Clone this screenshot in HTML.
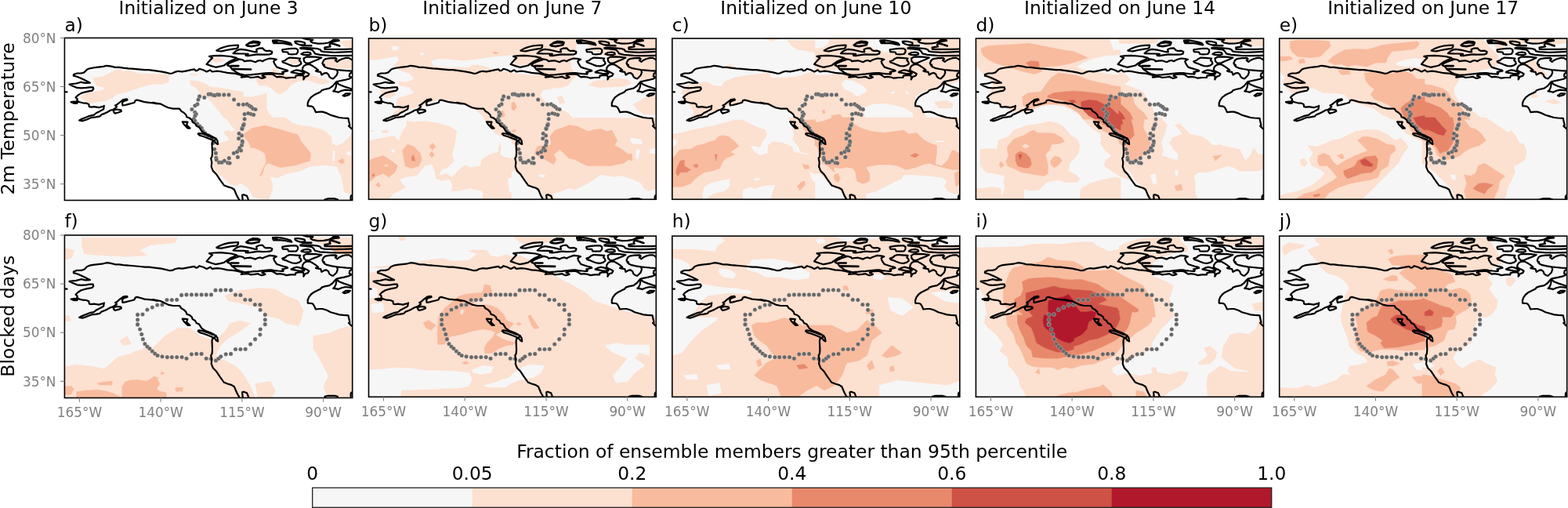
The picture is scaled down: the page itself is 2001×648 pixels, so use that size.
<!DOCTYPE html><html><head><meta charset="utf-8"><style>html,body{margin:0;padding:0;background:#fff;}body{width:2001px;height:648px;overflow:hidden;}svg{display:block;}text{font-family:"DejaVu Sans", "Liberation Sans", sans-serif;}</style></head><body>
<svg width="2001" height="648" viewBox="0 0 2001 648">
<defs>
<clipPath id="cp00"><rect x="82.4" y="48.4" width="367.3" height="207.1"/></clipPath>
<clipPath id="cp01"><rect x="470.5" y="49.0" width="366.8" height="205.3"/></clipPath>
<clipPath id="cp02"><rect x="857.8" y="49.0" width="367.0" height="205.3"/></clipPath>
<clipPath id="cp03"><rect x="1245.4" y="49.0" width="367.1" height="205.3"/></clipPath>
<clipPath id="cp04"><rect x="1632.7" y="49.0" width="367.0" height="205.3"/></clipPath>
<clipPath id="cp10"><rect x="82.4" y="300.0" width="367.3" height="207.5"/></clipPath>
<clipPath id="cp11"><rect x="470.5" y="301.1" width="366.8" height="205.2"/></clipPath>
<clipPath id="cp12"><rect x="857.8" y="301.1" width="367.0" height="205.2"/></clipPath>
<clipPath id="cp13"><rect x="1245.4" y="301.1" width="367.1" height="205.2"/></clipPath>
<clipPath id="cp14"><rect x="1632.7" y="301.1" width="367.0" height="205.2"/></clipPath>
</defs>
<g clip-path="url(#cp00)">
<rect x="82.4" y="48.4" width="367.3" height="207.1" fill="#ffffff"/>
<path d="M190.0,130.8 195.4,131.3 200.8,132.4 195.0,130.8 200.4,131.8 205.0,132.6 209.6,134.9 214.3,137.2 220.7,138.6 229.1,138.6 231.4,141.9 234.6,143.7 237.4,146.5 238.3,149.3 242.0,150.6 244.8,153.0 245.7,155.7 249.0,157.6 250.8,160.8 254.0,162.2 254.9,163.5 255.9,165.0 257.3,167.3 258.0,167.8 259.4,169.8 271.3,174.9 271.5,175.5 271.0,175.4 264.6,172.7 258.1,170.5 253.2,170.0 252.7,171.0 254.8,172.7 260.2,174.3 265.6,176.4 271.0,178.6 272.9,179.8 271.0,180.8 270.5,184.0 270.8,190.5 271.0,194.8 270.5,200.0 269.2,201.9 270.3,207.3 269.7,212.7 271.9,218.1 276.2,222.4 280.5,228.9 285.9,236.4 290.2,238.1 295.6,239.7 298.9,241.8 302.1,249.4 305.4,255.3 305.5,256.5 450.7,256.5 450.7,248.1 439.4,244.9 437.7,235.1 436.1,226.9 432.8,218.7 429.6,212.2 413.2,210.5 396.8,212.2 380.5,218.7 364.1,222.0 354.3,226.9 344.5,225.2 347.8,235.1 347.8,241.6 342.9,254.7 323.2,251.4 320.0,244.9 315.1,238.3 306.9,233.4 302.0,236.7 293.8,235.1 285.6,226.9 275.8,218.7 272.5,212.2 272.5,199.1 274.2,187.6 274.4,187.4 274.7,185.1 279.3,183.4 279.3,184.4 281.6,182.6 293.4,178.3 290.4,175.3 291.1,174.7 288.3,173.3 285.6,167.8 292.5,166.4 296.2,168.8 297.8,166.9 301.9,166.4 298.6,164.0 288.3,151.1 285.0,149.6 281.5,144.3 273.0,134.1 266.0,125.7 265.2,124.8 264.5,124.0 258.4,123.2 250.8,112.5 244.1,108.7 244.0,108.3 242.6,107.4 242.6,104.7 242.4,104.4 242.6,104.5 242.6,102.6 255.4,104.2 266.6,109.0 266.6,110.7 282.1,112.2 298.1,115.4 309.4,117.0 311.0,120.3 308.9,122.3 318.8,124.0 329.0,122.3 340.1,118.9 340.1,138.3 343.1,144.3 347.6,150.0 364.1,150.0 372.3,156.5 380.5,159.8 396.8,161.4 413.2,166.4 423.0,174.5 423.0,182.7 429.6,186.0 437.7,182.7 445.9,174.5 450.7,166.6 450.7,164.3 448.7,164.3 445.0,160.6 446.4,160.0 445.9,157.4 445.0,153.7 444.5,150.9 437.6,150.5 433.0,150.0 426.5,148.1 421.9,146.8 417.2,144.4 411.7,142.6 408.0,142.6 402.9,143.1 401.5,139.8 399.6,136.6 397.8,135.6 392.7,135.2 392.7,131.5 394.1,127.8 396.9,124.1 400.6,121.3 405.2,119.0 405.6,118.9 409.3,117.0 410.5,115.2 414.2,114.0 420.4,112.7 424.7,109.6 427.8,105.9 429.6,104.1 432.7,103.5 438.9,102.2 445.1,100.7 448.2,99.1 430.3,90.2 430.9,92.3 429.6,96.0 426.6,99.1 425.0,100.4 422.8,99.8 420.3,97.9 419.1,94.8 416.6,93.0 414.1,93.3 410.4,95.5 409.2,91.8 404.3,91.1 403.0,90.5 406.1,89.3 403.0,86.8 399.3,84.3 395.6,82.2 391.9,81.9 388.2,83.7 386.4,86.2 385.7,89.3 388.2,91.1 391.3,92.4 394.4,94.2 393.9,95.1 399.3,96.2 407.3,99.4 418.5,102.6 420.1,105.8 410.5,107.4 402.5,105.8 394.5,102.6 388.0,102.6 378.4,104.2 370.4,109.0 365.6,115.4 357.5,120.3 352.7,118.6 346.3,112.2 339.9,109.0 330.2,109.0 327.0,101.0 331.3,98.8 329.3,97.8 324.6,98.5 320.0,99.0 316.6,97.7 312.2,98.1 307.8,98.6 309.5,97.3 307.8,95.9 303.4,94.6 299.0,93.7 294.6,93.3 290.2,92.9 285.8,92.0 281.4,91.1 277.0,90.7 270.8,91.5 268.2,89.3 263.8,91.5 259.4,89.3 254.4,87.8 252.2,89.7 250.1,90.3 247.9,88.4 243.6,89.2 238.2,90.3 232.8,91.3 227.4,90.8 223.1,91.9 219.8,93.5 216.6,93.8 211.2,92.4 205.8,91.3 195.4,89.9 190.0,89.2 184.6,89.2 179.2,88.6 173.8,88.1 168.4,87.6 164.1,87.3 157.6,86.7 152.2,85.9 146.8,85.9 144.6,85.2 140.3,84.3 136.0,83.8 131.7,84.9 127.4,85.4 123.0,85.9 118.7,86.5 114.4,87.3 111.2,88.6 109.0,90.8 107.4,92.4 103.6,93.5 98.2,93.5 93.9,95.1 93.9,96.7 98.2,97.8 103.6,100.0 107.9,102.1 111.2,103.8 114.9,105.7 109.0,105.9 103.6,104.8 97.1,106.5 88.5,107.5 92.8,109.7 98.2,111.9 103.6,112.4 110.1,111.9 114.4,111.3 118.7,111.3 119.3,113.5 117.6,115.6 114.4,116.2 109.0,117.3 103.6,118.9 99.3,121.6 96.6,124.3 98.7,126.4 98.2,128.6 101.4,130.2 105.8,131.3 110.1,131.6 113.3,132.9 113.9,136.2 116.6,136.7 119.8,136.2 123.0,136.7 126.3,137.2 129.5,136.2 132.7,135.6 132.2,139.2 127.4,141.9 123.0,144.0 119.8,146.7 114.4,147.8 109.0,150.0 103.6,152.1 101.2,153.5 105.2,154.3 110.1,152.7 116.6,150.0 122.0,149.4 127.4,148.4 129.5,146.2 133.8,144.6 137.1,143.0 140.9,140.8 144.6,139.7 147.3,137.8 149.0,136.3 147.1,134.5 150.0,133.0 151.1,131.8 155.4,128.6 157.6,127.0 161.9,126.4 162.5,127.5 157.6,129.1 156.0,131.3 156.5,134.5 159.8,134.0 164.1,132.9 168.4,131.8 171.6,130.8 172.7,128.1 174.9,127.5 179.2,128.6 184.6,130.2ZM132.8,134.9 132.8,135.6 132.7,135.6ZM162.3,117.0 149.4,120.3 143.0,125.1 135.0,128.3 123.7,129.9 114.1,131.5 106.1,126.7 102.9,123.5 110.9,118.6 122.1,117.0 130.2,115.4 135.0,112.2 128.6,110.6 123.7,109.0 120.5,104.2 118.9,99.4 130.2,97.8 138.2,94.6 146.2,90.1 152.6,88.1 157.5,91.4 160.1,90.8 163.9,88.9 166.4,90.9 178.3,94.6 194.4,94.6 210.5,94.6 215.3,96.2 215.3,104.2 207.2,107.4 194.4,107.4 181.6,110.6 171.9,113.8ZM244.2,96.2 242.6,94.6 252.2,94.6 250.6,96.2ZM377.4,96.7 377.2,97.6 378.4,97.8 385.6,96.0 382.0,95.8 377.7,96.7ZM334.4,96.7 335.2,96.9 336.6,96.2 339.6,94.7 338.5,94.8 335.3,95.7ZM239.4,155.6 232.8,155.3 234.6,158.5 239.7,163.6 242.5,163.6 238.1,159.4ZM95.0,129.5 90.6,130.2 93.9,131.6 98.2,131.8 99.3,130.2ZM154.4,140.3 149.0,139.5 144.6,140.8 145.2,143.0 146.8,144.6 151.1,143.5 154.9,141.9ZM298.2,57.9 292.0,58.5 285.9,60.0 280.9,61.9 276.3,64.4 277.8,65.0 282.8,65.3 289.0,64.0 295.1,62.8 301.9,61.9 303.8,60.3 304.1,57.6ZM313.6,70.8 316.7,71.1 322.9,70.2 329.1,69.3 335.0,69.7 339.9,69.6 344.3,69.3 346.7,68.4 347.3,65.9 344.3,64.7 339.9,65.0 337.5,64.0 335.0,61.3 330.9,61.6 327.2,63.1 327.8,66.5 324.8,66.2 319.8,65.0 313.6,63.7 307.5,62.8 304.4,63.4 300.7,65.3 297.6,68.1 304.4,68.4 310.6,68.5 316.7,68.9 313.6,69.3ZM273.5,71.1 267.0,71.8 271.0,73.9 269.8,75.2 278.8,73.7 286.9,76.9 275.6,80.1 269.5,75.5 267.3,77.6 263.6,82.0 270.4,84.4 275.4,85.8 280.9,84.7 285.9,83.5 289.6,80.7 293.3,78.2 298.2,76.1 301.9,73.9 295.1,72.1 289.0,71.5 280.9,70.8ZM350.4,75.2 344.3,74.5 339.9,75.8 336.9,77.0 335.0,78.2 332.2,77.0 329.1,77.6 326.0,79.2 322.9,78.2 319.8,77.3 315.5,77.6 311.8,78.2 310.6,76.7 307.5,75.8 303.1,75.2 304.3,76.1 299.0,77.9 292.8,80.5 290.2,83.2 293.7,84.9 296.3,88.5 299.0,90.2 302.5,92.9 306.0,94.2 312.2,95.9 316.6,95.5 320.0,95.3 324.6,94.8 329.3,94.4 333.9,93.9 338.5,93.4 343.0,93.0 346.3,91.4 349.5,86.5 355.9,91.4 361.6,93.7 361.7,93.4 360.3,92.0 361.7,91.6 364.0,91.1 367.2,90.4 366.3,89.5 361.7,88.3 357.0,86.9 353.3,85.6 351.9,83.7 350.1,80.9 349.2,78.2 350.4,77.0 352.9,75.8ZM370.8,55.1 365.9,53.6 359.7,52.3 353.5,51.4 348.0,51.7 348.3,53.2 349.2,55.1 356.6,54.8 362.8,55.4 368.3,56.6 372.3,57.3ZM379.4,56.0 383.1,57.3 387.5,57.3 389.3,56.0 388.7,54.2 384.4,53.2 379.4,52.6 376.4,52.9 377.0,54.8ZM368.3,69.0 372.0,69.3 378.2,69.0 380.1,66.5 380.1,63.4 377.6,61.9 372.0,61.9 365.9,62.5 360.3,63.4 360.3,64.7 360.9,66.2 367.1,66.5ZM387.5,67.1 384.4,69.0 387.5,69.9 393.6,70.2 396.7,69.3 396.1,67.4 392.4,66.5ZM375.1,73.9 369.6,73.6 365.9,75.2 364.0,77.0 360.3,78.2 360.9,79.5 364.6,80.7 369.0,82.6 373.3,84.1 378.2,84.4 381.9,83.2 384.4,81.3 383.8,78.9 381.9,77.0 383.1,74.5ZM381.6,80.1 372.0,81.7 368.8,76.1 380.0,75.3ZM406.0,75.8 410.3,73.6 402.9,72.7 396.7,72.4 390.6,72.7 387.5,74.5 388.1,78.2 390.6,80.7 394.3,80.7 399.8,78.2ZM375.9,93.0 380.8,93.9 385.1,94.2 388.2,93.9 388.2,93.0 385.1,91.1 382.0,89.9 378.3,89.3 374.6,90.5 371.5,92.1 372.2,92.4ZM448.2,113.3 438.9,110.2 432.7,107.8 429.6,104.7 429.3,107.2 428.7,110.9 427.2,114.6 425.3,116.4 429.6,117.0 431.5,117.7 435.8,115.8 440.8,114.6 448.2,115.5ZM445.0,121.3 446.9,119.4 441.3,119.4 437.6,121.8 439.4,122.7ZM434.0,75.6 439.4,76.9 448.4,75.6 442.2,74.9 437.6,74.9ZM412.6,79.5 412.6,81.3 413.5,83.6 416.9,84.9 413.7,81.7 413.7,78.0ZM434.6,86.5 418.7,86.5 419.1,86.9 428.3,88.7 437.6,89.7 449.6,90.6 449.6,88.0ZM423.8,205.6 427.1,205.6 427.9,192.5 424.7,190.9ZM441.0,194.2 444.3,199.1 449.2,197.4 447.6,192.5Z" fill="#f7f6f6" fill-rule="evenodd" stroke="#f7f6f6" stroke-width="0.6" stroke-linejoin="round"/>
<path d="M181.6,110.6 194.4,107.4 207.2,107.4 215.3,104.2 215.3,96.2 210.5,94.6 194.4,94.6 178.3,94.6 166.4,90.9 163.9,88.9 160.1,90.8 157.5,91.4 152.6,88.1 146.2,90.1 138.2,94.6 130.2,97.8 118.9,99.4 120.5,104.2 123.7,109.0 128.6,110.6 135.0,112.2 130.2,115.4 122.1,117.0 110.9,118.6 102.9,123.5 106.1,126.7 114.1,131.5 123.7,129.9 135.0,128.3 143.0,125.1 149.4,120.3 162.3,117.0 171.9,113.8ZM266.6,110.7 266.6,109.0 255.4,104.2 242.6,102.6 242.6,104.5 242.4,104.4 242.6,104.7 242.6,107.4 244.0,108.3 244.1,108.7 250.8,112.5 258.4,123.2 264.5,124.0 265.2,124.8 266.0,125.7 273.0,134.1 281.5,144.3 285.0,149.6 288.3,151.1 298.6,164.0 301.9,166.4 297.8,166.9 296.2,168.8 292.5,166.4 285.6,167.8 288.3,173.3 291.1,174.7 290.4,175.3 293.4,178.3 281.6,182.6 279.3,184.4 279.3,183.4 274.7,185.1 274.4,187.4 274.2,187.6 272.5,199.1 272.5,212.2 275.8,218.7 285.6,226.9 293.8,235.1 302.0,236.7 306.9,233.4 315.1,238.3 320.0,244.9 323.2,251.4 342.9,254.7 347.8,241.6 347.8,235.1 344.5,225.2 354.3,226.9 364.1,222.0 380.5,218.7 396.8,212.2 413.2,210.5 429.6,212.2 432.8,218.7 436.1,226.9 437.7,235.1 439.4,244.9 450.7,248.1 450.7,166.6 445.9,174.5 437.7,182.7 429.6,186.0 423.0,182.7 423.0,174.5 413.2,166.4 396.8,161.4 380.5,159.8 372.3,156.5 364.1,150.0 347.6,150.0 343.1,144.3 340.1,138.3 340.1,118.9 329.0,122.3 318.8,124.0 308.9,122.3 311.0,120.3 309.4,117.0 298.1,115.4 282.1,112.2ZM423.8,205.6 424.7,190.9 427.9,192.5 427.1,205.6ZM449.2,197.4 444.3,199.1 441.0,194.2 447.6,192.5ZM437.7,202.3 439.4,207.2 436.1,208.9 431.2,205.6ZM311.9,170.6 321.7,163.6 338.3,160.1 356.4,165.0 380.0,171.9 384.2,180.3 396.7,195.6 395.3,205.3 385.6,208.1 377.2,210.8 368.9,212.2 357.8,213.6 349.4,210.8 342.5,208.1 338.3,210.8 334.2,223.3 331.4,224.7 335.6,215.0 339.7,206.7 338.3,195.6 331.4,191.4 324.4,188.6 320.3,188.6 317.5,181.7 311.9,174.7ZM252.2,94.6 242.6,94.6 244.2,96.2 250.6,96.2ZM418.5,102.6 407.3,99.4 399.3,96.2 391.2,94.6 378.4,97.8 365.6,95.4 355.9,91.4 349.5,86.5 346.3,91.4 336.6,96.2 327.0,101.0 330.2,109.0 339.9,109.0 346.3,112.2 352.7,118.6 357.5,120.3 365.6,115.4 370.4,109.0 378.4,104.2 388.0,102.6 394.5,102.6 402.5,105.8 410.5,107.4 420.1,105.8ZM450.6,75.3 439.4,76.9 426.6,73.7 413.7,75.3 413.7,81.7 418.5,86.5 434.6,86.5 450.6,88.1ZM433.0,52.8 439.4,59.2 450.6,62.5 450.6,51.2ZM368.8,76.1 372.0,81.7 381.6,80.1 380.0,75.3ZM278.8,73.7 269.2,75.3 275.6,80.1 286.9,76.9Z" fill="#fce0d0" fill-rule="evenodd" stroke="#fce0d0" stroke-width="0.6" stroke-linejoin="round"/>
<path d="M439.4,207.2 437.7,202.3 431.2,205.6 436.1,208.9ZM311.9,174.7 317.5,181.7 320.3,188.6 324.4,188.6 331.4,191.4 338.3,195.6 339.7,206.7 335.6,215.0 331.4,224.7 334.2,223.3 338.3,210.8 342.5,208.1 349.4,210.8 357.8,213.6 368.9,212.2 377.2,210.8 385.6,208.1 395.3,205.3 396.7,195.6 384.2,180.3 380.0,171.9 356.4,165.0 338.3,160.1 321.7,163.6 311.9,170.6Z" fill="#f8bb9e" fill-rule="evenodd" stroke="#f8bb9e" stroke-width="0.6" stroke-linejoin="round"/>
<g fill="#666666" stroke="#ffffff" stroke-width="0.35" stroke-opacity="0.7"><circle cx="254.6" cy="122.9" r="2.6"/><circle cx="253.0" cy="127.1" r="2.6"/><circle cx="251.9" cy="132.9" r="2.6"/><circle cx="248.8" cy="134.8" r="2.6"/><circle cx="244.9" cy="139.5" r="2.6"/><circle cx="248.8" cy="143.3" r="2.6"/><circle cx="250.3" cy="145.6" r="2.6"/><circle cx="248.8" cy="148.0" r="2.6"/><circle cx="247.3" cy="151.8" r="2.6"/><circle cx="248.8" cy="154.1" r="2.6"/><circle cx="251.9" cy="158.0" r="2.6"/><circle cx="255.0" cy="161.1" r="2.6"/><circle cx="257.3" cy="163.4" r="2.6"/><circle cx="260.8" cy="124.4" r="2.6"/><circle cx="266.2" cy="120.2" r="2.6"/><circle cx="268.9" cy="120.2" r="2.6"/><circle cx="272.0" cy="121.3" r="2.6"/><circle cx="274.3" cy="121.7" r="2.6"/><circle cx="277.4" cy="120.6" r="2.6"/><circle cx="279.7" cy="120.9" r="2.6"/><circle cx="285.8" cy="120.9" r="2.6"/><circle cx="292.0" cy="120.9" r="2.6"/><circle cx="298.6" cy="127.1" r="2.6"/><circle cx="304.4" cy="133.3" r="2.6"/><circle cx="310.5" cy="133.3" r="2.6"/><circle cx="315.2" cy="132.9" r="2.6"/><circle cx="318.2" cy="134.8" r="2.6"/><circle cx="320.6" cy="136.4" r="2.6"/><circle cx="322.9" cy="138.7" r="2.6"/><circle cx="326.0" cy="139.5" r="2.6"/><circle cx="323.6" cy="146.4" r="2.6"/><circle cx="319.8" cy="145.3" r="2.6"/><circle cx="316.7" cy="144.5" r="2.6"/><circle cx="312.1" cy="145.6" r="2.6"/><circle cx="312.1" cy="151.8" r="2.6"/><circle cx="311.3" cy="158.4" r="2.6"/><circle cx="310.5" cy="160.3" r="2.6"/><circle cx="309.0" cy="163.4" r="2.6"/><circle cx="259.2" cy="167.3" r="2.6"/><circle cx="261.8" cy="169.9" r="2.6"/><circle cx="266.0" cy="172.9" r="2.6"/><circle cx="270.3" cy="176.7" r="2.6"/><circle cx="272.0" cy="182.6" r="2.6"/><circle cx="273.7" cy="190.3" r="2.6"/><circle cx="275.4" cy="195.4" r="2.6"/><circle cx="275.8" cy="201.3" r="2.6"/><circle cx="276.2" cy="203.8" r="2.6"/><circle cx="279.6" cy="207.2" r="2.6"/><circle cx="283.0" cy="207.2" r="2.6"/><circle cx="286.4" cy="205.1" r="2.6"/><circle cx="290.6" cy="207.7" r="2.6"/><circle cx="293.2" cy="208.1" r="2.6"/><circle cx="292.3" cy="201.7" r="2.6"/><circle cx="298.3" cy="195.4" r="2.6"/><circle cx="302.5" cy="193.7" r="2.6"/><circle cx="303.4" cy="200.4" r="2.6"/><circle cx="305.1" cy="191.1" r="2.6"/><circle cx="307.6" cy="192.0" r="2.6"/><circle cx="305.9" cy="188.6" r="2.6"/><circle cx="308.5" cy="185.2" r="2.6"/><circle cx="309.3" cy="181.8" r="2.6"/><circle cx="309.3" cy="180.1" r="2.6"/><circle cx="304.6" cy="176.7" r="2.6"/><circle cx="308.5" cy="172.9" r="2.6"/><circle cx="305.1" cy="170.3" r="2.6"/><circle cx="308.9" cy="164.4" r="2.6"/><circle cx="310.6" cy="159.7" r="2.6"/></g>
<path d="M101.2,153.5 L103.6,152.1 L109.0,150.0 L114.4,147.8 L119.8,146.7 L123.0,144.0 L127.4,141.9 L132.2,139.2 L132.8,134.9 L132.8,135.6 L129.5,136.2 L126.3,137.2 L123.0,136.7 L119.8,136.2 L116.6,136.7 L113.9,136.2 L113.3,132.9 L110.1,131.6 L105.8,131.3 L101.4,130.2 L98.2,128.6 L98.7,126.4 L96.6,124.3 L99.3,121.6 L103.6,118.9 L109.0,117.3 L114.4,116.2 L117.6,115.6 L119.3,113.5 L118.7,111.3 L114.4,111.3 L110.1,111.9 L103.6,112.4 L98.2,111.9 L92.8,109.7 L88.5,107.5 L97.1,106.5 L103.6,104.8 L109.0,105.9 L114.9,105.7 L111.2,103.8 L107.9,102.1 L103.6,100.0 L98.2,97.8 L93.9,96.7 L93.9,95.1 L98.2,93.5 L103.6,93.5 L107.4,92.4 L109.0,90.8 L111.2,88.6 L114.4,87.3 L118.7,86.5 L123.0,85.9 L127.4,85.4 L131.7,84.9 L136.0,83.8 L140.3,84.3 L144.6,85.2 L146.8,85.9 L152.2,85.9 L157.6,86.7 L164.1,87.3 L168.4,87.6 L173.8,88.1 L179.2,88.6 L184.6,89.2 L190.0,89.2 L195.4,89.9 L205.8,91.3 L211.2,92.4 L216.6,93.8 L219.8,93.5 L223.1,91.9 L227.4,90.8 L232.8,91.3 L238.2,90.3 L243.6,89.2 L247.9,88.4 L250.1,90.3 L252.2,89.7 L254.4,87.8 L259.4,89.3 L263.8,91.5 L268.2,89.3 L270.8,91.5 L277.0,90.7 L281.4,91.1 L285.8,92.0 L290.2,92.9 L294.6,93.3 L299.0,93.7 L303.4,94.6 L307.8,95.9 L309.5,97.3 L307.8,98.6 L312.2,98.1 L316.6,97.7 L320.0,99.0 L324.6,98.5 L329.3,97.8 L331.6,99.0 L333.9,99.9 L336.2,99.4 L338.5,98.5 L336.2,97.1 L334.4,96.7 L335.3,95.7 L338.5,94.8 L343.1,94.4 L346.4,94.6 L348.7,95.3 L351.5,97.1 L353.3,98.3 L357.0,97.8 L361.7,98.5 L365.4,99.7 L370.9,99.0 L376.9,99.0 L377.4,96.7 L377.7,96.7 L382.0,95.8 L387.0,96.1 L387.6,99.2 L387.3,101.3 L389.4,97.9 L393.1,96.7 L394.4,94.2 L391.3,92.4 L388.2,91.1 L385.7,89.3 L386.4,86.2 L388.2,83.7 L391.9,81.9 L395.6,82.2 L399.3,84.3 L403.0,86.8 L406.1,89.3 L403.0,90.5 L404.3,91.1 L409.2,91.8 L410.4,95.5 L414.1,93.3 L416.6,93.0 L419.1,94.8 L420.3,97.9 L422.8,99.8 L425.0,100.4 L426.6,99.1 L429.6,96.0 L430.9,92.3 L430.3,90.2 M448.2,99.1 L445.1,100.7 L438.9,102.2 L432.7,103.5 L429.6,104.1 L427.8,105.9 L424.7,109.6 L420.4,112.7 L414.2,114.0 L410.5,115.2 L409.3,117.0 L405.6,118.9 L405.2,119.0 L400.6,121.3 L396.9,124.1 L394.1,127.8 L392.7,131.5 L392.7,135.2 L397.8,135.6 L399.6,136.6 L401.5,139.8 L402.9,143.1 L408.0,142.6 L411.7,142.6 L417.2,144.4 L421.9,146.8 L426.5,148.1 L433.0,150.0 L437.6,150.5 L444.5,150.9 L445.0,153.7 L445.9,157.4 L446.4,160.0 L445.0,160.6 L448.7,164.3 M448.8,92.3 L446.3,94.2 L445.7,97.3 L448.2,98.5 M101.2,153.5 L105.2,154.3 L110.1,152.7 L116.6,150.0 L122.0,149.4 L127.4,148.4 L129.5,146.2 L133.8,144.6 L137.1,143.0 L140.9,140.8 L144.6,139.7 L147.3,137.8 L149.0,136.3 L147.1,134.5 L150.0,133.0 L151.1,131.8 L155.4,128.6 L157.6,127.0 L161.9,126.4 L162.5,127.5 L157.6,129.1 L156.0,131.3 L156.5,134.5 L159.8,134.0 L164.1,132.9 L168.4,131.8 L171.6,130.8 L172.7,128.1 L174.9,127.5 L179.2,128.6 L184.6,130.2 L190.0,130.8 L195.4,131.3 L200.8,132.4 L195.0,130.8 L200.4,131.8 L205.0,132.6 L209.6,134.9 L214.3,137.2 L220.7,138.6 L229.1,138.6 L231.4,141.9 L234.6,143.7 L237.4,146.5 L238.3,149.3 L242.0,150.6 L244.8,153.0 L245.7,155.7 L249.0,157.6 L250.8,160.8 L254.1,162.2 L255.9,165.0 L257.3,167.3 L260.6,169.6 L262.4,170.5 L268.9,173.2 L273.2,175.4 L275.4,177.5 L273.2,179.7 L271.0,180.8 L270.5,184.0 L270.8,190.5 L271.0,194.8 L270.5,200.0 L269.2,201.9 L270.3,207.3 L269.7,212.7 L271.9,218.1 L276.2,222.4 L280.5,228.9 L285.9,236.4 L290.2,238.1 L295.6,239.7 L298.9,241.8 L302.1,249.4 L305.4,255.3 L305.9,259.1 M253.2,170.0 L258.1,170.5 L264.6,172.7 L271.0,175.4 L275.4,176.4 L277.5,179.7 L278.1,184.0 L275.9,182.9 L274.3,180.8 L271.0,178.6 L265.6,176.4 L260.2,174.3 L254.8,172.7 L252.7,171.0Z M232.8,155.3 L239.4,155.6 L238.1,159.4 L242.5,163.6 L239.7,163.6 L234.6,158.5Z M309.7,259.1 L309.7,255.3 L309.1,248.9 L310.8,248.3 L315.1,249.9 L317.2,255.3 L317.8,259.1 M90.6,130.2 L95.0,129.5 L99.3,130.2 L98.2,131.8 L93.9,131.6Z M144.6,140.8 L149.0,139.5 L154.4,140.3 L154.9,141.9 L151.1,143.5 L146.8,144.6 L145.2,143.0Z M82.0,117.0 L85.5,117.3 M276.3,64.4 L280.9,61.9 L285.9,60.0 L292.0,58.5 L298.2,57.9 L304.1,57.6 L303.8,60.3 L301.9,61.9 L295.1,62.8 L289.0,64.0 L282.8,65.3 L277.8,65.0Z M297.6,68.1 L300.7,65.3 L304.4,63.4 L307.5,62.8 L313.6,63.7 L319.8,65.0 L324.8,66.2 L327.8,66.5 L327.2,63.1 L330.9,61.6 L335.0,61.3 L337.5,64.0 L339.9,65.0 L344.3,64.7 L347.3,65.9 L346.7,68.4 L344.3,69.3 L339.9,69.6 L335.0,69.7 L329.1,69.3 L322.9,70.2 L316.7,71.1 L313.6,70.8 L313.6,69.3 L316.7,68.9 L310.6,68.5 L304.4,68.4Z M267.0,71.8 L273.5,71.1 L280.9,70.8 L289.0,71.5 L295.1,72.1 L301.9,73.9 L298.2,76.1 L293.3,78.2 L289.6,80.7 L285.9,83.5 L280.9,84.7 L275.4,85.8 L270.4,84.4 L263.6,82.0 L267.3,77.6 L271.0,73.9Z M290.2,83.2 L292.8,80.5 L299.0,77.9 L304.3,76.1 L303.1,75.2 L307.5,75.8 L310.6,76.7 L311.8,78.2 L315.5,77.6 L319.8,77.3 L322.9,78.2 L326.0,79.2 L329.1,77.6 L332.2,77.0 L335.0,78.2 L336.9,77.0 L339.9,75.8 L344.3,74.5 L350.4,75.2 L352.9,75.8 L350.4,77.0 L349.2,78.2 L350.1,80.9 L351.9,83.7 L353.3,85.6 L357.0,86.9 L361.7,88.3 L366.3,89.5 L367.2,90.4 L364.0,91.1 L361.7,91.6 L360.3,92.0 L361.7,93.4 L361.2,94.6 L359.4,94.4 L354.7,94.1 L350.1,93.7 L346.4,93.0 L343.1,93.0 L338.5,93.4 L333.9,93.9 L329.3,94.4 L324.6,94.8 L320.0,95.3 L316.6,95.5 L312.2,95.9 L306.0,94.2 L302.5,92.9 L299.0,90.2 L296.3,88.5 L293.7,84.9Z M348.0,51.7 L353.5,51.4 L359.7,52.3 L365.9,53.6 L370.8,55.1 L372.3,57.3 L368.3,56.6 L362.8,55.4 L356.6,54.8 L349.2,55.1 L348.3,53.2Z M376.4,52.9 L379.4,52.6 L384.4,53.2 L388.7,54.2 L389.3,56.0 L387.5,57.3 L383.1,57.3 L379.4,56.0 L377.0,54.8Z M360.3,63.4 L365.9,62.5 L372.0,61.9 L377.6,61.9 L380.1,63.4 L380.1,66.5 L378.2,69.0 L372.0,69.3 L368.3,69.0 L367.1,66.5 L360.9,66.2 L360.3,64.7Z M384.4,69.0 L387.5,67.1 L392.4,66.5 L396.1,67.4 L396.7,69.3 L393.6,70.2 L387.5,69.9Z M360.3,78.2 L364.0,77.0 L365.9,75.2 L369.6,73.6 L375.1,73.9 L383.1,74.5 L381.9,77.0 L383.8,78.9 L384.4,81.3 L381.9,83.2 L378.2,84.4 L373.3,84.1 L369.0,82.6 L364.6,80.7 L360.9,79.5Z M387.5,74.5 L390.6,72.7 L396.7,72.4 L402.9,72.7 L410.3,73.6 L406.0,75.8 L399.8,78.2 L394.3,80.7 L390.6,80.7 L388.1,78.2Z M371.5,92.1 L374.6,90.5 L378.3,89.3 L382.0,89.9 L385.1,91.1 L388.2,93.0 L388.2,93.9 L385.1,94.2 L380.8,93.9 L375.9,93.0 L372.2,92.4Z M386.4,48.7 L392.0,50.2 L399.4,50.8 L396.3,52.6 L398.8,54.5 L405.6,55.7 L413.0,55.5 L419.1,54.5 L423.5,52.3 L425.3,50.5 L432.1,50.8 L432.7,52.0 L427.8,52.6 L423.5,53.6 M422.9,54.8 L420.4,57.3 L421.6,59.4 L414.2,60.7 L414.5,62.8 L426.6,62.8 L438.9,62.8 L449.1,62.5 M383.3,61.0 L389.5,61.1 L396.9,61.3 L405.6,62.2 L408.7,63.4 L409.9,65.3 L414.2,66.2 L426.6,66.8 L438.9,66.4 L449.1,65.9 M383.3,61.0 L383.3,61.9 L389.5,62.5 L397.5,63.4 L400.0,65.3 L401.9,68.4 L408.0,69.9 L420.4,70.8 L432.7,71.1 L449.1,70.8 M449.1,76.4 L447.5,75.2 L445.1,73.9 L441.4,73.9 L436.4,75.2 L432.7,77.0 L430.3,78.9 L427.8,77.0 L429.6,75.2 L428.4,73.9 L421.6,74.2 L415.4,75.2 L413.0,77.0 L411.4,80.7 L413.0,83.8 L413.6,82.5 L414.2,85.2 L417.9,86.8 L423.5,88.0 L429.6,89.0 L435.8,89.6 L442.0,90.2 L449.1,90.6 M429.6,104.7 L432.7,107.8 L438.9,110.2 L448.2,113.3 L448.2,115.5 L440.8,114.6 L435.8,115.8 L431.5,117.7 L429.6,117.0 L425.3,116.4 L427.2,114.6 L428.7,110.9 L429.3,107.2Z M437.6,121.8 L441.3,119.4 L446.9,119.4 L445.0,121.3 L439.4,122.7Z M414.5,254.5 L418.6,253.4 L426.8,253.4 L430.9,254.5 M447.6,254.5 L447.6,250.8 L448.4,249.2" fill="none" stroke="#000" stroke-width="2.2" stroke-linejoin="round" stroke-linecap="round"/>
<path d="M318.6,54.2 L322.9,52.8 L329.1,53.1 L331.5,54.2 L330.6,55.9 L324.1,55.5 L319.2,56.3Z" fill="#000"/>
<path d="M314.3,57.6 L318.6,54.5 L322.9,52.9 L329.1,53.2 L331.5,54.2 L330.3,57.3 L326.0,58.2 L321.0,59.1 L316.1,58.5Z M294.6,84.1 L304.3,84.1 M297.2,88.0 L320.1,88.5 M348.3,52.3 L353.5,53.6 M385.6,58.2 L397.3,58.2 M421.6,55.1 L426.6,56.3 L433.3,58.5" fill="none" stroke="#000" stroke-width="2.6" stroke-linejoin="round" stroke-linecap="round"/>
</g>
<rect x="82.4" y="48.4" width="367.3" height="207.1" fill="none" stroke="#000" stroke-width="1.6"/>
<text x="82.4" y="39.5" font-size="23.3">a)</text>
<text x="266.1" y="17.5" font-size="23.3" text-anchor="middle">Initialized on June 3</text>
<line x1="77.1" y1="48.4" x2="82.4" y2="48.4" stroke="#808080" stroke-width="1.1"/>
<text x="71.5" y="54.6" font-size="16.9" fill="#808080" text-anchor="end">80°N</text>
<line x1="77.1" y1="110.5" x2="82.4" y2="110.5" stroke="#808080" stroke-width="1.1"/>
<text x="71.5" y="116.7" font-size="16.9" fill="#808080" text-anchor="end">65°N</text>
<line x1="77.1" y1="172.6" x2="82.4" y2="172.6" stroke="#808080" stroke-width="1.1"/>
<text x="71.5" y="178.8" font-size="16.9" fill="#808080" text-anchor="end">50°N</text>
<line x1="77.1" y1="234.7" x2="82.4" y2="234.7" stroke="#808080" stroke-width="1.1"/>
<text x="71.5" y="240.9" font-size="16.9" fill="#808080" text-anchor="end">35°N</text>
<g clip-path="url(#cp01)">
<rect x="470.5" y="49.0" width="366.8" height="205.3" fill="#fce0d0"/>
<path d="M502.1,83.3 508.5,76.9 506.9,72.1 495.7,73.7 486.0,76.1 470.0,76.9 470.0,150.0 470.0,166.2 476.5,166.2 478.1,167.8 470.0,168.6 470.0,179.2 486.2,175.9 502.4,172.7 508.9,179.2 512.1,169.4 518.6,159.7 518.6,153.2 526.7,154.9 542.9,154.0 559.1,156.5 575.3,161.3 583.4,167.8 581.8,177.5 580.2,187.3 576.9,197.0 580.2,205.1 570.4,214.8 564.0,216.4 560.7,222.9 570.4,221.3 576.9,226.1 583.4,218.0 593.1,209.9 599.6,213.2 612.6,211.6 614.2,203.5 623.9,197.0 635.2,193.7 636.9,180.8 640.1,187.3 638.5,197.0 645.0,200.2 653.0,201.5 653.0,203.5 657.9,198.6 657.0,184.8 653.0,184.0 653.0,179.8 641.7,174.3 632.0,171.1 623.9,159.7 615.8,150.0 616.9,150.0 614.4,147.5 608.0,141.1 598.4,134.6 582.3,131.4 566.3,127.4 558.3,128.2 547.0,131.4 537.4,136.3 523.0,139.5 511.7,144.3 508.3,150.0 498.7,150.0 502.1,144.3 508.5,137.9 505.3,131.4 506.9,125.0 518.1,121.8 527.8,118.6 523.0,112.2 508.5,109.0 508.5,103.4 518.1,104.2 527.8,101.0 523.0,94.5 510.1,89.7ZM494.1,125.8 486.0,121.8 486.0,113.8 502.1,113.8 505.3,121.8ZM495.9,169.4 487.8,170.2 486.2,166.2 495.9,165.4ZM689.9,91.3 685.1,86.5 669.0,83.3 656.1,83.9 656.1,70.5 638.5,72.1 622.4,73.7 606.4,76.1 590.3,77.7 574.3,76.1 559.9,75.3 550.2,77.7 553.4,84.1 566.3,85.7 582.3,85.7 598.4,85.7 603.2,82.5 611.2,82.5 620.8,84.9 630.5,88.9 646.5,91.3 653.0,92.4 653.0,92.9 669.0,94.5 685.1,96.1ZM503.7,58.4 498.9,60.8 501.3,64.0 506.9,64.0 509.3,60.8ZM541.4,68.5 538.7,66.9 535.8,68.5 538.7,70.5ZM693.1,115.4 689.9,121.8 694.7,128.2 704.3,133.0 714.0,137.9 725.2,144.3 730.9,150.0 838.0,150.0 838.0,147.5 821.5,145.9 813.5,141.1 807.0,133.0 813.5,129.8 821.5,125.0 829.5,120.2 838.0,118.6 838.0,99.3 823.1,102.6 813.5,101.0 805.4,96.1 794.2,91.3 784.6,84.9 778.2,80.1 773.3,72.1 765.3,68.9 755.7,64.0 749.3,57.6 742.9,51.2 734.8,51.2 736.4,64.0 733.2,72.1 728.4,80.1 730.0,88.1 736.4,96.1 731.6,101.0 725.2,109.0 717.2,112.2 706.0,113.0ZM765.3,112.2 749.3,109.0 757.3,103.4 773.3,101.0 789.4,99.3 800.6,101.0 807.0,105.8 797.4,110.6 781.4,111.4ZM714.0,133.0 710.8,123.4 717.2,121.8 722.0,131.4ZM551.0,209.9 542.9,211.6 531.6,224.5 518.6,226.1 510.5,229.4 513.7,234.2 518.6,239.1 502.4,247.2 495.6,255.3 615.8,255.3 615.8,244.0 599.6,240.7 583.4,244.0 575.3,244.0 576.9,235.9 573.7,229.4 564.0,231.0 555.9,227.8 554.2,218.0ZM653.0,245.5 653.0,255.3 693.2,255.3 691.9,247.2 685.4,240.7 674.1,235.9 666.0,227.8 659.5,219.7 653.0,218.0 653.0,226.8 648.2,227.8 649.8,244.0ZM500.8,194.5 504.0,193.7 502.4,190.5 499.2,192.1ZM798.8,226.1 790.7,224.5 782.6,226.1 774.5,224.5 766.4,222.9 763.2,226.1 753.4,232.6 743.7,237.5 734.0,242.3 725.9,240.7 717.8,244.0 706.5,247.2 706.5,255.3 838.3,255.3 838.3,241.0 828.0,244.0 821.5,240.7 818.2,234.2 808.5,229.4ZM819.9,184.0 818.2,178.3 805.3,175.9 804.5,180.0 808.5,183.2ZM816.6,190.5 811.8,192.1 811.8,201.8 814.2,203.5ZM838.3,195.4 838.3,189.0 829.6,190.5 829.6,195.4ZM687.8,225.3 694.3,226.1 695.1,222.9 688.6,222.9Z" fill="#f7f6f6" fill-rule="evenodd" stroke="#f7f6f6" stroke-width="0.6" stroke-linejoin="round"/>
<path d="M636.1,67.6 632.1,66.0 628.9,67.3 632.1,68.9ZM640.0,150.0 641.0,150.0 644.1,147.5 642.5,141.1 638.5,142.7ZM656.2,129.8 653.0,131.4 653.0,139.5 656.2,141.1 659.4,136.3ZM489.4,198.6 478.1,201.8 470.0,205.1 470.0,232.6 474.9,229.4 479.7,224.5 489.4,221.3 495.9,226.1 504.0,219.7 507.3,211.6 499.2,205.1ZM496.7,211.6 491.1,212.4 489.4,210.7 494.3,209.1ZM478.1,224.5 475.7,225.3 474.9,222.9 477.3,221.3ZM528.3,187.3 520.2,184.0 513.7,192.1 515.4,201.8 517.0,211.6 525.1,214.8 534.8,211.6 538.0,203.5 536.4,195.4ZM525.9,205.1 525.1,200.2 527.5,197.8 529.9,205.1ZM551.8,182.4 547.8,187.3 551.8,191.3 555.9,187.3ZM551.0,192.9 547.8,197.0 551.0,201.0 554.2,197.8ZM485.4,236.7 483.0,232.6 479.7,235.9 483.0,239.1ZM698.4,187.3 691.9,185.6 685.4,187.3 682.2,195.4 685.4,198.6 691.9,201.8 698.4,205.1 706.5,209.9 709.7,203.5 706.5,197.0 714.6,190.5 721.0,197.0 725.9,201.8 734.0,203.5 742.1,208.3 750.2,211.6 766.4,211.6 779.4,211.6 785.8,209.9 795.6,208.3 802.0,203.5 806.9,205.1 806.1,196.2 802.0,197.0 795.6,192.1 790.7,188.9 784.2,185.6 787.5,179.2 784.2,172.7 781.0,166.2 774.5,167.8 766.4,164.6 758.3,165.4 750.2,167.8 743.7,164.6 737.2,161.3 725.9,159.7 717.8,163.0 708.1,166.2 701.6,174.3 703.2,179.2 703.2,184.0ZM657.9,167.8 657.9,165.4 653.0,166.2 654.6,168.6Z" fill="#f8bb9e" fill-rule="evenodd" stroke="#f8bb9e" stroke-width="0.6" stroke-linejoin="round"/>
<path d="M525.1,200.2 525.9,205.1 529.9,205.1 527.5,197.8ZM477.3,221.3 474.9,222.9 475.7,225.3 478.1,224.5Z" fill="#e8896c" fill-rule="evenodd" stroke="#e8896c" stroke-width="0.6" stroke-linejoin="round"/>
<g fill="#666666" stroke="#ffffff" stroke-width="0.35" stroke-opacity="0.7"><circle cx="642.7" cy="122.9" r="2.6"/><circle cx="641.1" cy="127.1" r="2.6"/><circle cx="640.0" cy="132.9" r="2.6"/><circle cx="636.9" cy="134.8" r="2.6"/><circle cx="633.0" cy="139.5" r="2.6"/><circle cx="636.9" cy="143.3" r="2.6"/><circle cx="638.4" cy="145.6" r="2.6"/><circle cx="636.9" cy="148.0" r="2.6"/><circle cx="635.4" cy="151.8" r="2.6"/><circle cx="636.9" cy="154.1" r="2.6"/><circle cx="640.0" cy="158.0" r="2.6"/><circle cx="643.1" cy="161.1" r="2.6"/><circle cx="645.4" cy="163.4" r="2.6"/><circle cx="648.9" cy="124.4" r="2.6"/><circle cx="654.3" cy="120.2" r="2.6"/><circle cx="657.0" cy="120.2" r="2.6"/><circle cx="660.1" cy="121.3" r="2.6"/><circle cx="662.4" cy="121.7" r="2.6"/><circle cx="665.5" cy="120.6" r="2.6"/><circle cx="667.8" cy="120.9" r="2.6"/><circle cx="673.9" cy="120.9" r="2.6"/><circle cx="680.1" cy="120.9" r="2.6"/><circle cx="686.7" cy="127.1" r="2.6"/><circle cx="692.5" cy="133.3" r="2.6"/><circle cx="698.6" cy="133.3" r="2.6"/><circle cx="703.3" cy="132.9" r="2.6"/><circle cx="706.3" cy="134.8" r="2.6"/><circle cx="708.7" cy="136.4" r="2.6"/><circle cx="711.0" cy="138.7" r="2.6"/><circle cx="714.1" cy="139.5" r="2.6"/><circle cx="711.7" cy="146.4" r="2.6"/><circle cx="707.9" cy="145.3" r="2.6"/><circle cx="704.8" cy="144.5" r="2.6"/><circle cx="700.2" cy="145.6" r="2.6"/><circle cx="700.2" cy="151.8" r="2.6"/><circle cx="699.4" cy="158.4" r="2.6"/><circle cx="698.6" cy="160.3" r="2.6"/><circle cx="697.1" cy="163.4" r="2.6"/><circle cx="647.3" cy="167.3" r="2.6"/><circle cx="649.9" cy="169.9" r="2.6"/><circle cx="654.1" cy="172.9" r="2.6"/><circle cx="658.4" cy="176.7" r="2.6"/><circle cx="660.1" cy="182.6" r="2.6"/><circle cx="661.8" cy="190.3" r="2.6"/><circle cx="663.5" cy="195.4" r="2.6"/><circle cx="663.9" cy="201.3" r="2.6"/><circle cx="664.3" cy="203.8" r="2.6"/><circle cx="667.7" cy="207.2" r="2.6"/><circle cx="671.1" cy="207.2" r="2.6"/><circle cx="674.5" cy="205.1" r="2.6"/><circle cx="678.7" cy="207.7" r="2.6"/><circle cx="681.3" cy="208.1" r="2.6"/><circle cx="680.4" cy="201.7" r="2.6"/><circle cx="686.4" cy="195.4" r="2.6"/><circle cx="690.6" cy="193.7" r="2.6"/><circle cx="691.5" cy="200.4" r="2.6"/><circle cx="693.2" cy="191.1" r="2.6"/><circle cx="695.7" cy="192.0" r="2.6"/><circle cx="694.0" cy="188.6" r="2.6"/><circle cx="696.6" cy="185.2" r="2.6"/><circle cx="697.4" cy="181.8" r="2.6"/><circle cx="697.4" cy="180.1" r="2.6"/><circle cx="692.7" cy="176.7" r="2.6"/><circle cx="696.6" cy="172.9" r="2.6"/><circle cx="693.2" cy="170.3" r="2.6"/><circle cx="697.0" cy="164.4" r="2.6"/><circle cx="698.7" cy="159.7" r="2.6"/></g>
<path d="M489.3,153.5 L491.7,152.1 L497.1,150.0 L502.5,147.8 L507.9,146.7 L511.1,144.0 L515.5,141.9 L520.3,139.2 L520.9,134.9 L520.9,135.6 L517.6,136.2 L514.4,137.2 L511.1,136.7 L507.9,136.2 L504.7,136.7 L502.0,136.2 L501.4,132.9 L498.2,131.6 L493.9,131.3 L489.5,130.2 L486.3,128.6 L486.8,126.4 L484.7,124.3 L487.4,121.6 L491.7,118.9 L497.1,117.3 L502.5,116.2 L505.7,115.6 L507.4,113.5 L506.8,111.3 L502.5,111.3 L498.2,111.9 L491.7,112.4 L486.3,111.9 L480.9,109.7 L476.6,107.5 L485.2,106.5 L491.7,104.8 L497.1,105.9 L503.0,105.7 L499.3,103.8 L496.0,102.1 L491.7,100.0 L486.3,97.8 L482.0,96.7 L482.0,95.1 L486.3,93.5 L491.7,93.5 L495.5,92.4 L497.1,90.8 L499.3,88.6 L502.5,87.3 L506.8,86.5 L511.1,85.9 L515.5,85.4 L519.8,84.9 L524.1,83.8 L528.4,84.3 L532.7,85.2 L534.9,85.9 L540.3,85.9 L545.7,86.7 L552.2,87.3 L556.5,87.6 L561.9,88.1 L567.3,88.6 L572.7,89.2 L578.1,89.2 L583.5,89.9 L593.9,91.3 L599.3,92.4 L604.7,93.8 L607.9,93.5 L611.2,91.9 L615.5,90.8 L620.9,91.3 L626.3,90.3 L631.7,89.2 L636.0,88.4 L638.2,90.3 L640.3,89.7 L642.5,87.8 L647.5,89.3 L651.9,91.5 L656.3,89.3 L658.9,91.5 L665.1,90.7 L669.5,91.1 L673.9,92.0 L678.3,92.9 L682.7,93.3 L687.1,93.7 L691.5,94.6 L695.9,95.9 L697.6,97.3 L695.9,98.6 L700.3,98.1 L704.7,97.7 L708.1,99.0 L712.7,98.5 L717.4,97.8 L719.7,99.0 L722.0,99.9 L724.3,99.4 L726.6,98.5 L724.3,97.1 L722.5,96.7 L723.4,95.7 L726.6,94.8 L731.2,94.4 L734.5,94.6 L736.8,95.3 L739.6,97.1 L741.4,98.3 L745.1,97.8 L749.8,98.5 L753.5,99.7 L759.0,99.0 L765.0,99.0 L765.5,96.7 L765.8,96.7 L770.1,95.8 L775.1,96.1 L775.7,99.2 L775.4,101.3 L777.5,97.9 L781.2,96.7 L782.5,94.2 L779.4,92.4 L776.3,91.1 L773.8,89.3 L774.5,86.2 L776.3,83.7 L780.0,81.9 L783.7,82.2 L787.4,84.3 L791.1,86.8 L794.2,89.3 L791.1,90.5 L792.4,91.1 L797.3,91.8 L798.5,95.5 L802.2,93.3 L804.7,93.0 L807.2,94.8 L808.4,97.9 L810.9,99.8 L813.1,100.4 L814.7,99.1 L817.7,96.0 L819.0,92.3 L818.4,90.2 M836.3,99.1 L833.2,100.7 L827.0,102.2 L820.8,103.5 L817.7,104.1 L815.9,105.9 L812.8,109.6 L808.5,112.7 L802.3,114.0 L798.6,115.2 L797.4,117.0 L793.7,118.9 L793.3,119.0 L788.7,121.3 L785.0,124.1 L782.2,127.8 L780.8,131.5 L780.8,135.2 L785.9,135.6 L787.7,136.6 L789.6,139.8 L791.0,143.1 L796.1,142.6 L799.8,142.6 L805.3,144.4 L810.0,146.8 L814.6,148.1 L821.1,150.0 L825.7,150.5 L832.6,150.9 L833.1,153.7 L834.0,157.4 L834.5,160.0 L833.1,160.6 L836.8,164.3 M836.9,92.3 L834.4,94.2 L833.8,97.3 L836.3,98.5 M489.3,153.5 L493.3,154.3 L498.2,152.7 L504.7,150.0 L510.1,149.4 L515.5,148.4 L517.6,146.2 L521.9,144.6 L525.2,143.0 L529.0,140.8 L532.7,139.7 L535.4,137.8 L537.1,136.3 L535.2,134.5 L538.1,133.0 L539.2,131.8 L543.5,128.6 L545.7,127.0 L550.0,126.4 L550.6,127.5 L545.7,129.1 L544.1,131.3 L544.6,134.5 L547.9,134.0 L552.2,132.9 L556.5,131.8 L559.7,130.8 L560.8,128.1 L563.0,127.5 L567.3,128.6 L572.7,130.2 L578.1,130.8 L583.5,131.3 L588.9,132.4 L583.1,130.8 L588.5,131.8 L593.1,132.6 L597.7,134.9 L602.4,137.2 L608.8,138.6 L617.2,138.6 L619.5,141.9 L622.7,143.7 L625.5,146.5 L626.4,149.3 L630.1,150.6 L632.9,153.0 L633.8,155.7 L637.1,157.6 L638.9,160.8 L642.2,162.2 L644.0,165.0 L645.4,167.3 L648.7,169.6 L650.5,170.5 L657.0,173.2 L661.3,175.4 L663.5,177.5 L661.3,179.7 L659.1,180.8 L658.6,184.0 L658.9,190.5 L659.1,194.8 L658.6,200.0 L657.3,201.9 L658.4,207.3 L657.8,212.7 L660.0,218.1 L664.3,222.4 L668.6,228.9 L674.0,236.4 L678.3,238.1 L683.7,239.7 L687.0,241.8 L690.2,249.4 L693.5,255.3 L694.0,259.1 M641.3,170.0 L646.2,170.5 L652.7,172.7 L659.1,175.4 L663.5,176.4 L665.6,179.7 L666.2,184.0 L664.0,182.9 L662.4,180.8 L659.1,178.6 L653.7,176.4 L648.3,174.3 L642.9,172.7 L640.8,171.0Z M620.9,155.3 L627.5,155.6 L626.2,159.4 L630.6,163.6 L627.8,163.6 L622.7,158.5Z M697.8,259.1 L697.8,255.3 L697.2,248.9 L698.9,248.3 L703.2,249.9 L705.3,255.3 L705.9,259.1 M478.7,130.2 L483.1,129.5 L487.4,130.2 L486.3,131.8 L482.0,131.6Z M532.7,140.8 L537.1,139.5 L542.5,140.3 L543.0,141.9 L539.2,143.5 L534.9,144.6 L533.3,143.0Z M470.1,117.0 L473.6,117.3 M664.4,64.4 L669.0,61.9 L674.0,60.0 L680.1,58.5 L686.3,57.9 L692.2,57.6 L691.9,60.3 L690.0,61.9 L683.2,62.8 L677.1,64.0 L670.9,65.3 L665.9,65.0Z M685.7,68.1 L688.8,65.3 L692.5,63.4 L695.6,62.8 L701.7,63.7 L707.9,65.0 L712.9,66.2 L715.9,66.5 L715.3,63.1 L719.0,61.6 L723.1,61.3 L725.6,64.0 L728.0,65.0 L732.4,64.7 L735.4,65.9 L734.8,68.4 L732.4,69.3 L728.0,69.6 L723.1,69.7 L717.2,69.3 L711.0,70.2 L704.8,71.1 L701.7,70.8 L701.7,69.3 L704.8,68.9 L698.7,68.5 L692.5,68.4Z M655.1,71.8 L661.6,71.1 L669.0,70.8 L677.1,71.5 L683.2,72.1 L690.0,73.9 L686.3,76.1 L681.4,78.2 L677.7,80.7 L674.0,83.5 L669.0,84.7 L663.5,85.8 L658.5,84.4 L651.7,82.0 L655.4,77.6 L659.1,73.9Z M678.3,83.2 L680.9,80.5 L687.1,77.9 L692.4,76.1 L691.2,75.2 L695.6,75.8 L698.7,76.7 L699.9,78.2 L703.6,77.6 L707.9,77.3 L711.0,78.2 L714.1,79.2 L717.2,77.6 L720.3,77.0 L723.1,78.2 L725.0,77.0 L728.0,75.8 L732.4,74.5 L738.5,75.2 L741.0,75.8 L738.5,77.0 L737.3,78.2 L738.2,80.9 L740.0,83.7 L741.4,85.6 L745.1,86.9 L749.8,88.3 L754.4,89.5 L755.3,90.4 L752.1,91.1 L749.8,91.6 L748.4,92.0 L749.8,93.4 L749.3,94.6 L747.5,94.4 L742.8,94.1 L738.2,93.7 L734.5,93.0 L731.2,93.0 L726.6,93.4 L722.0,93.9 L717.4,94.4 L712.7,94.8 L708.1,95.3 L704.7,95.5 L700.3,95.9 L694.1,94.2 L690.6,92.9 L687.1,90.2 L684.4,88.5 L681.8,84.9Z M736.1,51.7 L741.6,51.4 L747.8,52.3 L754.0,53.6 L758.9,55.1 L760.4,57.3 L756.4,56.6 L750.9,55.4 L744.7,54.8 L737.3,55.1 L736.4,53.2Z M764.5,52.9 L767.5,52.6 L772.5,53.2 L776.8,54.2 L777.4,56.0 L775.6,57.3 L771.2,57.3 L767.5,56.0 L765.1,54.8Z M748.4,63.4 L754.0,62.5 L760.1,61.9 L765.7,61.9 L768.2,63.4 L768.2,66.5 L766.3,69.0 L760.1,69.3 L756.4,69.0 L755.2,66.5 L749.0,66.2 L748.4,64.7Z M772.5,69.0 L775.6,67.1 L780.5,66.5 L784.2,67.4 L784.8,69.3 L781.7,70.2 L775.6,69.9Z M748.4,78.2 L752.1,77.0 L754.0,75.2 L757.7,73.6 L763.2,73.9 L771.2,74.5 L770.0,77.0 L771.9,78.9 L772.5,81.3 L770.0,83.2 L766.3,84.4 L761.4,84.1 L757.1,82.6 L752.7,80.7 L749.0,79.5Z M775.6,74.5 L778.7,72.7 L784.8,72.4 L791.0,72.7 L798.4,73.6 L794.1,75.8 L787.9,78.2 L782.4,80.7 L778.7,80.7 L776.2,78.2Z M759.6,92.1 L762.7,90.5 L766.4,89.3 L770.1,89.9 L773.2,91.1 L776.3,93.0 L776.3,93.9 L773.2,94.2 L768.9,93.9 L764.0,93.0 L760.3,92.4Z M774.5,48.7 L780.1,50.2 L787.5,50.8 L784.4,52.6 L786.9,54.5 L793.7,55.7 L801.1,55.5 L807.2,54.5 L811.6,52.3 L813.4,50.5 L820.2,50.8 L820.8,52.0 L815.9,52.6 L811.6,53.6 M811.0,54.8 L808.5,57.3 L809.7,59.4 L802.3,60.7 L802.6,62.8 L814.7,62.8 L827.0,62.8 L837.2,62.5 M771.4,61.0 L777.6,61.1 L785.0,61.3 L793.7,62.2 L796.8,63.4 L798.0,65.3 L802.3,66.2 L814.7,66.8 L827.0,66.4 L837.2,65.9 M771.4,61.0 L771.4,61.9 L777.6,62.5 L785.6,63.4 L788.1,65.3 L790.0,68.4 L796.1,69.9 L808.5,70.8 L820.8,71.1 L837.2,70.8 M837.2,76.4 L835.6,75.2 L833.2,73.9 L829.5,73.9 L824.5,75.2 L820.8,77.0 L818.4,78.9 L815.9,77.0 L817.7,75.2 L816.5,73.9 L809.7,74.2 L803.5,75.2 L801.1,77.0 L799.5,80.7 L801.1,83.8 L801.7,82.5 L802.3,85.2 L806.0,86.8 L811.6,88.0 L817.7,89.0 L823.9,89.6 L830.1,90.2 L837.2,90.6 M817.7,104.7 L820.8,107.8 L827.0,110.2 L836.3,113.3 L836.3,115.5 L828.9,114.6 L823.9,115.8 L819.6,117.7 L817.7,117.0 L813.4,116.4 L815.3,114.6 L816.8,110.9 L817.4,107.2Z M825.7,121.8 L829.4,119.4 L835.0,119.4 L833.1,121.3 L827.5,122.7Z M802.6,254.5 L806.7,253.4 L814.9,253.4 L819.0,254.5 M835.7,254.5 L835.7,250.8 L836.5,249.2" fill="none" stroke="#000" stroke-width="2.2" stroke-linejoin="round" stroke-linecap="round"/>
<path d="M706.7,54.2 L711.0,52.8 L717.2,53.1 L719.6,54.2 L718.7,55.9 L712.2,55.5 L707.3,56.3Z" fill="#000"/>
<path d="M702.4,57.6 L706.7,54.5 L711.0,52.9 L717.2,53.2 L719.6,54.2 L718.4,57.3 L714.1,58.2 L709.1,59.1 L704.2,58.5Z M682.7,84.1 L692.4,84.1 M685.3,88.0 L708.2,88.5 M736.4,52.3 L741.6,53.6 M773.7,58.2 L785.4,58.2 M809.7,55.1 L814.7,56.3 L821.4,58.5" fill="none" stroke="#000" stroke-width="2.6" stroke-linejoin="round" stroke-linecap="round"/>
</g>
<rect x="470.5" y="49.0" width="366.8" height="205.3" fill="none" stroke="#000" stroke-width="1.6"/>
<text x="470.5" y="39.5" font-size="23.3">b)</text>
<text x="653.9" y="17.5" font-size="23.3" text-anchor="middle">Initialized on June 7</text>
<g clip-path="url(#cp02)">
<rect x="857.8" y="49.0" width="367.0" height="205.3" fill="#f7f6f6"/>
<path d="M969.3,131.4 985.4,135.5 998.2,137.9 1009.4,144.3 1015.2,150.0 1013.2,150.0 1006.0,150.0 1010.9,159.7 1012.5,169.4 1013.6,172.1 1011.4,177.6 1018.8,186.8 1022.4,194.1 1031.6,196.0 1035.3,198.1 1027.1,197.0 1012.5,193.7 1010.9,187.3 999.6,182.4 986.6,180.8 980.1,185.6 980.1,195.4 970.4,198.6 962.3,193.7 957.4,185.6 970.4,187.3 973.6,179.2 978.5,172.7 976.9,166.2 968.8,163.0 960.7,159.7 947.7,153.2 938.0,153.2 925.0,156.5 913.7,159.7 897.5,163.0 881.3,166.2 870.0,169.4 860.2,171.1 857.0,171.1 857.0,177.5 863.5,177.5 864.3,182.4 860.2,187.3 857.0,187.3 857.0,203.5 866.7,192.1 873.2,190.5 881.3,190.5 889.4,185.6 897.5,184.0 905.6,180.8 912.1,179.2 916.9,174.3 921.8,172.7 929.9,174.3 938.0,180.8 942.9,186.4 934.8,192.1 931.5,193.7 938.0,197.0 926.7,201.8 921.8,206.7 918.6,214.8 908.8,218.0 899.1,219.7 889.4,226.1 881.3,234.2 870.0,238.3 857.0,238.3 857.0,255.3 897.2,255.3 895.9,247.2 899.1,237.5 908.8,232.6 921.8,229.4 931.5,227.8 931.5,237.5 925.0,244.0 910.5,247.2 905.6,250.4 899.5,255.3 947.7,255.3 947.7,242.3 957.4,238.3 963.9,240.7 970.4,237.5 980.1,235.9 989.8,235.9 986.6,244.0 983.7,255.3 1040.0,255.3 1040.0,232.6 1036.8,231.0 1032.0,218.0 1038.4,221.3 1040.0,222.8 1040.0,221.3 1046.5,221.3 1053.0,227.8 1061.1,235.9 1069.2,240.7 1075.6,247.2 1078.4,255.3 1104.8,255.3 1104.8,247.2 1117.8,244.0 1127.5,239.1 1137.2,234.2 1150.2,227.8 1153.4,222.9 1166.4,222.9 1185.8,224.5 1202.0,226.1 1208.5,231.0 1205.2,237.5 1210.1,244.0 1218.2,247.2 1225.8,247.2 1225.8,234.5 1219.8,237.5 1218.2,221.3 1223.1,218.0 1225.8,219.4 1225.8,216.4 1215.0,216.4 1202.0,213.2 1185.8,208.3 1177.7,209.9 1169.6,213.2 1156.6,216.4 1145.3,211.6 1137.2,209.9 1121.0,209.9 1112.9,211.6 1104.8,213.2 1109.7,221.3 1109.7,231.0 1101.6,234.2 1093.5,231.0 1091.8,219.7 1088.6,214.8 1080.5,213.2 1072.4,214.8 1064.3,213.2 1064.2,213.2 1064.7,219.9 1056.5,211.6 1056.2,211.6 1049.7,208.3 1048.0,203.1 1046.3,201.5 1042.7,186.8 1042.6,186.5 1040.0,185.6 1040.0,176.8 1035.3,172.1 1028.0,168.4 1024.3,161.0 1023.4,153.7 1040.8,152.8 1041.0,156.3 1049.7,154.9 1062.7,150.0 1061.7,150.0 1060.9,147.5 1072.1,145.9 1075.2,150.0 1088.6,150.0 1088.6,158.1 1101.6,164.6 1112.9,167.8 1129.1,169.4 1140.4,167.8 1153.4,166.2 1159.9,171.1 1169.6,169.4 1177.7,177.5 1185.8,182.4 1195.5,185.6 1195.5,195.4 1193.9,203.5 1193.9,209.9 1202.0,211.6 1210.1,203.5 1215.0,192.1 1218.2,192.1 1225.8,196.7 1225.8,150.0 1182.8,150.0 1176.4,141.1 1168.4,134.6 1168.4,123.4 1176.4,117.0 1192.4,113.8 1200.5,110.6 1208.5,107.4 1216.5,105.8 1225.0,102.9 1225.0,48.0 1040.0,48.0 1040.0,49.6 1059.3,49.6 1056.0,57.6 1049.6,60.8 1040.0,62.4 1040.0,51.2 1004.6,51.2 1009.4,57.6 1017.5,63.2 1025.5,64.0 1033.5,65.7 1040.0,66.7 1040.0,88.1 1052.8,89.7 1072.1,88.1 1084.9,91.3 1078.5,96.1 1064.1,94.5 1052.8,96.1 1040.0,96.1 1040.0,91.8 1033.5,92.9 1027.1,94.5 1017.5,97.7 1001.4,99.3 983.8,99.3 982.2,92.9 969.3,94.5 953.3,96.1 937.2,99.3 924.4,104.2 921.2,110.6 910.0,109.0 901.9,104.2 889.1,105.8 873.0,110.6 869.8,118.6 873.0,128.2 881.1,134.6 885.9,142.7 882.2,150.0 899.4,150.0 905.1,144.3 921.2,137.9 929.2,134.6 940.4,131.4 953.3,129.8ZM1035.2,193.7 1035.7,194.5 1034.8,193.6ZM1128.3,131.4 1144.3,134.6 1155.5,137.9 1165.2,144.3 1165.2,150.0 1103.7,150.0 1101.0,137.9 1112.2,133.0ZM1162.0,49.6 1162.0,57.6 1152.3,60.8 1144.3,65.7 1129.9,67.3 1120.2,64.0 1109.0,59.2 1104.2,49.6ZM1176.4,57.6 1200.5,68.9 1192.4,75.3 1176.4,80.1 1165.2,75.3 1162.0,57.6ZM1088.1,118.6 1076.9,113.8 1073.7,107.4 1078.5,101.0 1088.1,102.6 1101.0,109.0 1107.4,115.4 1101.0,120.2 1093.0,123.4ZM1141.1,120.2 1137.1,119.4 1136.3,117.0 1142.7,116.2ZM1160.3,116.2 1159.5,120.2 1156.3,119.9 1155.5,117.0ZM1049.6,141.1 1052.0,140.3 1052.8,144.3 1050.4,145.1ZM960.7,227.8 968.8,226.1 970.4,229.4 962.3,231.0ZM1032.0,210.7 1032.8,214.8 1027.1,215.6 1023.9,209.9ZM1027.1,235.9 1020.6,243.1 1017.4,237.5 1022.2,232.6 1027.1,231.0ZM1064.3,222.9 1069.2,221.3 1072.4,227.8 1069.2,232.6 1065.1,229.4ZM1193.9,181.6 1192.3,179.2 1205.2,179.2 1205.2,181.6ZM940.4,86.5 932.4,82.5 924.4,84.9 932.4,88.1ZM985.4,52.8 993.4,49.6 977.3,49.6ZM1192.4,129.8 1197.3,137.9 1213.3,137.9 1216.5,133.0 1208.5,128.2Z" fill="#fce0d0" fill-rule="evenodd" stroke="#fce0d0" stroke-width="0.6" stroke-linejoin="round"/>
<path d="M1049.6,141.1 1050.4,145.1 1052.8,144.3 1052.0,140.3ZM1049.7,154.9 1041.0,156.3 1040.8,152.8 1023.4,153.7 1024.3,161.0 1028.0,168.4 1035.3,172.1 1040.0,176.8 1040.0,185.6 1042.6,186.5 1042.7,186.8 1046.3,201.5 1048.0,203.1 1049.7,208.3 1056.2,211.6 1056.5,211.6 1064.7,219.9 1064.2,213.2 1064.3,213.2 1072.4,214.8 1080.5,213.2 1088.6,214.8 1091.8,219.7 1093.5,231.0 1101.6,234.2 1109.7,231.0 1109.7,221.3 1104.8,213.2 1112.9,211.6 1121.0,209.9 1137.2,209.9 1145.3,211.6 1156.6,216.4 1169.6,213.2 1177.7,209.9 1185.8,208.3 1202.0,213.2 1215.0,216.4 1225.8,216.4 1225.8,196.7 1218.2,192.1 1215.0,192.1 1210.1,203.5 1202.0,211.6 1193.9,209.9 1193.9,203.5 1195.5,195.4 1195.5,185.6 1185.8,182.4 1177.7,177.5 1169.6,169.4 1159.9,171.1 1153.4,166.2 1140.4,167.8 1129.1,169.4 1112.9,167.8 1101.6,164.6 1088.6,158.1 1088.6,150.0 1075.2,150.0 1072.1,145.9 1060.9,147.5 1061.7,150.0 1062.7,150.0ZM1168.0,201.0 1161.5,198.6 1168.0,195.4 1172.8,197.8ZM938.0,197.0 931.5,193.7 934.8,192.1 942.9,186.4 938.0,180.8 929.9,174.3 921.8,172.7 916.9,174.3 912.1,179.2 905.6,180.8 897.5,184.0 889.4,185.6 881.3,190.5 873.2,190.5 866.7,192.1 857.0,203.5 857.0,238.3 870.0,238.3 881.3,234.2 889.4,226.1 899.1,219.7 908.8,218.0 918.6,214.8 921.8,206.7 926.7,201.8ZM868.3,219.7 865.1,224.5 862.7,221.3 863.5,214.8 868.3,205.1 873.2,204.3 873.2,211.6 881.3,216.4 876.4,219.7ZM889.4,209.1 891.0,212.4 887.8,214.0 884.5,210.7ZM915.3,197.0 913.7,205.1 912.1,197.0ZM1027.1,215.6 1032.8,214.8 1032.0,210.7 1023.9,209.9ZM1022.2,232.6 1017.4,237.5 1020.6,243.1 1027.1,235.9 1027.1,231.0ZM1069.2,232.6 1072.4,227.8 1069.2,221.3 1064.3,222.9 1065.1,229.4ZM1219.8,237.5 1225.8,234.5 1225.8,219.4 1223.1,218.0 1218.2,221.3Z" fill="#f8bb9e" fill-rule="evenodd" stroke="#f8bb9e" stroke-width="0.6" stroke-linejoin="round"/>
<path d="M873.2,211.6 873.2,204.3 868.3,205.1 863.5,214.8 862.7,221.3 865.1,224.5 868.3,219.7 876.4,219.7 881.3,216.4ZM887.8,214.0 891.0,212.4 889.4,209.1 884.5,210.7ZM915.3,197.0 912.1,197.0 913.7,205.1ZM1161.5,198.6 1168.0,201.0 1172.8,197.8 1168.0,195.4Z" fill="#e8896c" fill-rule="evenodd" stroke="#e8896c" stroke-width="0.6" stroke-linejoin="round"/>
<g fill="#666666" stroke="#ffffff" stroke-width="0.35" stroke-opacity="0.7"><circle cx="1030.0" cy="122.9" r="2.6"/><circle cx="1028.4" cy="127.1" r="2.6"/><circle cx="1027.3" cy="132.9" r="2.6"/><circle cx="1024.2" cy="134.8" r="2.6"/><circle cx="1020.3" cy="139.5" r="2.6"/><circle cx="1024.2" cy="143.3" r="2.6"/><circle cx="1025.7" cy="145.6" r="2.6"/><circle cx="1024.2" cy="148.0" r="2.6"/><circle cx="1022.7" cy="151.8" r="2.6"/><circle cx="1024.2" cy="154.1" r="2.6"/><circle cx="1027.3" cy="158.0" r="2.6"/><circle cx="1030.4" cy="161.1" r="2.6"/><circle cx="1032.7" cy="163.4" r="2.6"/><circle cx="1036.2" cy="124.4" r="2.6"/><circle cx="1041.6" cy="120.2" r="2.6"/><circle cx="1044.3" cy="120.2" r="2.6"/><circle cx="1047.4" cy="121.3" r="2.6"/><circle cx="1049.7" cy="121.7" r="2.6"/><circle cx="1052.8" cy="120.6" r="2.6"/><circle cx="1055.1" cy="120.9" r="2.6"/><circle cx="1061.2" cy="120.9" r="2.6"/><circle cx="1067.4" cy="120.9" r="2.6"/><circle cx="1074.0" cy="127.1" r="2.6"/><circle cx="1079.8" cy="133.3" r="2.6"/><circle cx="1085.9" cy="133.3" r="2.6"/><circle cx="1090.6" cy="132.9" r="2.6"/><circle cx="1093.6" cy="134.8" r="2.6"/><circle cx="1096.0" cy="136.4" r="2.6"/><circle cx="1098.3" cy="138.7" r="2.6"/><circle cx="1101.4" cy="139.5" r="2.6"/><circle cx="1099.0" cy="146.4" r="2.6"/><circle cx="1095.2" cy="145.3" r="2.6"/><circle cx="1092.1" cy="144.5" r="2.6"/><circle cx="1087.5" cy="145.6" r="2.6"/><circle cx="1087.5" cy="151.8" r="2.6"/><circle cx="1086.7" cy="158.4" r="2.6"/><circle cx="1085.9" cy="160.3" r="2.6"/><circle cx="1084.4" cy="163.4" r="2.6"/><circle cx="1034.6" cy="167.3" r="2.6"/><circle cx="1037.2" cy="169.9" r="2.6"/><circle cx="1041.4" cy="172.9" r="2.6"/><circle cx="1045.7" cy="176.7" r="2.6"/><circle cx="1047.4" cy="182.6" r="2.6"/><circle cx="1049.1" cy="190.3" r="2.6"/><circle cx="1050.8" cy="195.4" r="2.6"/><circle cx="1051.2" cy="201.3" r="2.6"/><circle cx="1051.6" cy="203.8" r="2.6"/><circle cx="1055.0" cy="207.2" r="2.6"/><circle cx="1058.4" cy="207.2" r="2.6"/><circle cx="1061.8" cy="205.1" r="2.6"/><circle cx="1066.0" cy="207.7" r="2.6"/><circle cx="1068.6" cy="208.1" r="2.6"/><circle cx="1067.7" cy="201.7" r="2.6"/><circle cx="1073.7" cy="195.4" r="2.6"/><circle cx="1077.9" cy="193.7" r="2.6"/><circle cx="1078.8" cy="200.4" r="2.6"/><circle cx="1080.5" cy="191.1" r="2.6"/><circle cx="1083.0" cy="192.0" r="2.6"/><circle cx="1081.3" cy="188.6" r="2.6"/><circle cx="1083.9" cy="185.2" r="2.6"/><circle cx="1084.7" cy="181.8" r="2.6"/><circle cx="1084.7" cy="180.1" r="2.6"/><circle cx="1080.0" cy="176.7" r="2.6"/><circle cx="1083.9" cy="172.9" r="2.6"/><circle cx="1080.5" cy="170.3" r="2.6"/><circle cx="1084.3" cy="164.4" r="2.6"/><circle cx="1086.0" cy="159.7" r="2.6"/></g>
<path d="M876.6,153.5 L879.0,152.1 L884.4,150.0 L889.8,147.8 L895.2,146.7 L898.4,144.0 L902.8,141.9 L907.6,139.2 L908.2,134.9 L908.2,135.6 L904.9,136.2 L901.7,137.2 L898.4,136.7 L895.2,136.2 L892.0,136.7 L889.3,136.2 L888.7,132.9 L885.5,131.6 L881.2,131.3 L876.8,130.2 L873.6,128.6 L874.1,126.4 L872.0,124.3 L874.7,121.6 L879.0,118.9 L884.4,117.3 L889.8,116.2 L893.0,115.6 L894.7,113.5 L894.1,111.3 L889.8,111.3 L885.5,111.9 L879.0,112.4 L873.6,111.9 L868.2,109.7 L863.9,107.5 L872.5,106.5 L879.0,104.8 L884.4,105.9 L890.3,105.7 L886.6,103.8 L883.3,102.1 L879.0,100.0 L873.6,97.8 L869.3,96.7 L869.3,95.1 L873.6,93.5 L879.0,93.5 L882.8,92.4 L884.4,90.8 L886.6,88.6 L889.8,87.3 L894.1,86.5 L898.4,85.9 L902.8,85.4 L907.1,84.9 L911.4,83.8 L915.7,84.3 L920.0,85.2 L922.2,85.9 L927.6,85.9 L933.0,86.7 L939.5,87.3 L943.8,87.6 L949.2,88.1 L954.6,88.6 L960.0,89.2 L965.4,89.2 L970.8,89.9 L981.2,91.3 L986.6,92.4 L992.0,93.8 L995.2,93.5 L998.5,91.9 L1002.8,90.8 L1008.2,91.3 L1013.6,90.3 L1019.0,89.2 L1023.3,88.4 L1025.5,90.3 L1027.6,89.7 L1029.8,87.8 L1034.8,89.3 L1039.2,91.5 L1043.6,89.3 L1046.2,91.5 L1052.4,90.7 L1056.8,91.1 L1061.2,92.0 L1065.6,92.9 L1070.0,93.3 L1074.4,93.7 L1078.8,94.6 L1083.2,95.9 L1084.9,97.3 L1083.2,98.6 L1087.6,98.1 L1092.0,97.7 L1095.4,99.0 L1100.0,98.5 L1104.7,97.8 L1107.0,99.0 L1109.3,99.9 L1111.6,99.4 L1113.9,98.5 L1111.6,97.1 L1109.8,96.7 L1110.7,95.7 L1113.9,94.8 L1118.5,94.4 L1121.8,94.6 L1124.1,95.3 L1126.9,97.1 L1128.7,98.3 L1132.4,97.8 L1137.1,98.5 L1140.8,99.7 L1146.3,99.0 L1152.3,99.0 L1152.8,96.7 L1153.1,96.7 L1157.4,95.8 L1162.4,96.1 L1163.0,99.2 L1162.7,101.3 L1164.8,97.9 L1168.5,96.7 L1169.8,94.2 L1166.7,92.4 L1163.6,91.1 L1161.1,89.3 L1161.8,86.2 L1163.6,83.7 L1167.3,81.9 L1171.0,82.2 L1174.7,84.3 L1178.4,86.8 L1181.5,89.3 L1178.4,90.5 L1179.7,91.1 L1184.6,91.8 L1185.8,95.5 L1189.5,93.3 L1192.0,93.0 L1194.5,94.8 L1195.7,97.9 L1198.2,99.8 L1200.4,100.4 L1202.0,99.1 L1205.0,96.0 L1206.3,92.3 L1205.7,90.2 M1223.6,99.1 L1220.5,100.7 L1214.3,102.2 L1208.1,103.5 L1205.0,104.1 L1203.2,105.9 L1200.1,109.6 L1195.8,112.7 L1189.6,114.0 L1185.9,115.2 L1184.7,117.0 L1181.0,118.9 L1180.6,119.0 L1176.0,121.3 L1172.3,124.1 L1169.5,127.8 L1168.1,131.5 L1168.1,135.2 L1173.2,135.6 L1175.0,136.6 L1176.9,139.8 L1178.3,143.1 L1183.4,142.6 L1187.1,142.6 L1192.6,144.4 L1197.3,146.8 L1201.9,148.1 L1208.4,150.0 L1213.0,150.5 L1219.9,150.9 L1220.4,153.7 L1221.3,157.4 L1221.8,160.0 L1220.4,160.6 L1224.1,164.3 M1224.2,92.3 L1221.7,94.2 L1221.1,97.3 L1223.6,98.5 M876.6,153.5 L880.6,154.3 L885.5,152.7 L892.0,150.0 L897.4,149.4 L902.8,148.4 L904.9,146.2 L909.2,144.6 L912.5,143.0 L916.3,140.8 L920.0,139.7 L922.7,137.8 L924.4,136.3 L922.5,134.5 L925.4,133.0 L926.5,131.8 L930.8,128.6 L933.0,127.0 L937.3,126.4 L937.9,127.5 L933.0,129.1 L931.4,131.3 L931.9,134.5 L935.2,134.0 L939.5,132.9 L943.8,131.8 L947.0,130.8 L948.1,128.1 L950.3,127.5 L954.6,128.6 L960.0,130.2 L965.4,130.8 L970.8,131.3 L976.2,132.4 L970.4,130.8 L975.8,131.8 L980.4,132.6 L985.0,134.9 L989.7,137.2 L996.1,138.6 L1004.5,138.6 L1006.8,141.9 L1010.0,143.7 L1012.8,146.5 L1013.7,149.3 L1017.4,150.6 L1020.2,153.0 L1021.1,155.7 L1024.4,157.6 L1026.2,160.8 L1029.5,162.2 L1031.3,165.0 L1032.7,167.3 L1036.0,169.6 L1037.8,170.5 L1044.3,173.2 L1048.6,175.4 L1050.8,177.5 L1048.6,179.7 L1046.4,180.8 L1045.9,184.0 L1046.2,190.5 L1046.4,194.8 L1045.9,200.0 L1044.6,201.9 L1045.7,207.3 L1045.1,212.7 L1047.3,218.1 L1051.6,222.4 L1055.9,228.9 L1061.3,236.4 L1065.6,238.1 L1071.0,239.7 L1074.3,241.8 L1077.5,249.4 L1080.8,255.3 L1081.3,259.1 M1028.6,170.0 L1033.5,170.5 L1040.0,172.7 L1046.4,175.4 L1050.8,176.4 L1052.9,179.7 L1053.5,184.0 L1051.3,182.9 L1049.7,180.8 L1046.4,178.6 L1041.0,176.4 L1035.6,174.3 L1030.2,172.7 L1028.1,171.0Z M1008.2,155.3 L1014.8,155.6 L1013.5,159.4 L1017.9,163.6 L1015.1,163.6 L1010.0,158.5Z M1085.1,259.1 L1085.1,255.3 L1084.5,248.9 L1086.2,248.3 L1090.5,249.9 L1092.6,255.3 L1093.2,259.1 M866.0,130.2 L870.4,129.5 L874.7,130.2 L873.6,131.8 L869.3,131.6Z M920.0,140.8 L924.4,139.5 L929.8,140.3 L930.3,141.9 L926.5,143.5 L922.2,144.6 L920.6,143.0Z M857.4,117.0 L860.9,117.3 M1051.7,64.4 L1056.3,61.9 L1061.3,60.0 L1067.4,58.5 L1073.6,57.9 L1079.5,57.6 L1079.2,60.3 L1077.3,61.9 L1070.5,62.8 L1064.4,64.0 L1058.2,65.3 L1053.2,65.0Z M1073.0,68.1 L1076.1,65.3 L1079.8,63.4 L1082.9,62.8 L1089.0,63.7 L1095.2,65.0 L1100.2,66.2 L1103.2,66.5 L1102.6,63.1 L1106.3,61.6 L1110.4,61.3 L1112.9,64.0 L1115.3,65.0 L1119.7,64.7 L1122.7,65.9 L1122.1,68.4 L1119.7,69.3 L1115.3,69.6 L1110.4,69.7 L1104.5,69.3 L1098.3,70.2 L1092.1,71.1 L1089.0,70.8 L1089.0,69.3 L1092.1,68.9 L1086.0,68.5 L1079.8,68.4Z M1042.4,71.8 L1048.9,71.1 L1056.3,70.8 L1064.4,71.5 L1070.5,72.1 L1077.3,73.9 L1073.6,76.1 L1068.7,78.2 L1065.0,80.7 L1061.3,83.5 L1056.3,84.7 L1050.8,85.8 L1045.8,84.4 L1039.0,82.0 L1042.7,77.6 L1046.4,73.9Z M1065.6,83.2 L1068.2,80.5 L1074.4,77.9 L1079.7,76.1 L1078.5,75.2 L1082.9,75.8 L1086.0,76.7 L1087.2,78.2 L1090.9,77.6 L1095.2,77.3 L1098.3,78.2 L1101.4,79.2 L1104.5,77.6 L1107.6,77.0 L1110.4,78.2 L1112.3,77.0 L1115.3,75.8 L1119.7,74.5 L1125.8,75.2 L1128.3,75.8 L1125.8,77.0 L1124.6,78.2 L1125.5,80.9 L1127.3,83.7 L1128.7,85.6 L1132.4,86.9 L1137.1,88.3 L1141.7,89.5 L1142.6,90.4 L1139.4,91.1 L1137.1,91.6 L1135.7,92.0 L1137.1,93.4 L1136.6,94.6 L1134.8,94.4 L1130.1,94.1 L1125.5,93.7 L1121.8,93.0 L1118.5,93.0 L1113.9,93.4 L1109.3,93.9 L1104.7,94.4 L1100.0,94.8 L1095.4,95.3 L1092.0,95.5 L1087.6,95.9 L1081.4,94.2 L1077.9,92.9 L1074.4,90.2 L1071.7,88.5 L1069.1,84.9Z M1123.4,51.7 L1128.9,51.4 L1135.1,52.3 L1141.3,53.6 L1146.2,55.1 L1147.7,57.3 L1143.7,56.6 L1138.2,55.4 L1132.0,54.8 L1124.6,55.1 L1123.7,53.2Z M1151.8,52.9 L1154.8,52.6 L1159.8,53.2 L1164.1,54.2 L1164.7,56.0 L1162.9,57.3 L1158.5,57.3 L1154.8,56.0 L1152.4,54.8Z M1135.7,63.4 L1141.3,62.5 L1147.4,61.9 L1153.0,61.9 L1155.5,63.4 L1155.5,66.5 L1153.6,69.0 L1147.4,69.3 L1143.7,69.0 L1142.5,66.5 L1136.3,66.2 L1135.7,64.7Z M1159.8,69.0 L1162.9,67.1 L1167.8,66.5 L1171.5,67.4 L1172.1,69.3 L1169.0,70.2 L1162.9,69.9Z M1135.7,78.2 L1139.4,77.0 L1141.3,75.2 L1145.0,73.6 L1150.5,73.9 L1158.5,74.5 L1157.3,77.0 L1159.2,78.9 L1159.8,81.3 L1157.3,83.2 L1153.6,84.4 L1148.7,84.1 L1144.4,82.6 L1140.0,80.7 L1136.3,79.5Z M1162.9,74.5 L1166.0,72.7 L1172.1,72.4 L1178.3,72.7 L1185.7,73.6 L1181.4,75.8 L1175.2,78.2 L1169.7,80.7 L1166.0,80.7 L1163.5,78.2Z M1146.9,92.1 L1150.0,90.5 L1153.7,89.3 L1157.4,89.9 L1160.5,91.1 L1163.6,93.0 L1163.6,93.9 L1160.5,94.2 L1156.2,93.9 L1151.3,93.0 L1147.6,92.4Z M1161.8,48.7 L1167.4,50.2 L1174.8,50.8 L1171.7,52.6 L1174.2,54.5 L1181.0,55.7 L1188.4,55.5 L1194.5,54.5 L1198.9,52.3 L1200.7,50.5 L1207.5,50.8 L1208.1,52.0 L1203.2,52.6 L1198.9,53.6 M1198.3,54.8 L1195.8,57.3 L1197.0,59.4 L1189.6,60.7 L1189.9,62.8 L1202.0,62.8 L1214.3,62.8 L1224.5,62.5 M1158.7,61.0 L1164.9,61.1 L1172.3,61.3 L1181.0,62.2 L1184.1,63.4 L1185.3,65.3 L1189.6,66.2 L1202.0,66.8 L1214.3,66.4 L1224.5,65.9 M1158.7,61.0 L1158.7,61.9 L1164.9,62.5 L1172.9,63.4 L1175.4,65.3 L1177.3,68.4 L1183.4,69.9 L1195.8,70.8 L1208.1,71.1 L1224.5,70.8 M1224.5,76.4 L1222.9,75.2 L1220.5,73.9 L1216.8,73.9 L1211.8,75.2 L1208.1,77.0 L1205.7,78.9 L1203.2,77.0 L1205.0,75.2 L1203.8,73.9 L1197.0,74.2 L1190.8,75.2 L1188.4,77.0 L1186.8,80.7 L1188.4,83.8 L1189.0,82.5 L1189.6,85.2 L1193.3,86.8 L1198.9,88.0 L1205.0,89.0 L1211.2,89.6 L1217.4,90.2 L1224.5,90.6 M1205.0,104.7 L1208.1,107.8 L1214.3,110.2 L1223.6,113.3 L1223.6,115.5 L1216.2,114.6 L1211.2,115.8 L1206.9,117.7 L1205.0,117.0 L1200.7,116.4 L1202.6,114.6 L1204.1,110.9 L1204.7,107.2Z M1213.0,121.8 L1216.7,119.4 L1222.3,119.4 L1220.4,121.3 L1214.8,122.7Z M1189.9,254.5 L1194.0,253.4 L1202.2,253.4 L1206.3,254.5 M1223.0,254.5 L1223.0,250.8 L1223.8,249.2" fill="none" stroke="#000" stroke-width="2.2" stroke-linejoin="round" stroke-linecap="round"/>
<path d="M1094.0,54.2 L1098.3,52.8 L1104.5,53.1 L1106.9,54.2 L1106.0,55.9 L1099.5,55.5 L1094.6,56.3Z" fill="#000"/>
<path d="M1089.7,57.6 L1094.0,54.5 L1098.3,52.9 L1104.5,53.2 L1106.9,54.2 L1105.7,57.3 L1101.4,58.2 L1096.4,59.1 L1091.5,58.5Z M1070.0,84.1 L1079.7,84.1 M1072.6,88.0 L1095.5,88.5 M1123.7,52.3 L1128.9,53.6 M1161.0,58.2 L1172.7,58.2 M1197.0,55.1 L1202.0,56.3 L1208.7,58.5" fill="none" stroke="#000" stroke-width="2.6" stroke-linejoin="round" stroke-linecap="round"/>
</g>
<rect x="857.8" y="49.0" width="367.0" height="205.3" fill="none" stroke="#000" stroke-width="1.6"/>
<text x="857.8" y="39.5" font-size="23.3">c)</text>
<text x="1041.3" y="17.5" font-size="23.3" text-anchor="middle">Initialized on June 10</text>
<g clip-path="url(#cp03)">
<rect x="1245.4" y="49.0" width="367.1" height="205.3" fill="#f7f6f6"/>
<path d="M1437.6,120.2 1445.7,123.4 1447.3,131.4 1452.1,137.9 1460.1,144.3 1464.9,152.0 1460.2,152.0 1458.8,163.0 1465.3,174.3 1468.5,184.0 1466.9,192.1 1460.4,197.0 1452.3,203.5 1442.6,205.1 1436.1,197.0 1434.5,187.3 1428.0,182.4 1428.0,176.6 1420.0,172.7 1407.0,166.2 1398.9,158.1 1392.8,152.0 1383.0,152.0 1381.3,150.0 1379.5,150.0 1387.6,158.1 1397.3,166.2 1405.4,171.1 1403.8,174.3 1405.9,177.6 1404.0,182.4 1410.5,192.1 1418.6,198.6 1410.5,205.1 1408.9,211.5 1418.6,218.0 1431.5,226.1 1441.3,229.4 1438.0,218.0 1436.8,214.5 1437.7,214.8 1444.2,221.3 1449.1,231.0 1460.4,240.7 1466.9,254.5 1528.4,254.5 1525.2,247.2 1525.2,234.2 1523.6,224.5 1528.4,219.7 1541.4,219.7 1557.6,214.8 1565.7,211.6 1573.8,213.2 1581.9,218.0 1606.2,218.0 1613.0,214.8 1613.0,197.0 1606.2,197.0 1599.7,188.9 1596.5,197.0 1590.0,205.1 1586.8,200.2 1581.9,190.5 1565.7,187.3 1557.6,184.8 1547.9,185.6 1541.4,179.2 1533.3,174.3 1518.7,171.1 1512.2,164.6 1505.8,158.1 1499.3,159.7 1505.8,166.2 1509.0,171.1 1496.0,175.9 1492.8,182.4 1497.7,190.5 1504.1,197.0 1502.5,205.1 1492.8,201.8 1481.5,198.6 1484.7,192.1 1481.5,182.4 1484.7,174.3 1489.6,159.7 1481.5,150.0 1475.3,150.0 1472.9,144.3 1469.7,133.0 1463.3,125.0 1458.5,117.0 1447.3,112.2 1434.4,107.4 1442.4,101.0 1437.6,96.1 1428.0,91.3 1428.0,95.9 1413.5,94.5 1397.4,91.3 1381.4,88.9 1373.4,85.7 1381.4,80.1 1397.4,73.7 1413.5,70.5 1430.0,69.7 1430.0,64.0 1420.7,64.0 1417.5,55.2 1415.1,49.6 1245.0,49.6 1245.0,83.3 1249.8,88.1 1254.6,94.5 1259.4,99.3 1265.9,104.2 1269.1,112.2 1264.3,115.4 1261.0,123.4 1264.3,128.2 1272.3,131.4 1281.9,137.1 1289.9,140.3 1298.0,144.3 1309.2,142.7 1317.2,140.3 1328.4,135.5 1341.3,133.0 1334.9,133.0 1317.2,137.9 1306.0,135.5 1304.4,123.4 1312.4,118.6 1328.4,117.0 1334.9,107.4 1341.3,99.3 1350.9,92.9 1360.5,94.5 1373.4,96.1 1386.2,101.0 1397.4,104.2 1413.5,107.4 1421.5,109.8 1430.0,110.6 1430.0,117.7ZM1466.9,222.9 1475.0,221.3 1476.6,234.2 1471.7,235.9ZM1499.3,223.7 1499.3,216.4 1504.1,217.2 1503.3,224.5ZM1254.6,70.5 1252.2,65.7 1252.2,61.6 1261.0,58.4 1277.1,57.6 1293.1,56.8 1312.4,55.2 1325.2,57.6 1341.3,60.8 1357.3,64.0 1370.2,65.7 1381.4,70.5 1387.8,73.7 1381.4,76.1 1365.3,80.9 1349.3,84.1 1329.2,85.7 1329.2,91.3 1320.4,94.5 1306.0,91.3 1293.1,87.3 1277.1,82.5 1269.1,80.1 1261.0,76.1ZM1559.2,197.8 1551.1,205.1 1547.9,199.4ZM1499.3,237.5 1507.4,235.0 1509.0,242.3 1500.9,243.1ZM1367.0,137.9 1357.3,133.0 1341.3,133.0 1357.3,135.5 1367.0,139.5 1376.6,145.9 1380.2,148.7 1376.6,144.3ZM1477.7,54.4 1476.1,49.6 1428.0,49.6 1428.0,55.2 1444.0,55.2 1460.1,56.0ZM1588.5,57.6 1613.0,59.2 1613.0,49.6 1559.6,49.6 1561.2,52.8 1572.4,54.4ZM1287.1,174.3 1274.2,179.2 1272.5,190.5 1264.4,189.7 1251.5,190.5 1250.7,201.8 1251.5,211.6 1258.0,219.7 1269.3,221.3 1282.3,224.5 1280.6,231.0 1282.3,240.7 1277.4,253.7 1306.6,253.7 1306.6,240.7 1313.0,243.1 1326.0,242.3 1335.7,232.6 1350.3,229.4 1358.4,232.6 1374.6,232.6 1377.8,227.8 1373.0,222.9 1363.3,218.0 1364.9,208.3 1371.4,201.8 1376.2,195.4 1377.8,185.6 1374.6,177.5 1366.5,172.7 1358.4,163.0 1350.3,157.3 1339.0,154.9 1326.0,158.1 1309.8,160.5 1293.6,166.2ZM1322.8,222.9 1313.0,221.3 1303.3,219.7 1293.6,214.8 1285.5,211.6 1283.9,205.1 1287.1,198.6 1285.5,192.1 1285.5,187.3 1293.6,177.5 1306.6,172.7 1314.7,167.8 1319.5,166.2 1324.4,169.4 1335.7,169.4 1345.4,170.2 1355.2,175.9 1358.4,180.8 1351.9,183.2 1342.2,184.0 1339.0,192.1 1334.1,197.0 1335.7,203.5 1337.3,211.6 1337.3,221.3 1332.5,224.5ZM1351.9,200.2 1355.2,205.1 1350.3,210.7 1345.4,214.0 1341.4,209.9 1340.6,205.1 1345.4,199.4ZM1277.4,214.0 1275.0,209.9 1277.4,205.9 1281.4,210.7ZM1277.4,240.7 1266.1,238.3 1258.0,239.9 1245.0,240.7 1245.0,254.5 1277.4,254.5 1277.4,253.7ZM1379.5,240.7 1377.8,254.5 1430.0,254.5 1430.0,227.8 1423.2,226.1 1415.1,227.8 1400.5,231.0 1390.8,234.2ZM1308.2,183.2 1303.3,186.4 1309.0,189.7 1314.7,186.4Z" fill="#fce0d0" fill-rule="evenodd" stroke="#fce0d0" stroke-width="0.6" stroke-linejoin="round"/>
<path d="M1277.1,57.6 1261.0,58.4 1252.2,61.6 1252.2,65.7 1254.6,70.5 1261.0,76.1 1269.1,80.1 1277.1,82.5 1293.1,87.3 1306.0,91.3 1320.4,94.5 1329.2,91.3 1329.2,85.7 1349.3,84.1 1365.3,80.9 1381.4,76.1 1387.8,73.7 1381.4,70.5 1370.2,65.7 1357.3,64.0 1341.3,60.8 1325.2,57.6 1312.4,55.2 1293.1,56.8ZM1322.0,85.7 1312.4,83.3 1309.2,80.1 1315.6,77.7 1325.2,78.5 1326.8,84.9ZM1465.3,174.3 1458.8,163.0 1460.2,152.0 1464.9,152.0 1460.1,144.3 1452.1,137.9 1447.3,131.4 1445.7,123.4 1437.6,120.2 1430.0,117.7 1430.0,110.6 1421.5,109.8 1413.5,107.4 1397.4,104.2 1386.2,101.0 1373.4,96.1 1360.5,94.5 1350.9,92.9 1341.3,99.3 1334.9,107.4 1328.4,117.0 1312.4,118.6 1304.4,123.4 1306.0,135.5 1317.2,137.9 1334.9,133.0 1357.3,133.0 1367.0,137.9 1376.6,144.3 1383.0,152.0 1392.8,152.0 1398.9,158.1 1407.0,166.2 1420.0,172.7 1428.0,176.6 1428.0,182.4 1434.5,187.3 1436.1,197.0 1442.6,205.1 1452.3,203.5 1460.4,197.0 1466.9,192.1 1468.5,184.0ZM1445.7,152.0 1443.1,152.0 1445.8,161.3 1447.4,172.7 1442.6,177.5 1437.7,179.2 1428.0,175.9 1428.0,170.1 1420.0,166.2 1407.0,158.1 1400.9,152.0 1397.4,152.0 1389.4,147.5 1383.0,141.1 1381.4,137.9 1373.4,133.0 1363.7,129.8 1349.3,126.6 1338.1,124.7 1336.5,122.6 1344.5,118.6 1357.3,117.0 1370.2,116.2 1381.4,117.0 1397.4,118.6 1413.5,121.0 1430.0,123.4 1430.0,132.9 1434.4,136.3 1442.4,144.3ZM1355.2,175.9 1345.4,170.2 1335.7,169.4 1324.4,169.4 1319.5,166.2 1314.7,167.8 1306.6,172.7 1293.6,177.5 1285.5,187.3 1285.5,192.1 1287.1,198.6 1283.9,205.1 1285.5,211.6 1293.6,214.8 1303.3,219.7 1313.0,221.3 1322.8,222.9 1332.5,224.5 1337.3,221.3 1337.3,211.6 1335.7,203.5 1334.1,197.0 1339.0,192.1 1342.2,184.0 1351.9,183.2 1358.4,180.8ZM1309.0,189.7 1303.3,186.4 1308.2,183.2 1314.7,186.4ZM1298.5,211.6 1296.0,205.1 1296.0,197.0 1301.7,192.9 1309.8,196.2 1314.7,201.8 1316.3,209.9 1313.0,214.0 1306.6,214.0ZM1345.4,214.0 1350.3,210.7 1355.2,205.1 1351.9,200.2 1345.4,199.4 1340.6,205.1 1341.4,209.9ZM1277.4,205.9 1275.0,209.9 1277.4,214.0 1281.4,210.7ZM1551.1,205.1 1559.2,197.8 1547.9,199.4ZM1500.9,243.1 1509.0,242.3 1507.4,235.0 1499.3,237.5Z" fill="#f8bb9e" fill-rule="evenodd" stroke="#f8bb9e" stroke-width="0.6" stroke-linejoin="round"/>
<path d="M1442.6,177.5 1447.4,172.7 1445.8,161.3 1443.1,152.0 1445.7,152.0 1442.4,144.3 1434.4,136.3 1430.0,132.9 1430.0,123.4 1413.5,121.0 1397.4,118.6 1381.4,117.0 1370.2,116.2 1357.3,117.0 1344.5,118.6 1336.5,122.6 1338.1,124.7 1349.3,126.6 1363.7,129.8 1373.4,133.0 1381.4,137.9 1379.8,134.6 1379.8,129.8 1389.4,127.4 1399.0,128.2 1408.7,133.0 1418.3,137.9 1424.7,144.3 1428.0,146.3 1428.0,141.1 1432.8,145.9 1436.0,152.0 1431.6,152.0 1432.9,158.1 1430.0,159.1 1430.0,166.2 1423.2,163.0 1413.5,154.9 1409.6,152.0 1400.9,152.0 1407.0,158.1 1420.0,166.2 1428.0,170.1 1428.0,175.9 1437.7,179.2ZM1363.7,128.2 1370.2,127.4 1373.4,129.8 1368.6,131.4ZM1325.2,78.5 1315.6,77.7 1309.2,80.1 1312.4,83.3 1322.0,85.7 1326.8,84.9ZM1301.7,192.9 1296.0,197.0 1296.0,205.1 1298.5,211.6 1306.6,214.0 1313.0,214.0 1316.3,209.9 1314.7,201.8 1309.8,196.2ZM1304.1,197.0 1301.7,203.5 1300.1,197.8Z" fill="#e8896c" fill-rule="evenodd" stroke="#e8896c" stroke-width="0.6" stroke-linejoin="round"/>
<path d="M1409.6,152.0 1413.5,154.9 1423.2,163.0 1430.0,166.2 1430.0,159.1 1432.9,158.1 1431.6,152.0 1436.0,152.0 1432.8,145.9 1428.0,141.1 1428.0,146.3 1424.7,144.3 1418.3,137.9 1408.7,133.0 1399.0,128.2 1389.4,127.4 1379.8,129.8 1379.8,134.6 1383.0,141.1 1389.4,147.5 1397.4,152.0ZM1363.7,128.2 1368.6,131.4 1373.4,129.8 1370.2,127.4ZM1304.1,197.0 1300.1,197.8 1301.7,203.5Z" fill="#cf5246" fill-rule="evenodd" stroke="#cf5246" stroke-width="0.6" stroke-linejoin="round"/>
<g fill="#666666" stroke="#ffffff" stroke-width="0.35" stroke-opacity="0.7"><circle cx="1417.6" cy="122.9" r="2.6"/><circle cx="1416.0" cy="127.1" r="2.6"/><circle cx="1414.9" cy="132.9" r="2.6"/><circle cx="1411.8" cy="134.8" r="2.6"/><circle cx="1407.9" cy="139.5" r="2.6"/><circle cx="1411.8" cy="143.3" r="2.6"/><circle cx="1413.3" cy="145.6" r="2.6"/><circle cx="1411.8" cy="148.0" r="2.6"/><circle cx="1410.3" cy="151.8" r="2.6"/><circle cx="1411.8" cy="154.1" r="2.6"/><circle cx="1414.9" cy="158.0" r="2.6"/><circle cx="1418.0" cy="161.1" r="2.6"/><circle cx="1420.3" cy="163.4" r="2.6"/><circle cx="1423.8" cy="124.4" r="2.6"/><circle cx="1429.2" cy="120.2" r="2.6"/><circle cx="1431.9" cy="120.2" r="2.6"/><circle cx="1435.0" cy="121.3" r="2.6"/><circle cx="1437.3" cy="121.7" r="2.6"/><circle cx="1440.4" cy="120.6" r="2.6"/><circle cx="1442.7" cy="120.9" r="2.6"/><circle cx="1448.8" cy="120.9" r="2.6"/><circle cx="1455.0" cy="120.9" r="2.6"/><circle cx="1461.6" cy="127.1" r="2.6"/><circle cx="1467.4" cy="133.3" r="2.6"/><circle cx="1473.5" cy="133.3" r="2.6"/><circle cx="1478.2" cy="132.9" r="2.6"/><circle cx="1481.2" cy="134.8" r="2.6"/><circle cx="1483.6" cy="136.4" r="2.6"/><circle cx="1485.9" cy="138.7" r="2.6"/><circle cx="1489.0" cy="139.5" r="2.6"/><circle cx="1486.6" cy="146.4" r="2.6"/><circle cx="1482.8" cy="145.3" r="2.6"/><circle cx="1479.7" cy="144.5" r="2.6"/><circle cx="1475.1" cy="145.6" r="2.6"/><circle cx="1475.1" cy="151.8" r="2.6"/><circle cx="1474.3" cy="158.4" r="2.6"/><circle cx="1473.5" cy="160.3" r="2.6"/><circle cx="1472.0" cy="163.4" r="2.6"/><circle cx="1422.2" cy="167.3" r="2.6"/><circle cx="1424.8" cy="169.9" r="2.6"/><circle cx="1429.0" cy="172.9" r="2.6"/><circle cx="1433.3" cy="176.7" r="2.6"/><circle cx="1435.0" cy="182.6" r="2.6"/><circle cx="1436.7" cy="190.3" r="2.6"/><circle cx="1438.4" cy="195.4" r="2.6"/><circle cx="1438.8" cy="201.3" r="2.6"/><circle cx="1439.2" cy="203.8" r="2.6"/><circle cx="1442.6" cy="207.2" r="2.6"/><circle cx="1446.0" cy="207.2" r="2.6"/><circle cx="1449.4" cy="205.1" r="2.6"/><circle cx="1453.6" cy="207.7" r="2.6"/><circle cx="1456.2" cy="208.1" r="2.6"/><circle cx="1455.3" cy="201.7" r="2.6"/><circle cx="1461.3" cy="195.4" r="2.6"/><circle cx="1465.5" cy="193.7" r="2.6"/><circle cx="1466.4" cy="200.4" r="2.6"/><circle cx="1468.1" cy="191.1" r="2.6"/><circle cx="1470.6" cy="192.0" r="2.6"/><circle cx="1468.9" cy="188.6" r="2.6"/><circle cx="1471.5" cy="185.2" r="2.6"/><circle cx="1472.3" cy="181.8" r="2.6"/><circle cx="1472.3" cy="180.1" r="2.6"/><circle cx="1467.6" cy="176.7" r="2.6"/><circle cx="1471.5" cy="172.9" r="2.6"/><circle cx="1468.1" cy="170.3" r="2.6"/><circle cx="1471.9" cy="164.4" r="2.6"/><circle cx="1473.6" cy="159.7" r="2.6"/></g>
<path d="M1264.2,153.5 L1266.6,152.1 L1272.0,150.0 L1277.4,147.8 L1282.8,146.7 L1286.0,144.0 L1290.4,141.9 L1295.2,139.2 L1295.8,134.9 L1295.8,135.6 L1292.5,136.2 L1289.3,137.2 L1286.0,136.7 L1282.8,136.2 L1279.6,136.7 L1276.9,136.2 L1276.3,132.9 L1273.1,131.6 L1268.8,131.3 L1264.4,130.2 L1261.2,128.6 L1261.7,126.4 L1259.6,124.3 L1262.3,121.6 L1266.6,118.9 L1272.0,117.3 L1277.4,116.2 L1280.6,115.6 L1282.3,113.5 L1281.7,111.3 L1277.4,111.3 L1273.1,111.9 L1266.6,112.4 L1261.2,111.9 L1255.8,109.7 L1251.5,107.5 L1260.1,106.5 L1266.6,104.8 L1272.0,105.9 L1277.9,105.7 L1274.2,103.8 L1270.9,102.1 L1266.6,100.0 L1261.2,97.8 L1256.9,96.7 L1256.9,95.1 L1261.2,93.5 L1266.6,93.5 L1270.4,92.4 L1272.0,90.8 L1274.2,88.6 L1277.4,87.3 L1281.7,86.5 L1286.0,85.9 L1290.4,85.4 L1294.7,84.9 L1299.0,83.8 L1303.3,84.3 L1307.6,85.2 L1309.8,85.9 L1315.2,85.9 L1320.6,86.7 L1327.1,87.3 L1331.4,87.6 L1336.8,88.1 L1342.2,88.6 L1347.6,89.2 L1353.0,89.2 L1358.4,89.9 L1368.8,91.3 L1374.2,92.4 L1379.6,93.8 L1382.8,93.5 L1386.1,91.9 L1390.4,90.8 L1395.8,91.3 L1401.2,90.3 L1406.6,89.2 L1410.9,88.4 L1413.1,90.3 L1415.2,89.7 L1417.4,87.8 L1422.4,89.3 L1426.8,91.5 L1431.2,89.3 L1433.8,91.5 L1440.0,90.7 L1444.4,91.1 L1448.8,92.0 L1453.2,92.9 L1457.6,93.3 L1462.0,93.7 L1466.4,94.6 L1470.8,95.9 L1472.5,97.3 L1470.8,98.6 L1475.2,98.1 L1479.6,97.7 L1483.0,99.0 L1487.6,98.5 L1492.3,97.8 L1494.6,99.0 L1496.9,99.9 L1499.2,99.4 L1501.5,98.5 L1499.2,97.1 L1497.4,96.7 L1498.3,95.7 L1501.5,94.8 L1506.1,94.4 L1509.4,94.6 L1511.7,95.3 L1514.5,97.1 L1516.3,98.3 L1520.0,97.8 L1524.7,98.5 L1528.4,99.7 L1533.9,99.0 L1539.9,99.0 L1540.4,96.7 L1540.7,96.7 L1545.0,95.8 L1550.0,96.1 L1550.6,99.2 L1550.3,101.3 L1552.4,97.9 L1556.1,96.7 L1557.4,94.2 L1554.3,92.4 L1551.2,91.1 L1548.7,89.3 L1549.4,86.2 L1551.2,83.7 L1554.9,81.9 L1558.6,82.2 L1562.3,84.3 L1566.0,86.8 L1569.1,89.3 L1566.0,90.5 L1567.3,91.1 L1572.2,91.8 L1573.4,95.5 L1577.1,93.3 L1579.6,93.0 L1582.1,94.8 L1583.3,97.9 L1585.8,99.8 L1588.0,100.4 L1589.6,99.1 L1592.6,96.0 L1593.9,92.3 L1593.3,90.2 M1611.2,99.1 L1608.1,100.7 L1601.9,102.2 L1595.7,103.5 L1592.6,104.1 L1590.8,105.9 L1587.7,109.6 L1583.4,112.7 L1577.2,114.0 L1573.5,115.2 L1572.3,117.0 L1568.6,118.9 L1568.2,119.0 L1563.6,121.3 L1559.9,124.1 L1557.1,127.8 L1555.7,131.5 L1555.7,135.2 L1560.8,135.6 L1562.6,136.6 L1564.5,139.8 L1565.9,143.1 L1571.0,142.6 L1574.7,142.6 L1580.2,144.4 L1584.9,146.8 L1589.5,148.1 L1596.0,150.0 L1600.6,150.5 L1607.5,150.9 L1608.0,153.7 L1608.9,157.4 L1609.4,160.0 L1608.0,160.6 L1611.7,164.3 M1611.8,92.3 L1609.3,94.2 L1608.7,97.3 L1611.2,98.5 M1264.2,153.5 L1268.2,154.3 L1273.1,152.7 L1279.6,150.0 L1285.0,149.4 L1290.4,148.4 L1292.5,146.2 L1296.8,144.6 L1300.1,143.0 L1303.9,140.8 L1307.6,139.7 L1310.3,137.8 L1312.0,136.3 L1310.1,134.5 L1313.0,133.0 L1314.1,131.8 L1318.4,128.6 L1320.6,127.0 L1324.9,126.4 L1325.5,127.5 L1320.6,129.1 L1319.0,131.3 L1319.5,134.5 L1322.8,134.0 L1327.1,132.9 L1331.4,131.8 L1334.6,130.8 L1335.7,128.1 L1337.9,127.5 L1342.2,128.6 L1347.6,130.2 L1353.0,130.8 L1358.4,131.3 L1363.8,132.4 L1358.0,130.8 L1363.4,131.8 L1368.0,132.6 L1372.6,134.9 L1377.3,137.2 L1383.7,138.6 L1392.1,138.6 L1394.4,141.9 L1397.6,143.7 L1400.4,146.5 L1401.3,149.3 L1405.0,150.6 L1407.8,153.0 L1408.7,155.7 L1412.0,157.6 L1413.8,160.8 L1417.1,162.2 L1418.9,165.0 L1420.3,167.3 L1423.6,169.6 L1425.4,170.5 L1431.9,173.2 L1436.2,175.4 L1438.4,177.5 L1436.2,179.7 L1434.0,180.8 L1433.5,184.0 L1433.8,190.5 L1434.0,194.8 L1433.5,200.0 L1432.2,201.9 L1433.3,207.3 L1432.7,212.7 L1434.9,218.1 L1439.2,222.4 L1443.5,228.9 L1448.9,236.4 L1453.2,238.1 L1458.6,239.7 L1461.9,241.8 L1465.1,249.4 L1468.4,255.3 L1468.9,259.1 M1416.2,170.0 L1421.1,170.5 L1427.6,172.7 L1434.0,175.4 L1438.4,176.4 L1440.5,179.7 L1441.1,184.0 L1438.9,182.9 L1437.3,180.8 L1434.0,178.6 L1428.6,176.4 L1423.2,174.3 L1417.8,172.7 L1415.7,171.0Z M1395.8,155.3 L1402.4,155.6 L1401.1,159.4 L1405.5,163.6 L1402.7,163.6 L1397.6,158.5Z M1472.7,259.1 L1472.7,255.3 L1472.1,248.9 L1473.8,248.3 L1478.1,249.9 L1480.2,255.3 L1480.8,259.1 M1253.6,130.2 L1258.0,129.5 L1262.3,130.2 L1261.2,131.8 L1256.9,131.6Z M1307.6,140.8 L1312.0,139.5 L1317.4,140.3 L1317.9,141.9 L1314.1,143.5 L1309.8,144.6 L1308.2,143.0Z M1245.0,117.0 L1248.5,117.3 M1439.3,64.4 L1443.9,61.9 L1448.9,60.0 L1455.0,58.5 L1461.2,57.9 L1467.1,57.6 L1466.8,60.3 L1464.9,61.9 L1458.1,62.8 L1452.0,64.0 L1445.8,65.3 L1440.8,65.0Z M1460.6,68.1 L1463.7,65.3 L1467.4,63.4 L1470.5,62.8 L1476.6,63.7 L1482.8,65.0 L1487.8,66.2 L1490.8,66.5 L1490.2,63.1 L1493.9,61.6 L1498.0,61.3 L1500.5,64.0 L1502.9,65.0 L1507.3,64.7 L1510.3,65.9 L1509.7,68.4 L1507.3,69.3 L1502.9,69.6 L1498.0,69.7 L1492.1,69.3 L1485.9,70.2 L1479.7,71.1 L1476.6,70.8 L1476.6,69.3 L1479.7,68.9 L1473.6,68.5 L1467.4,68.4Z M1430.0,71.8 L1436.5,71.1 L1443.9,70.8 L1452.0,71.5 L1458.1,72.1 L1464.9,73.9 L1461.2,76.1 L1456.3,78.2 L1452.6,80.7 L1448.9,83.5 L1443.9,84.7 L1438.4,85.8 L1433.4,84.4 L1426.6,82.0 L1430.3,77.6 L1434.0,73.9Z M1453.2,83.2 L1455.8,80.5 L1462.0,77.9 L1467.3,76.1 L1466.1,75.2 L1470.5,75.8 L1473.6,76.7 L1474.8,78.2 L1478.5,77.6 L1482.8,77.3 L1485.9,78.2 L1489.0,79.2 L1492.1,77.6 L1495.2,77.0 L1498.0,78.2 L1499.9,77.0 L1502.9,75.8 L1507.3,74.5 L1513.4,75.2 L1515.9,75.8 L1513.4,77.0 L1512.2,78.2 L1513.1,80.9 L1514.9,83.7 L1516.3,85.6 L1520.0,86.9 L1524.7,88.3 L1529.3,89.5 L1530.2,90.4 L1527.0,91.1 L1524.7,91.6 L1523.3,92.0 L1524.7,93.4 L1524.2,94.6 L1522.4,94.4 L1517.7,94.1 L1513.1,93.7 L1509.4,93.0 L1506.1,93.0 L1501.5,93.4 L1496.9,93.9 L1492.3,94.4 L1487.6,94.8 L1483.0,95.3 L1479.6,95.5 L1475.2,95.9 L1469.0,94.2 L1465.5,92.9 L1462.0,90.2 L1459.3,88.5 L1456.7,84.9Z M1511.0,51.7 L1516.5,51.4 L1522.7,52.3 L1528.9,53.6 L1533.8,55.1 L1535.3,57.3 L1531.3,56.6 L1525.8,55.4 L1519.6,54.8 L1512.2,55.1 L1511.3,53.2Z M1539.4,52.9 L1542.4,52.6 L1547.4,53.2 L1551.7,54.2 L1552.3,56.0 L1550.5,57.3 L1546.1,57.3 L1542.4,56.0 L1540.0,54.8Z M1523.3,63.4 L1528.9,62.5 L1535.0,61.9 L1540.6,61.9 L1543.1,63.4 L1543.1,66.5 L1541.2,69.0 L1535.0,69.3 L1531.3,69.0 L1530.1,66.5 L1523.9,66.2 L1523.3,64.7Z M1547.4,69.0 L1550.5,67.1 L1555.4,66.5 L1559.1,67.4 L1559.7,69.3 L1556.6,70.2 L1550.5,69.9Z M1523.3,78.2 L1527.0,77.0 L1528.9,75.2 L1532.6,73.6 L1538.1,73.9 L1546.1,74.5 L1544.9,77.0 L1546.8,78.9 L1547.4,81.3 L1544.9,83.2 L1541.2,84.4 L1536.3,84.1 L1532.0,82.6 L1527.6,80.7 L1523.9,79.5Z M1550.5,74.5 L1553.6,72.7 L1559.7,72.4 L1565.9,72.7 L1573.3,73.6 L1569.0,75.8 L1562.8,78.2 L1557.3,80.7 L1553.6,80.7 L1551.1,78.2Z M1534.5,92.1 L1537.6,90.5 L1541.3,89.3 L1545.0,89.9 L1548.1,91.1 L1551.2,93.0 L1551.2,93.9 L1548.1,94.2 L1543.8,93.9 L1538.9,93.0 L1535.2,92.4Z M1549.4,48.7 L1555.0,50.2 L1562.4,50.8 L1559.3,52.6 L1561.8,54.5 L1568.6,55.7 L1576.0,55.5 L1582.1,54.5 L1586.5,52.3 L1588.3,50.5 L1595.1,50.8 L1595.7,52.0 L1590.8,52.6 L1586.5,53.6 M1585.9,54.8 L1583.4,57.3 L1584.6,59.4 L1577.2,60.7 L1577.5,62.8 L1589.6,62.8 L1601.9,62.8 L1612.1,62.5 M1546.3,61.0 L1552.5,61.1 L1559.9,61.3 L1568.6,62.2 L1571.7,63.4 L1572.9,65.3 L1577.2,66.2 L1589.6,66.8 L1601.9,66.4 L1612.1,65.9 M1546.3,61.0 L1546.3,61.9 L1552.5,62.5 L1560.5,63.4 L1563.0,65.3 L1564.9,68.4 L1571.0,69.9 L1583.4,70.8 L1595.7,71.1 L1612.1,70.8 M1612.1,76.4 L1610.5,75.2 L1608.1,73.9 L1604.4,73.9 L1599.4,75.2 L1595.7,77.0 L1593.3,78.9 L1590.8,77.0 L1592.6,75.2 L1591.4,73.9 L1584.6,74.2 L1578.4,75.2 L1576.0,77.0 L1574.4,80.7 L1576.0,83.8 L1576.6,82.5 L1577.2,85.2 L1580.9,86.8 L1586.5,88.0 L1592.6,89.0 L1598.8,89.6 L1605.0,90.2 L1612.1,90.6 M1592.6,104.7 L1595.7,107.8 L1601.9,110.2 L1611.2,113.3 L1611.2,115.5 L1603.8,114.6 L1598.8,115.8 L1594.5,117.7 L1592.6,117.0 L1588.3,116.4 L1590.2,114.6 L1591.7,110.9 L1592.3,107.2Z M1600.6,121.8 L1604.3,119.4 L1609.9,119.4 L1608.0,121.3 L1602.4,122.7Z M1577.5,254.5 L1581.6,253.4 L1589.8,253.4 L1593.9,254.5 M1610.6,254.5 L1610.6,250.8 L1611.4,249.2" fill="none" stroke="#000" stroke-width="2.2" stroke-linejoin="round" stroke-linecap="round"/>
<path d="M1481.6,54.2 L1485.9,52.8 L1492.1,53.1 L1494.5,54.2 L1493.6,55.9 L1487.1,55.5 L1482.2,56.3Z" fill="#000"/>
<path d="M1477.3,57.6 L1481.6,54.5 L1485.9,52.9 L1492.1,53.2 L1494.5,54.2 L1493.3,57.3 L1489.0,58.2 L1484.0,59.1 L1479.1,58.5Z M1457.6,84.1 L1467.3,84.1 M1460.2,88.0 L1483.1,88.5 M1511.3,52.3 L1516.5,53.6 M1548.6,58.2 L1560.3,58.2 M1584.6,55.1 L1589.6,56.3 L1596.3,58.5" fill="none" stroke="#000" stroke-width="2.6" stroke-linejoin="round" stroke-linecap="round"/>
</g>
<rect x="1245.4" y="49.0" width="367.1" height="205.3" fill="none" stroke="#000" stroke-width="1.6"/>
<text x="1245.4" y="39.5" font-size="23.3">d)</text>
<text x="1429.0" y="17.5" font-size="23.3" text-anchor="middle">Initialized on June 14</text>
<g clip-path="url(#cp04)">
<rect x="1632.7" y="49.0" width="367.0" height="205.3" fill="#f7f6f6"/>
<path d="M1876.6,224.5 1883.0,221.3 1886.3,211.6 1894.4,208.3 1902.5,213.2 1912.2,219.7 1920.3,224.5 1913.8,231.0 1912.2,240.7 1909.0,247.2 1905.7,254.5 1918.7,254.5 1921.9,250.4 1923.5,240.7 1928.4,231.0 1933.3,219.7 1931.6,211.6 1936.5,209.9 1946.2,203.5 1947.8,192.1 1944.6,184.0 1938.1,182.4 1934.9,174.3 1928.4,166.2 1925.2,169.4 1915.4,163.0 1905.7,156.5 1896.0,150.0 1889.3,150.0 1882.4,144.3 1872.8,137.9 1863.1,131.4 1856.7,121.8 1855.1,112.2 1859.9,105.8 1863.1,97.7 1879.2,92.9 1895.2,88.1 1908.1,84.9 1914.5,80.1 1911.3,70.5 1904.9,64.0 1898.4,57.6 1892.0,49.6 1818.1,49.6 1815.0,49.6 1632.0,49.6 1632.0,86.5 1635.2,92.9 1640.0,99.3 1636.8,104.2 1641.6,112.2 1648.0,118.6 1657.7,117.0 1667.3,112.2 1676.9,112.2 1688.2,118.6 1702.6,118.6 1715.4,120.2 1721.9,128.2 1736.3,133.0 1752.3,137.9 1763.6,145.9 1776.4,152.3 1782.2,152.3 1787.5,163.0 1794.0,169.4 1802.1,174.3 1808.6,177.5 1815.0,179.7 1815.0,208.3 1824.7,214.8 1832.8,221.3 1842.5,231.0 1852.3,240.7 1857.1,254.5 1871.7,254.5 1868.5,244.0 1871.7,234.2 1870.1,227.8 1868.5,222.9ZM1805.3,73.7 1815.0,74.9 1815.0,86.4 1800.5,85.7 1782.8,84.1 1781.2,80.1 1792.5,76.1ZM1852.3,229.4 1850.6,222.9 1857.1,222.1 1858.7,229.4ZM1646.4,52.8 1656.1,51.2 1680.1,51.2 1696.2,52.8 1697.8,59.2 1691.4,65.7 1685.0,72.1 1672.1,73.7 1656.1,72.1 1649.7,67.3 1646.4,60.8ZM1646.4,72.1 1649.7,75.3 1640.0,77.7 1633.6,77.7 1633.6,72.1ZM1657.7,76.1 1664.1,75.3 1665.7,80.1 1657.7,80.9ZM1720.3,84.9 1712.2,81.7 1704.2,82.5 1694.6,78.5 1701.0,72.1 1715.4,64.0 1728.3,62.4 1744.3,63.2 1754.0,60.8 1763.6,57.6 1776.4,56.0 1792.5,54.4 1808.5,52.8 1811.7,56.0 1805.3,62.4 1792.5,64.0 1776.4,65.7 1771.6,72.1 1768.4,80.1 1755.6,80.1 1744.3,84.9 1728.3,82.5ZM1723.5,94.5 1712.2,95.3 1707.4,89.7 1721.9,88.9ZM1870.1,154.9 1876.6,163.0 1883.0,164.6 1891.1,171.1 1896.0,179.2 1887.9,185.6 1876.6,188.9 1868.5,193.7 1863.6,198.6 1853.9,201.8 1845.8,203.5 1834.4,198.6 1831.2,188.9 1824.7,182.4 1815.0,179.2 1815.0,176.1 1807.0,172.7 1800.5,166.2 1794.9,152.3 1792.5,152.3 1784.4,144.3 1773.2,134.6 1763.6,129.8 1754.0,126.6 1749.1,120.2 1754.0,113.8 1747.5,109.0 1742.7,102.6 1741.1,92.9 1760.4,92.1 1776.4,93.7 1792.5,91.3 1802.1,94.5 1808.5,101.0 1818.1,101.0 1818.1,107.8 1827.8,109.0 1839.1,112.2 1847.1,117.0 1851.9,125.0 1859.9,131.4 1866.3,139.5 1872.8,147.5 1876.0,152.3 1867.5,152.3ZM1959.4,54.4 1975.5,57.6 2000.0,54.4 2000.0,49.6 1959.4,49.6 1946.6,49.6 1898.4,49.6 1908.1,57.6 1911.3,64.0 1919.3,59.2 1935.3,57.6 1951.4,54.4 1954.5,52.6ZM1956.2,91.3 1967.4,97.7 1975.5,96.1 1967.4,88.1 1959.4,76.9 1940.2,80.1ZM1963.4,123.4 1959.4,117.8 1953.0,120.2 1956.2,125.0ZM1983.5,133.0 1991.5,130.6 1983.5,126.6 1972.3,129.0ZM1719.5,172.7 1709.8,177.5 1700.0,179.2 1680.6,187.3 1669.3,185.6 1675.7,195.4 1670.9,203.5 1674.1,211.6 1685.5,216.4 1690.3,221.3 1685.5,227.8 1672.5,237.5 1656.3,244.0 1640.1,247.2 1632.0,250.4 1632.0,254.5 1653.1,254.5 1664.4,247.2 1677.4,244.0 1688.7,237.5 1700.0,231.0 1706.5,226.1 1700.0,218.0 1693.6,211.6 1683.8,211.6 1681.4,205.1 1682.2,198.6 1688.7,195.4 1696.8,198.6 1700.0,205.1 1706.5,211.6 1716.2,205.1 1729.2,198.6 1742.2,193.7 1745.4,192.1 1735.7,182.4 1732.4,179.2 1738.9,174.3 1745.4,174.3 1758.4,177.5 1769.7,184.0 1779.4,185.6 1781.0,192.1 1774.6,197.0 1771.3,211.6 1761.6,218.0 1758.4,226.1 1748.6,229.4 1738.9,231.0 1722.7,234.2 1708.1,239.1 1696.8,245.6 1688.7,254.5 1737.3,254.5 1745.4,247.2 1751.9,240.7 1761.6,231.0 1769.7,222.9 1777.8,214.8 1784.3,208.3 1789.1,198.6 1797.2,187.3 1794.0,182.4 1787.5,175.9 1781.0,179.2 1769.7,171.1 1756.7,165.4 1745.4,165.4 1729.2,167.8ZM1715.4,201.8 1711.4,202.6 1706.5,198.6 1713.0,196.2ZM1668.4,208.3 1664.4,201.8 1659.5,203.5 1660.3,209.9 1664.4,213.2Z" fill="#fce0d0" fill-rule="evenodd" stroke="#fce0d0" stroke-width="0.6" stroke-linejoin="round"/>
<path d="M1646.4,52.8 1646.4,60.8 1649.7,67.3 1656.1,72.1 1672.1,73.7 1685.0,72.1 1691.4,65.7 1697.8,59.2 1696.2,52.8 1680.1,51.2 1656.1,51.2ZM1633.6,77.7 1640.0,77.7 1649.7,75.3 1646.4,72.1 1633.6,72.1ZM1657.7,76.1 1657.7,80.9 1665.7,80.1 1664.1,75.3ZM1728.3,62.4 1715.4,64.0 1701.0,72.1 1694.6,78.5 1704.2,82.5 1712.2,81.7 1720.3,84.9 1728.3,82.5 1744.3,84.9 1755.6,80.1 1768.4,80.1 1771.6,72.1 1776.4,65.7 1792.5,64.0 1805.3,62.4 1811.7,56.0 1808.5,52.8 1792.5,54.4 1776.4,56.0 1763.6,57.6 1754.0,60.8 1744.3,63.2ZM1723.5,94.5 1721.9,88.9 1707.4,89.7 1712.2,95.3ZM1847.1,144.3 1850.5,150.0 1853.9,150.0 1855.5,159.7 1853.9,171.1 1853.9,182.4 1847.4,192.1 1837.7,195.4 1834.4,188.9 1828.0,182.4 1815.0,175.9 1815.0,169.6 1807.0,166.2 1802.1,158.1 1799.8,152.3 1794.9,152.3 1800.5,166.2 1807.0,172.7 1815.0,176.1 1815.0,179.2 1824.7,182.4 1831.2,188.9 1834.4,198.6 1845.8,203.5 1853.9,201.8 1863.6,198.6 1868.5,193.7 1876.6,188.9 1887.9,185.6 1896.0,179.2 1891.1,171.1 1883.0,164.6 1876.6,163.0 1870.1,154.9 1867.5,152.3 1876.0,152.3 1872.8,147.5 1866.3,139.5 1859.9,131.4 1851.9,125.0 1847.1,117.0 1839.1,112.2 1827.8,109.0 1818.1,107.8 1818.1,101.0 1808.5,101.0 1802.1,94.5 1792.5,91.3 1776.4,93.7 1760.4,92.1 1741.1,92.9 1742.7,102.6 1747.5,109.0 1754.0,113.8 1749.1,120.2 1754.0,126.6 1763.6,129.8 1773.2,134.6 1784.4,144.3 1792.5,152.3 1787.6,137.9 1792.5,133.0 1800.5,128.2 1808.5,125.0 1818.1,123.4 1818.1,129.4 1827.8,133.0 1839.1,137.9ZM1748.6,229.4 1758.4,226.1 1761.6,218.0 1771.3,211.6 1774.6,197.0 1781.0,192.1 1779.4,185.6 1769.7,184.0 1758.4,177.5 1745.4,174.3 1738.9,174.3 1732.4,179.2 1735.7,182.4 1745.4,192.1 1742.2,193.7 1729.2,198.6 1716.2,205.1 1706.5,211.6 1700.0,205.1 1696.8,198.6 1688.7,195.4 1682.2,198.6 1681.4,205.1 1683.8,211.6 1693.6,211.6 1700.0,218.0 1706.5,226.1 1700.0,231.0 1688.7,237.5 1677.4,244.0 1664.4,247.2 1653.1,254.5 1688.7,254.5 1696.8,245.6 1708.1,239.1 1722.7,234.2 1738.9,231.0ZM1750.3,219.7 1737.3,221.3 1729.2,224.5 1719.5,227.8 1715.4,222.9 1714.6,218.0 1722.7,214.8 1729.2,211.6 1732.4,205.1 1742.2,200.2 1755.1,198.6 1758.4,203.5 1756.7,214.8ZM1677.4,251.2 1675.7,248.8 1683.8,247.2 1684.6,249.6ZM1706.5,198.6 1711.4,202.6 1715.4,201.8 1713.0,196.2ZM1886.3,211.6 1883.0,221.3 1876.6,224.5 1868.5,222.9 1870.1,227.8 1871.7,234.2 1868.5,244.0 1871.7,254.5 1905.7,254.5 1909.0,247.2 1912.2,240.7 1913.8,231.0 1920.3,224.5 1912.2,219.7 1902.5,213.2 1894.4,208.3ZM1899.2,240.7 1894.4,247.2 1886.3,244.0 1879.8,240.7 1886.3,234.2 1896.0,233.4 1905.7,235.9Z" fill="#f8bb9e" fill-rule="evenodd" stroke="#f8bb9e" stroke-width="0.6" stroke-linejoin="round"/>
<path d="M1799.8,152.3 1802.1,158.1 1807.0,166.2 1815.0,169.6 1815.0,175.9 1828.0,182.4 1834.4,188.9 1837.7,195.4 1847.4,192.1 1853.9,182.4 1853.9,171.1 1855.5,159.7 1853.9,150.0 1850.5,150.0 1847.1,144.3 1839.1,137.9 1827.8,133.0 1818.1,129.4 1818.1,123.4 1808.5,125.0 1800.5,128.2 1792.5,133.0 1787.6,137.9 1792.5,152.3ZM1818.3,150.0 1831.2,150.0 1839.3,159.7 1845.8,166.2 1842.5,172.7 1834.4,171.1 1824.7,166.2 1818.3,165.1 1818.3,166.2 1816.2,164.8 1815.0,164.6 1815.0,164.0 1808.6,159.7 1803.7,150.0 1808.1,150.0 1808.5,149.1 1818.1,147.5 1818.1,150.0ZM1758.4,203.5 1755.1,198.6 1742.2,200.2 1732.4,205.1 1729.2,211.6 1722.7,214.8 1714.6,218.0 1715.4,222.9 1719.5,227.8 1729.2,224.5 1737.3,221.3 1750.3,219.7 1756.7,214.8ZM1747.0,205.9 1751.9,209.9 1750.3,212.4 1742.2,211.6 1738.1,209.9 1735.7,205.1 1742.2,202.6ZM1683.8,247.2 1675.7,248.8 1677.4,251.2 1684.6,249.6ZM1896.0,233.4 1886.3,234.2 1879.8,240.7 1886.3,244.0 1894.4,247.2 1899.2,240.7 1905.7,235.9Z" fill="#e8896c" fill-rule="evenodd" stroke="#e8896c" stroke-width="0.6" stroke-linejoin="round"/>
<path d="M1808.5,149.1 1808.1,150.0 1803.7,150.0 1808.6,159.7 1815.0,164.0 1815.0,164.6 1816.2,164.8 1818.3,166.2 1818.3,165.1 1824.7,166.2 1834.4,171.1 1842.5,172.7 1845.8,166.2 1839.3,159.7 1831.2,150.0 1818.3,150.0 1818.1,150.0 1818.1,147.5ZM1750.3,212.4 1751.9,209.9 1747.0,205.9 1742.2,202.6 1735.7,205.1 1738.1,209.9 1742.2,211.6Z" fill="#cf5246" fill-rule="evenodd" stroke="#cf5246" stroke-width="0.6" stroke-linejoin="round"/>
<g fill="#666666" stroke="#ffffff" stroke-width="0.35" stroke-opacity="0.7"><circle cx="1804.9" cy="122.9" r="2.6"/><circle cx="1803.3" cy="127.1" r="2.6"/><circle cx="1802.2" cy="132.9" r="2.6"/><circle cx="1799.1" cy="134.8" r="2.6"/><circle cx="1795.2" cy="139.5" r="2.6"/><circle cx="1799.1" cy="143.3" r="2.6"/><circle cx="1800.6" cy="145.6" r="2.6"/><circle cx="1799.1" cy="148.0" r="2.6"/><circle cx="1797.6" cy="151.8" r="2.6"/><circle cx="1799.1" cy="154.1" r="2.6"/><circle cx="1802.2" cy="158.0" r="2.6"/><circle cx="1805.3" cy="161.1" r="2.6"/><circle cx="1807.6" cy="163.4" r="2.6"/><circle cx="1811.1" cy="124.4" r="2.6"/><circle cx="1816.5" cy="120.2" r="2.6"/><circle cx="1819.2" cy="120.2" r="2.6"/><circle cx="1822.3" cy="121.3" r="2.6"/><circle cx="1824.6" cy="121.7" r="2.6"/><circle cx="1827.7" cy="120.6" r="2.6"/><circle cx="1830.0" cy="120.9" r="2.6"/><circle cx="1836.1" cy="120.9" r="2.6"/><circle cx="1842.3" cy="120.9" r="2.6"/><circle cx="1848.9" cy="127.1" r="2.6"/><circle cx="1854.7" cy="133.3" r="2.6"/><circle cx="1860.8" cy="133.3" r="2.6"/><circle cx="1865.5" cy="132.9" r="2.6"/><circle cx="1868.5" cy="134.8" r="2.6"/><circle cx="1870.9" cy="136.4" r="2.6"/><circle cx="1873.2" cy="138.7" r="2.6"/><circle cx="1876.3" cy="139.5" r="2.6"/><circle cx="1873.9" cy="146.4" r="2.6"/><circle cx="1870.1" cy="145.3" r="2.6"/><circle cx="1867.0" cy="144.5" r="2.6"/><circle cx="1862.4" cy="145.6" r="2.6"/><circle cx="1862.4" cy="151.8" r="2.6"/><circle cx="1861.6" cy="158.4" r="2.6"/><circle cx="1860.8" cy="160.3" r="2.6"/><circle cx="1859.3" cy="163.4" r="2.6"/><circle cx="1809.5" cy="167.3" r="2.6"/><circle cx="1812.1" cy="169.9" r="2.6"/><circle cx="1816.3" cy="172.9" r="2.6"/><circle cx="1820.6" cy="176.7" r="2.6"/><circle cx="1822.3" cy="182.6" r="2.6"/><circle cx="1824.0" cy="190.3" r="2.6"/><circle cx="1825.7" cy="195.4" r="2.6"/><circle cx="1826.1" cy="201.3" r="2.6"/><circle cx="1826.5" cy="203.8" r="2.6"/><circle cx="1829.9" cy="207.2" r="2.6"/><circle cx="1833.3" cy="207.2" r="2.6"/><circle cx="1836.7" cy="205.1" r="2.6"/><circle cx="1840.9" cy="207.7" r="2.6"/><circle cx="1843.5" cy="208.1" r="2.6"/><circle cx="1842.6" cy="201.7" r="2.6"/><circle cx="1848.6" cy="195.4" r="2.6"/><circle cx="1852.8" cy="193.7" r="2.6"/><circle cx="1853.7" cy="200.4" r="2.6"/><circle cx="1855.4" cy="191.1" r="2.6"/><circle cx="1857.9" cy="192.0" r="2.6"/><circle cx="1856.2" cy="188.6" r="2.6"/><circle cx="1858.8" cy="185.2" r="2.6"/><circle cx="1859.6" cy="181.8" r="2.6"/><circle cx="1859.6" cy="180.1" r="2.6"/><circle cx="1854.9" cy="176.7" r="2.6"/><circle cx="1858.8" cy="172.9" r="2.6"/><circle cx="1855.4" cy="170.3" r="2.6"/><circle cx="1859.2" cy="164.4" r="2.6"/><circle cx="1860.9" cy="159.7" r="2.6"/></g>
<path d="M1651.5,153.5 L1653.9,152.1 L1659.3,150.0 L1664.7,147.8 L1670.1,146.7 L1673.3,144.0 L1677.7,141.9 L1682.5,139.2 L1683.1,134.9 L1683.1,135.6 L1679.8,136.2 L1676.6,137.2 L1673.3,136.7 L1670.1,136.2 L1666.9,136.7 L1664.2,136.2 L1663.6,132.9 L1660.4,131.6 L1656.1,131.3 L1651.7,130.2 L1648.5,128.6 L1649.0,126.4 L1646.9,124.3 L1649.6,121.6 L1653.9,118.9 L1659.3,117.3 L1664.7,116.2 L1667.9,115.6 L1669.6,113.5 L1669.0,111.3 L1664.7,111.3 L1660.4,111.9 L1653.9,112.4 L1648.5,111.9 L1643.1,109.7 L1638.8,107.5 L1647.4,106.5 L1653.9,104.8 L1659.3,105.9 L1665.2,105.7 L1661.5,103.8 L1658.2,102.1 L1653.9,100.0 L1648.5,97.8 L1644.2,96.7 L1644.2,95.1 L1648.5,93.5 L1653.9,93.5 L1657.7,92.4 L1659.3,90.8 L1661.5,88.6 L1664.7,87.3 L1669.0,86.5 L1673.3,85.9 L1677.7,85.4 L1682.0,84.9 L1686.3,83.8 L1690.6,84.3 L1694.9,85.2 L1697.1,85.9 L1702.5,85.9 L1707.9,86.7 L1714.4,87.3 L1718.7,87.6 L1724.1,88.1 L1729.5,88.6 L1734.9,89.2 L1740.3,89.2 L1745.7,89.9 L1756.1,91.3 L1761.5,92.4 L1766.9,93.8 L1770.1,93.5 L1773.4,91.9 L1777.7,90.8 L1783.1,91.3 L1788.5,90.3 L1793.9,89.2 L1798.2,88.4 L1800.4,90.3 L1802.5,89.7 L1804.7,87.8 L1809.7,89.3 L1814.1,91.5 L1818.5,89.3 L1821.1,91.5 L1827.3,90.7 L1831.7,91.1 L1836.1,92.0 L1840.5,92.9 L1844.9,93.3 L1849.3,93.7 L1853.7,94.6 L1858.1,95.9 L1859.8,97.3 L1858.1,98.6 L1862.5,98.1 L1866.9,97.7 L1870.3,99.0 L1874.9,98.5 L1879.6,97.8 L1881.9,99.0 L1884.2,99.9 L1886.5,99.4 L1888.8,98.5 L1886.5,97.1 L1884.7,96.7 L1885.6,95.7 L1888.8,94.8 L1893.4,94.4 L1896.7,94.6 L1899.0,95.3 L1901.8,97.1 L1903.6,98.3 L1907.3,97.8 L1912.0,98.5 L1915.7,99.7 L1921.2,99.0 L1927.2,99.0 L1927.7,96.7 L1928.0,96.7 L1932.3,95.8 L1937.3,96.1 L1937.9,99.2 L1937.6,101.3 L1939.7,97.9 L1943.4,96.7 L1944.7,94.2 L1941.6,92.4 L1938.5,91.1 L1936.0,89.3 L1936.7,86.2 L1938.5,83.7 L1942.2,81.9 L1945.9,82.2 L1949.6,84.3 L1953.3,86.8 L1956.4,89.3 L1953.3,90.5 L1954.6,91.1 L1959.5,91.8 L1960.7,95.5 L1964.4,93.3 L1966.9,93.0 L1969.4,94.8 L1970.6,97.9 L1973.1,99.8 L1975.3,100.4 L1976.9,99.1 L1979.9,96.0 L1981.2,92.3 L1980.6,90.2 M1998.5,99.1 L1995.4,100.7 L1989.2,102.2 L1983.0,103.5 L1979.9,104.1 L1978.1,105.9 L1975.0,109.6 L1970.7,112.7 L1964.5,114.0 L1960.8,115.2 L1959.6,117.0 L1955.9,118.9 L1955.5,119.0 L1950.9,121.3 L1947.2,124.1 L1944.4,127.8 L1943.0,131.5 L1943.0,135.2 L1948.1,135.6 L1949.9,136.6 L1951.8,139.8 L1953.2,143.1 L1958.3,142.6 L1962.0,142.6 L1967.5,144.4 L1972.2,146.8 L1976.8,148.1 L1983.3,150.0 L1987.9,150.5 L1994.8,150.9 L1995.3,153.7 L1996.2,157.4 L1996.7,160.0 L1995.3,160.6 L1999.0,164.3 M1999.1,92.3 L1996.6,94.2 L1996.0,97.3 L1998.5,98.5 M1651.5,153.5 L1655.5,154.3 L1660.4,152.7 L1666.9,150.0 L1672.3,149.4 L1677.7,148.4 L1679.8,146.2 L1684.1,144.6 L1687.4,143.0 L1691.2,140.8 L1694.9,139.7 L1697.6,137.8 L1699.3,136.3 L1697.4,134.5 L1700.3,133.0 L1701.4,131.8 L1705.7,128.6 L1707.9,127.0 L1712.2,126.4 L1712.8,127.5 L1707.9,129.1 L1706.3,131.3 L1706.8,134.5 L1710.1,134.0 L1714.4,132.9 L1718.7,131.8 L1721.9,130.8 L1723.0,128.1 L1725.2,127.5 L1729.5,128.6 L1734.9,130.2 L1740.3,130.8 L1745.7,131.3 L1751.1,132.4 L1745.3,130.8 L1750.7,131.8 L1755.3,132.6 L1759.9,134.9 L1764.6,137.2 L1771.0,138.6 L1779.4,138.6 L1781.7,141.9 L1784.9,143.7 L1787.7,146.5 L1788.6,149.3 L1792.3,150.6 L1795.1,153.0 L1796.0,155.7 L1799.3,157.6 L1801.1,160.8 L1804.4,162.2 L1806.2,165.0 L1807.6,167.3 L1810.9,169.6 L1812.7,170.5 L1819.2,173.2 L1823.5,175.4 L1825.7,177.5 L1823.5,179.7 L1821.3,180.8 L1820.8,184.0 L1821.1,190.5 L1821.3,194.8 L1820.8,200.0 L1819.5,201.9 L1820.6,207.3 L1820.0,212.7 L1822.2,218.1 L1826.5,222.4 L1830.8,228.9 L1836.2,236.4 L1840.5,238.1 L1845.9,239.7 L1849.2,241.8 L1852.4,249.4 L1855.7,255.3 L1856.2,259.1 M1803.5,170.0 L1808.4,170.5 L1814.9,172.7 L1821.3,175.4 L1825.7,176.4 L1827.8,179.7 L1828.4,184.0 L1826.2,182.9 L1824.6,180.8 L1821.3,178.6 L1815.9,176.4 L1810.5,174.3 L1805.1,172.7 L1803.0,171.0Z M1783.1,155.3 L1789.7,155.6 L1788.4,159.4 L1792.8,163.6 L1790.0,163.6 L1784.9,158.5Z M1860.0,259.1 L1860.0,255.3 L1859.4,248.9 L1861.1,248.3 L1865.4,249.9 L1867.5,255.3 L1868.1,259.1 M1640.9,130.2 L1645.3,129.5 L1649.6,130.2 L1648.5,131.8 L1644.2,131.6Z M1694.9,140.8 L1699.3,139.5 L1704.7,140.3 L1705.2,141.9 L1701.4,143.5 L1697.1,144.6 L1695.5,143.0Z M1632.3,117.0 L1635.8,117.3 M1826.6,64.4 L1831.2,61.9 L1836.2,60.0 L1842.3,58.5 L1848.5,57.9 L1854.4,57.6 L1854.1,60.3 L1852.2,61.9 L1845.4,62.8 L1839.3,64.0 L1833.1,65.3 L1828.1,65.0Z M1847.9,68.1 L1851.0,65.3 L1854.7,63.4 L1857.8,62.8 L1863.9,63.7 L1870.1,65.0 L1875.1,66.2 L1878.1,66.5 L1877.5,63.1 L1881.2,61.6 L1885.3,61.3 L1887.8,64.0 L1890.2,65.0 L1894.6,64.7 L1897.6,65.9 L1897.0,68.4 L1894.6,69.3 L1890.2,69.6 L1885.3,69.7 L1879.4,69.3 L1873.2,70.2 L1867.0,71.1 L1863.9,70.8 L1863.9,69.3 L1867.0,68.9 L1860.9,68.5 L1854.7,68.4Z M1817.3,71.8 L1823.8,71.1 L1831.2,70.8 L1839.3,71.5 L1845.4,72.1 L1852.2,73.9 L1848.5,76.1 L1843.6,78.2 L1839.9,80.7 L1836.2,83.5 L1831.2,84.7 L1825.7,85.8 L1820.7,84.4 L1813.9,82.0 L1817.6,77.6 L1821.3,73.9Z M1840.5,83.2 L1843.1,80.5 L1849.3,77.9 L1854.6,76.1 L1853.4,75.2 L1857.8,75.8 L1860.9,76.7 L1862.1,78.2 L1865.8,77.6 L1870.1,77.3 L1873.2,78.2 L1876.3,79.2 L1879.4,77.6 L1882.5,77.0 L1885.3,78.2 L1887.2,77.0 L1890.2,75.8 L1894.6,74.5 L1900.7,75.2 L1903.2,75.8 L1900.7,77.0 L1899.5,78.2 L1900.4,80.9 L1902.2,83.7 L1903.6,85.6 L1907.3,86.9 L1912.0,88.3 L1916.6,89.5 L1917.5,90.4 L1914.3,91.1 L1912.0,91.6 L1910.6,92.0 L1912.0,93.4 L1911.5,94.6 L1909.7,94.4 L1905.0,94.1 L1900.4,93.7 L1896.7,93.0 L1893.4,93.0 L1888.8,93.4 L1884.2,93.9 L1879.6,94.4 L1874.9,94.8 L1870.3,95.3 L1866.9,95.5 L1862.5,95.9 L1856.3,94.2 L1852.8,92.9 L1849.3,90.2 L1846.6,88.5 L1844.0,84.9Z M1898.3,51.7 L1903.8,51.4 L1910.0,52.3 L1916.2,53.6 L1921.1,55.1 L1922.6,57.3 L1918.6,56.6 L1913.1,55.4 L1906.9,54.8 L1899.5,55.1 L1898.6,53.2Z M1926.7,52.9 L1929.7,52.6 L1934.7,53.2 L1939.0,54.2 L1939.6,56.0 L1937.8,57.3 L1933.4,57.3 L1929.7,56.0 L1927.3,54.8Z M1910.6,63.4 L1916.2,62.5 L1922.3,61.9 L1927.9,61.9 L1930.4,63.4 L1930.4,66.5 L1928.5,69.0 L1922.3,69.3 L1918.6,69.0 L1917.4,66.5 L1911.2,66.2 L1910.6,64.7Z M1934.7,69.0 L1937.8,67.1 L1942.7,66.5 L1946.4,67.4 L1947.0,69.3 L1943.9,70.2 L1937.8,69.9Z M1910.6,78.2 L1914.3,77.0 L1916.2,75.2 L1919.9,73.6 L1925.4,73.9 L1933.4,74.5 L1932.2,77.0 L1934.1,78.9 L1934.7,81.3 L1932.2,83.2 L1928.5,84.4 L1923.6,84.1 L1919.3,82.6 L1914.9,80.7 L1911.2,79.5Z M1937.8,74.5 L1940.9,72.7 L1947.0,72.4 L1953.2,72.7 L1960.6,73.6 L1956.3,75.8 L1950.1,78.2 L1944.6,80.7 L1940.9,80.7 L1938.4,78.2Z M1921.8,92.1 L1924.9,90.5 L1928.6,89.3 L1932.3,89.9 L1935.4,91.1 L1938.5,93.0 L1938.5,93.9 L1935.4,94.2 L1931.1,93.9 L1926.2,93.0 L1922.5,92.4Z M1936.7,48.7 L1942.3,50.2 L1949.7,50.8 L1946.6,52.6 L1949.1,54.5 L1955.9,55.7 L1963.3,55.5 L1969.4,54.5 L1973.8,52.3 L1975.6,50.5 L1982.4,50.8 L1983.0,52.0 L1978.1,52.6 L1973.8,53.6 M1973.2,54.8 L1970.7,57.3 L1971.9,59.4 L1964.5,60.7 L1964.8,62.8 L1976.9,62.8 L1989.2,62.8 L1999.4,62.5 M1933.6,61.0 L1939.8,61.1 L1947.2,61.3 L1955.9,62.2 L1959.0,63.4 L1960.2,65.3 L1964.5,66.2 L1976.9,66.8 L1989.2,66.4 L1999.4,65.9 M1933.6,61.0 L1933.6,61.9 L1939.8,62.5 L1947.8,63.4 L1950.3,65.3 L1952.2,68.4 L1958.3,69.9 L1970.7,70.8 L1983.0,71.1 L1999.4,70.8 M1999.4,76.4 L1997.8,75.2 L1995.4,73.9 L1991.7,73.9 L1986.7,75.2 L1983.0,77.0 L1980.6,78.9 L1978.1,77.0 L1979.9,75.2 L1978.7,73.9 L1971.9,74.2 L1965.7,75.2 L1963.3,77.0 L1961.7,80.7 L1963.3,83.8 L1963.9,82.5 L1964.5,85.2 L1968.2,86.8 L1973.8,88.0 L1979.9,89.0 L1986.1,89.6 L1992.3,90.2 L1999.4,90.6 M1979.9,104.7 L1983.0,107.8 L1989.2,110.2 L1998.5,113.3 L1998.5,115.5 L1991.1,114.6 L1986.1,115.8 L1981.8,117.7 L1979.9,117.0 L1975.6,116.4 L1977.5,114.6 L1979.0,110.9 L1979.6,107.2Z M1987.9,121.8 L1991.6,119.4 L1997.2,119.4 L1995.3,121.3 L1989.7,122.7Z M1964.8,254.5 L1968.9,253.4 L1977.1,253.4 L1981.2,254.5 M1997.9,254.5 L1997.9,250.8 L1998.7,249.2" fill="none" stroke="#000" stroke-width="2.2" stroke-linejoin="round" stroke-linecap="round"/>
<path d="M1868.9,54.2 L1873.2,52.8 L1879.4,53.1 L1881.8,54.2 L1880.9,55.9 L1874.4,55.5 L1869.5,56.3Z" fill="#000"/>
<path d="M1864.6,57.6 L1868.9,54.5 L1873.2,52.9 L1879.4,53.2 L1881.8,54.2 L1880.6,57.3 L1876.3,58.2 L1871.3,59.1 L1866.4,58.5Z M1844.9,84.1 L1854.6,84.1 M1847.5,88.0 L1870.4,88.5 M1898.6,52.3 L1903.8,53.6 M1935.9,58.2 L1947.6,58.2 M1971.9,55.1 L1976.9,56.3 L1983.6,58.5" fill="none" stroke="#000" stroke-width="2.6" stroke-linejoin="round" stroke-linecap="round"/>
</g>
<rect x="1632.7" y="49.0" width="367.0" height="205.3" fill="none" stroke="#000" stroke-width="1.6"/>
<text x="1632.7" y="39.5" font-size="23.3">e)</text>
<text x="1816.2" y="17.5" font-size="23.3" text-anchor="middle">Initialized on June 17</text>
<g clip-path="url(#cp10)">
<rect x="82.4" y="300.0" width="367.3" height="207.5" fill="#f7f6f6"/>
<path d="M226.5,303.2 104.5,303.2 104.5,312.8 107.7,324.1 130.2,325.7 162.3,327.3 188.0,325.7 178.3,319.3 191.2,312.8 223.3,309.6ZM94.8,319.3 81.4,316.3 81.4,331.8 91.6,328.9ZM194.4,444.5 183.6,443.0 182.7,445.2 171.2,448.9 165.9,451.5 150.2,455.7 140.8,464.1 132.4,470.4 113.5,466.8 97.7,465.2 81.5,468.3 81.5,466.8 81.4,466.8 81.4,492.7 91.6,492.7 91.6,494.6 94.6,495.6 91.6,500.8 91.6,502.3 90.8,502.3 90.4,503.0 81.5,504.0 81.5,502.3 81.4,502.3 81.4,508.5 155.9,508.5 155.9,495.8 155.5,494.6 155.9,493.9 155.9,492.7 156.8,492.2 159.6,487.2 165.9,485.1 176.4,484.6 186.9,486.2 191.6,483.8 197.6,479.8 198.5,481.2 201.6,482.0 200.9,484.8 204.0,489.5 199.8,495.9 202.7,498.8 212.1,500.9 212.1,507.2 203.0,507.2 203.9,508.5 326.0,508.5 319.6,492.7 310.0,476.6 300.4,467.0 287.5,460.6 274.7,454.1 281.1,441.3 290.7,431.7 306.8,422.0 319.6,412.4 306.8,409.2 293.9,412.4 287.5,422.0 274.7,434.9 255.4,428.5 242.6,418.8 226.5,418.8 210.5,428.5ZM124.0,488.8 127.0,488.5 127.0,487.9 143.0,486.3 143.0,491.1 127.0,491.1 127.0,490.4 126.1,490.4ZM225.8,499.8 225.6,499.1 224.9,499.1 223.3,495.9 224.9,495.6 224.7,494.6 231.2,494.6 232.9,494.3 232.9,494.6 234.2,494.6 232.9,495.3 232.9,499.1 226.9,499.1ZM145.0,501.9 155.5,507.2 97.7,507.2 97.7,499.8 108.2,498.2 124.0,497.2 134.5,498.8ZM204.8,476.2 207.4,474.1 209.5,476.2 206.9,477.8ZM332.5,393.1 338.9,402.8 355.0,406.0 364.6,412.4 380.7,415.6 383.9,409.2 387.1,396.3 380.7,383.5 364.6,377.1 351.7,369.0 332.5,367.4 306.8,370.6 287.5,377.1 290.7,383.5 306.8,386.7ZM450.7,415.7 435.2,418.8 419.2,425.2 399.9,428.5 399.9,444.5 409.6,460.6 419.2,479.8 412.8,492.7 419.1,508.5 450.7,508.5ZM345.5,508.5 351.7,499.1 345.3,486.3 326.1,489.5 329.2,508.5ZM403.1,309.6 421.9,314.3 450.7,312.9 450.7,303.2 390.3,303.2ZM163.9,440.0 167.1,438.1 162.3,428.5 152.6,434.9 156.7,440.0ZM88.4,402.8 81.4,402.8 81.4,409.2 90.0,409.2Z" fill="#fce0d0" fill-rule="evenodd" stroke="#fce0d0" stroke-width="0.6" stroke-linejoin="round"/>
<path d="M165.9,485.1 159.6,487.2 156.8,492.2 155.9,492.7 155.9,493.9 155.5,494.6 155.9,495.8 155.9,508.5 203.9,508.5 203.0,507.2 212.1,507.2 212.1,500.9 202.7,498.8 199.8,495.9 204.0,489.5 200.9,484.8 201.6,482.0 198.5,481.2 197.6,479.8 191.6,483.8 186.9,486.2 176.4,484.6ZM127.0,487.9 127.0,488.5 124.0,488.8 126.1,490.4 127.0,490.4 127.0,491.1 143.0,491.1 143.0,486.3ZM90.8,502.3 91.6,502.3 91.6,500.8 94.6,495.6 91.6,494.6 91.6,492.7 81.4,492.7 81.4,502.3 81.5,502.3 81.5,504.0 90.4,503.0ZM234.2,494.6 232.9,494.6 232.9,494.3 231.2,494.6 224.7,494.6 224.9,495.6 223.3,495.9 224.9,499.1 225.6,499.1 225.8,499.8 226.9,499.1 232.9,499.1 232.9,495.3ZM419.2,314.5 428.8,322.5 450.7,324.0 450.7,312.9ZM108.2,498.2 97.7,499.8 97.7,507.2 155.5,507.2 145.0,501.9 134.5,498.8 124.0,497.2ZM209.5,476.2 207.4,474.1 204.8,476.2 206.9,477.8Z" fill="#f8bb9e" fill-rule="evenodd" stroke="#f8bb9e" stroke-width="0.6" stroke-linejoin="round"/>
<g fill="#666666" stroke="#ffffff" stroke-width="0.35" stroke-opacity="0.7"><circle cx="175.6" cy="401.4" r="2.6"/><circle cx="182.0" cy="401.0" r="2.6"/><circle cx="187.9" cy="395.0" r="2.6"/><circle cx="194.3" cy="392.1" r="2.6"/><circle cx="200.7" cy="389.1" r="2.6"/><circle cx="207.0" cy="388.7" r="2.6"/><circle cx="213.0" cy="382.6" r="2.6"/><circle cx="219.3" cy="382.6" r="2.6"/><circle cx="225.7" cy="382.3" r="2.6"/><circle cx="231.6" cy="376.4" r="2.6"/><circle cx="238.0" cy="375.9" r="2.6"/><circle cx="244.4" cy="375.9" r="2.6"/><circle cx="250.7" cy="375.9" r="2.6"/><circle cx="257.1" cy="375.9" r="2.6"/><circle cx="175.6" cy="407.8" r="2.6"/><circle cx="175.6" cy="413.7" r="2.6"/><circle cx="263.2" cy="375.9" r="2.6"/><circle cx="269.5" cy="375.9" r="2.6"/><circle cx="275.0" cy="370.2" r="2.6"/><circle cx="281.6" cy="370.2" r="2.6"/><circle cx="288.0" cy="369.8" r="2.6"/><circle cx="294.6" cy="370.2" r="2.6"/><circle cx="300.5" cy="376.1" r="2.6"/><circle cx="306.9" cy="376.4" r="2.6"/><circle cx="312.8" cy="382.3" r="2.6"/><circle cx="319.4" cy="382.6" r="2.6"/><circle cx="325.4" cy="388.5" r="2.6"/><circle cx="331.9" cy="388.7" r="2.6"/><circle cx="332.2" cy="395.3" r="2.6"/><circle cx="338.3" cy="401.4" r="2.6"/><circle cx="338.3" cy="407.8" r="2.6"/><circle cx="338.3" cy="413.7" r="2.6"/><circle cx="175.6" cy="414.0" r="2.6"/><circle cx="178.6" cy="420.0" r="2.6"/><circle cx="180.7" cy="426.4" r="2.6"/><circle cx="182.4" cy="432.7" r="2.6"/><circle cx="184.9" cy="438.7" r="2.6"/><circle cx="187.9" cy="442.1" r="2.6"/><circle cx="190.9" cy="444.6" r="2.6"/><circle cx="194.3" cy="448.0" r="2.6"/><circle cx="197.7" cy="451.0" r="2.6"/><circle cx="201.1" cy="453.5" r="2.6"/><circle cx="207.0" cy="454.8" r="2.6"/><circle cx="213.4" cy="455.6" r="2.6"/><circle cx="219.3" cy="455.6" r="2.6"/><circle cx="225.7" cy="455.6" r="2.6"/><circle cx="232.1" cy="455.6" r="2.6"/><circle cx="238.0" cy="457.3" r="2.6"/><circle cx="244.4" cy="451.8" r="2.6"/><circle cx="250.7" cy="451.4" r="2.6"/><circle cx="257.1" cy="451.4" r="2.6"/><circle cx="263.2" cy="457.3" r="2.6"/><circle cx="269.1" cy="457.8" r="2.6"/><circle cx="275.5" cy="459.9" r="2.6"/><circle cx="278.9" cy="457.3" r="2.6"/><circle cx="281.8" cy="454.8" r="2.6"/><circle cx="288.2" cy="451.8" r="2.6"/><circle cx="294.6" cy="451.4" r="2.6"/><circle cx="300.5" cy="445.5" r="2.6"/><circle cx="306.9" cy="445.5" r="2.6"/><circle cx="313.2" cy="445.3" r="2.6"/><circle cx="319.6" cy="439.1" r="2.6"/><circle cx="325.6" cy="432.7" r="2.6"/><circle cx="331.9" cy="426.8" r="2.6"/><circle cx="332.3" cy="420.0" r="2.6"/></g>
<path d="M101.2,404.9 L103.6,403.5 L109.0,401.4 L114.4,399.2 L119.8,398.1 L123.0,395.4 L127.4,393.3 L132.2,390.6 L132.8,386.3 L132.8,387.0 L129.5,387.6 L126.3,388.6 L123.0,388.1 L119.8,387.6 L116.6,388.1 L113.9,387.6 L113.3,384.3 L110.1,383.0 L105.8,382.7 L101.4,381.6 L98.2,380.0 L98.7,377.8 L96.6,375.7 L99.3,373.0 L103.6,370.3 L109.0,368.7 L114.4,367.6 L117.6,367.0 L119.3,364.9 L118.7,362.7 L114.4,362.7 L110.1,363.3 L103.6,363.8 L98.2,363.3 L92.8,361.1 L88.5,358.9 L97.1,357.9 L103.6,356.2 L109.0,357.3 L114.9,357.1 L111.2,355.2 L107.9,353.5 L103.6,351.4 L98.2,349.2 L93.9,348.1 L93.9,346.5 L98.2,344.9 L103.6,344.9 L107.4,343.8 L109.0,342.2 L111.2,340.0 L114.4,338.7 L118.7,337.9 L123.0,337.3 L127.4,336.8 L131.7,336.3 L136.0,335.2 L140.3,335.7 L144.6,336.6 L146.8,337.3 L152.2,337.3 L157.6,338.1 L164.1,338.7 L168.4,339.0 L173.8,339.5 L179.2,340.0 L184.6,340.6 L190.0,340.6 L195.4,341.3 L205.8,342.7 L211.2,343.8 L216.6,345.2 L219.8,344.9 L223.1,343.3 L227.4,342.2 L232.8,342.7 L238.2,341.7 L243.6,340.6 L247.9,339.8 L250.1,341.7 L252.2,341.1 L254.4,339.2 L259.4,340.7 L263.8,342.9 L268.2,340.7 L270.8,342.9 L277.0,342.1 L281.4,342.5 L285.8,343.4 L290.2,344.3 L294.6,344.7 L299.0,345.1 L303.4,346.0 L307.8,347.3 L309.5,348.7 L307.8,350.0 L312.2,349.5 L316.6,349.1 L320.0,350.4 L324.6,349.9 L329.3,349.2 L331.6,350.4 L333.9,351.3 L336.2,350.8 L338.5,349.9 L336.2,348.5 L334.4,348.1 L335.3,347.1 L338.5,346.2 L343.1,345.8 L346.4,346.0 L348.7,346.7 L351.5,348.5 L353.3,349.7 L357.0,349.2 L361.7,349.9 L365.4,351.1 L370.9,350.4 L376.9,350.4 L377.4,348.1 L377.7,348.1 L382.0,347.2 L387.0,347.5 L387.6,350.6 L387.3,352.7 L389.4,349.3 L393.1,348.1 L394.4,345.6 L391.3,343.8 L388.2,342.5 L385.7,340.7 L386.4,337.6 L388.2,335.1 L391.9,333.3 L395.6,333.6 L399.3,335.7 L403.0,338.2 L406.1,340.7 L403.0,341.9 L404.3,342.5 L409.2,343.2 L410.4,346.9 L414.1,344.7 L416.6,344.4 L419.1,346.2 L420.3,349.3 L422.8,351.2 L425.0,351.8 L426.6,350.5 L429.6,347.4 L430.9,343.7 L430.3,341.6 M448.2,350.5 L445.1,352.1 L438.9,353.6 L432.7,354.9 L429.6,355.5 L427.8,357.3 L424.7,361.0 L420.4,364.1 L414.2,365.4 L410.5,366.6 L409.3,368.4 L405.6,370.3 L405.2,370.4 L400.6,372.7 L396.9,375.5 L394.1,379.2 L392.7,382.9 L392.7,386.6 L397.8,387.0 L399.6,388.0 L401.5,391.2 L402.9,394.5 L408.0,394.0 L411.7,394.0 L417.2,395.8 L421.9,398.2 L426.5,399.5 L433.0,401.4 L437.6,401.9 L444.5,402.3 L445.0,405.1 L445.9,408.8 L446.4,411.4 L445.0,412.0 L448.7,415.7 M448.8,343.7 L446.3,345.6 L445.7,348.7 L448.2,349.9 M101.2,404.9 L105.2,405.7 L110.1,404.1 L116.6,401.4 L122.0,400.8 L127.4,399.8 L129.5,397.6 L133.8,396.0 L137.1,394.4 L140.9,392.2 L144.6,391.1 L147.3,389.2 L149.0,387.7 L147.1,385.9 L150.0,384.4 L151.1,383.2 L155.4,380.0 L157.6,378.4 L161.9,377.8 L162.5,378.9 L157.6,380.5 L156.0,382.7 L156.5,385.9 L159.8,385.4 L164.1,384.3 L168.4,383.2 L171.6,382.2 L172.7,379.5 L174.9,378.9 L179.2,380.0 L184.6,381.6 L190.0,382.2 L195.4,382.7 L200.8,383.8 L195.0,382.2 L200.4,383.2 L205.0,384.0 L209.6,386.3 L214.3,388.6 L220.7,390.0 L229.1,390.0 L231.4,393.3 L234.6,395.1 L237.4,397.9 L238.3,400.7 L242.0,402.0 L244.8,404.4 L245.7,407.1 L249.0,409.0 L250.8,412.2 L254.1,413.6 L255.9,416.4 L257.3,418.7 L260.6,421.0 L262.4,421.9 L268.9,424.6 L273.2,426.8 L275.4,428.9 L273.2,431.1 L271.0,432.2 L270.5,435.4 L270.8,441.9 L271.0,446.2 L270.5,451.4 L269.2,453.3 L270.3,458.7 L269.7,464.1 L271.9,469.5 L276.2,473.8 L280.5,480.3 L285.9,487.8 L290.2,489.5 L295.6,491.1 L298.9,493.2 L302.1,500.8 L305.4,506.7 L305.9,510.5 M253.2,421.4 L258.1,421.9 L264.6,424.1 L271.0,426.8 L275.4,427.8 L277.5,431.1 L278.1,435.4 L275.9,434.3 L274.3,432.2 L271.0,430.0 L265.6,427.8 L260.2,425.7 L254.8,424.1 L252.7,422.4Z M232.8,406.7 L239.4,407.0 L238.1,410.8 L242.5,415.0 L239.7,415.0 L234.6,409.9Z M309.7,510.5 L309.7,506.7 L309.1,500.3 L310.8,499.7 L315.1,501.3 L317.2,506.7 L317.8,510.5 M90.6,381.6 L95.0,380.9 L99.3,381.6 L98.2,383.2 L93.9,383.0Z M144.6,392.2 L149.0,390.9 L154.4,391.7 L154.9,393.3 L151.1,394.9 L146.8,396.0 L145.2,394.4Z M82.0,368.4 L85.5,368.7 M276.3,315.8 L280.9,313.3 L285.9,311.4 L292.0,309.9 L298.2,309.3 L304.1,309.0 L303.8,311.7 L301.9,313.3 L295.1,314.2 L289.0,315.4 L282.8,316.7 L277.8,316.4Z M297.6,319.5 L300.7,316.7 L304.4,314.8 L307.5,314.2 L313.6,315.1 L319.8,316.4 L324.8,317.6 L327.8,317.9 L327.2,314.5 L330.9,313.0 L335.0,312.7 L337.5,315.4 L339.9,316.4 L344.3,316.1 L347.3,317.3 L346.7,319.8 L344.3,320.7 L339.9,321.0 L335.0,321.1 L329.1,320.7 L322.9,321.6 L316.7,322.5 L313.6,322.2 L313.6,320.7 L316.7,320.3 L310.6,319.9 L304.4,319.8Z M267.0,323.2 L273.5,322.5 L280.9,322.2 L289.0,322.9 L295.1,323.5 L301.9,325.3 L298.2,327.5 L293.3,329.6 L289.6,332.1 L285.9,334.9 L280.9,336.1 L275.4,337.2 L270.4,335.8 L263.6,333.4 L267.3,329.0 L271.0,325.3Z M290.2,334.6 L292.8,331.9 L299.0,329.3 L304.3,327.5 L303.1,326.6 L307.5,327.2 L310.6,328.1 L311.8,329.6 L315.5,329.0 L319.8,328.7 L322.9,329.6 L326.0,330.6 L329.1,329.0 L332.2,328.4 L335.0,329.6 L336.9,328.4 L339.9,327.2 L344.3,325.9 L350.4,326.6 L352.9,327.2 L350.4,328.4 L349.2,329.6 L350.1,332.3 L351.9,335.1 L353.3,337.0 L357.0,338.3 L361.7,339.7 L366.3,340.9 L367.2,341.8 L364.0,342.5 L361.7,343.0 L360.3,343.4 L361.7,344.8 L361.2,346.0 L359.4,345.8 L354.7,345.5 L350.1,345.1 L346.4,344.4 L343.1,344.4 L338.5,344.8 L333.9,345.3 L329.3,345.8 L324.6,346.2 L320.0,346.7 L316.6,346.9 L312.2,347.3 L306.0,345.6 L302.5,344.3 L299.0,341.6 L296.3,339.9 L293.7,336.3Z M348.0,303.1 L353.5,302.8 L359.7,303.7 L365.9,305.0 L370.8,306.5 L372.3,308.7 L368.3,308.0 L362.8,306.8 L356.6,306.2 L349.2,306.5 L348.3,304.6Z M376.4,304.3 L379.4,304.0 L384.4,304.6 L388.7,305.6 L389.3,307.4 L387.5,308.7 L383.1,308.7 L379.4,307.4 L377.0,306.2Z M360.3,314.8 L365.9,313.9 L372.0,313.3 L377.6,313.3 L380.1,314.8 L380.1,317.9 L378.2,320.4 L372.0,320.7 L368.3,320.4 L367.1,317.9 L360.9,317.6 L360.3,316.1Z M384.4,320.4 L387.5,318.5 L392.4,317.9 L396.1,318.8 L396.7,320.7 L393.6,321.6 L387.5,321.3Z M360.3,329.6 L364.0,328.4 L365.9,326.6 L369.6,325.0 L375.1,325.3 L383.1,325.9 L381.9,328.4 L383.8,330.3 L384.4,332.7 L381.9,334.6 L378.2,335.8 L373.3,335.5 L369.0,334.0 L364.6,332.1 L360.9,330.9Z M387.5,325.9 L390.6,324.1 L396.7,323.8 L402.9,324.1 L410.3,325.0 L406.0,327.2 L399.8,329.6 L394.3,332.1 L390.6,332.1 L388.1,329.6Z M371.5,343.5 L374.6,341.9 L378.3,340.7 L382.0,341.3 L385.1,342.5 L388.2,344.4 L388.2,345.3 L385.1,345.6 L380.8,345.3 L375.9,344.4 L372.2,343.8Z M386.4,300.1 L392.0,301.6 L399.4,302.2 L396.3,304.0 L398.8,305.9 L405.6,307.1 L413.0,306.9 L419.1,305.9 L423.5,303.7 L425.3,301.9 L432.1,302.2 L432.7,303.4 L427.8,304.0 L423.5,305.0 M422.9,306.2 L420.4,308.7 L421.6,310.8 L414.2,312.1 L414.5,314.2 L426.6,314.2 L438.9,314.2 L449.1,313.9 M383.3,312.4 L389.5,312.5 L396.9,312.7 L405.6,313.6 L408.7,314.8 L409.9,316.7 L414.2,317.6 L426.6,318.2 L438.9,317.8 L449.1,317.3 M383.3,312.4 L383.3,313.3 L389.5,313.9 L397.5,314.8 L400.0,316.7 L401.9,319.8 L408.0,321.3 L420.4,322.2 L432.7,322.5 L449.1,322.2 M449.1,327.8 L447.5,326.6 L445.1,325.3 L441.4,325.3 L436.4,326.6 L432.7,328.4 L430.3,330.3 L427.8,328.4 L429.6,326.6 L428.4,325.3 L421.6,325.6 L415.4,326.6 L413.0,328.4 L411.4,332.1 L413.0,335.2 L413.6,333.9 L414.2,336.6 L417.9,338.2 L423.5,339.4 L429.6,340.4 L435.8,341.0 L442.0,341.6 L449.1,342.0 M429.6,356.1 L432.7,359.2 L438.9,361.6 L448.2,364.7 L448.2,366.9 L440.8,366.0 L435.8,367.2 L431.5,369.1 L429.6,368.4 L425.3,367.8 L427.2,366.0 L428.7,362.3 L429.3,358.6Z M437.6,373.2 L441.3,370.8 L446.9,370.8 L445.0,372.7 L439.4,374.1Z M414.5,505.9 L418.6,504.8 L426.8,504.8 L430.9,505.9 M447.6,505.9 L447.6,502.2 L448.4,500.6" fill="none" stroke="#000" stroke-width="2.2" stroke-linejoin="round" stroke-linecap="round"/>
<path d="M318.6,305.6 L322.9,304.2 L329.1,304.5 L331.5,305.6 L330.6,307.3 L324.1,306.9 L319.2,307.7Z" fill="#000"/>
<path d="M314.3,309.0 L318.6,305.9 L322.9,304.3 L329.1,304.6 L331.5,305.6 L330.3,308.7 L326.0,309.6 L321.0,310.5 L316.1,309.9Z M294.6,335.5 L304.3,335.5 M297.2,339.4 L320.1,339.9 M348.3,303.7 L353.5,305.0 M385.6,309.6 L397.3,309.6 M421.6,306.5 L426.6,307.7 L433.3,309.9" fill="none" stroke="#000" stroke-width="2.6" stroke-linejoin="round" stroke-linecap="round"/>
</g>
<rect x="82.4" y="300.0" width="367.3" height="207.5" fill="none" stroke="#000" stroke-width="1.6"/>
<text x="82.4" y="290.2" font-size="23.3">f)</text>
<line x1="101.4" y1="507.5" x2="101.4" y2="512.8" stroke="#808080" stroke-width="1.1"/>
<text x="101.4" y="531.7" font-size="16.9" fill="#808080" text-anchor="middle">165°W</text>
<line x1="205.1" y1="507.5" x2="205.1" y2="512.8" stroke="#808080" stroke-width="1.1"/>
<text x="205.1" y="531.7" font-size="16.9" fill="#808080" text-anchor="middle">140°W</text>
<line x1="308.9" y1="507.5" x2="308.9" y2="512.8" stroke="#808080" stroke-width="1.1"/>
<text x="308.9" y="531.7" font-size="16.9" fill="#808080" text-anchor="middle">115°W</text>
<line x1="412.6" y1="507.5" x2="412.6" y2="512.8" stroke="#808080" stroke-width="1.1"/>
<text x="412.6" y="531.7" font-size="16.9" fill="#808080" text-anchor="middle">90°W</text>
<line x1="77.1" y1="300.0" x2="82.4" y2="300.0" stroke="#808080" stroke-width="1.1"/>
<text x="71.5" y="306.2" font-size="16.9" fill="#808080" text-anchor="end">80°N</text>
<line x1="77.1" y1="362.1" x2="82.4" y2="362.1" stroke="#808080" stroke-width="1.1"/>
<text x="71.5" y="368.3" font-size="16.9" fill="#808080" text-anchor="end">65°N</text>
<line x1="77.1" y1="424.2" x2="82.4" y2="424.2" stroke="#808080" stroke-width="1.1"/>
<text x="71.5" y="430.4" font-size="16.9" fill="#808080" text-anchor="end">50°N</text>
<line x1="77.1" y1="486.3" x2="82.4" y2="486.3" stroke="#808080" stroke-width="1.1"/>
<text x="71.5" y="492.5" font-size="16.9" fill="#808080" text-anchor="end">35°N</text>
<g clip-path="url(#cp11)">
<rect x="470.5" y="301.1" width="366.8" height="205.2" fill="#fce0d0"/>
<path d="M757.5,383.1 776.7,389.5 795.9,395.8 821.4,402.2 838.3,405.0 838.3,303.2 705.0,303.2 705.0,308.1 690.6,311.0 672.2,312.9 663.0,309.2 653.8,300.9 705.0,300.9 705.0,300.1 470.0,300.1 470.0,341.7 481.0,339.5 497.6,338.6 525.1,334.9 539.9,332.2 552.7,330.3 565.6,329.4 577.6,332.4 586.4,332.5 598.7,331.2 607.9,323.9 596.8,320.2 602.4,318.4 620.7,318.4 626.2,325.7 635.4,327.6 646.5,323.9 653.8,327.6 664.9,325.7 679.6,333.1 690.6,340.4 695.8,342.0 689.1,342.0 693.6,344.7 712.8,354.3 732.0,363.9 748.0,373.5ZM516.0,307.4 510.4,307.4 506.8,300.9 519.6,300.9ZM470.0,347.9 499.6,342.0 470.0,342.0ZM800.9,457.1 793.5,466.3 782.5,479.2 786.2,488.4 800.9,486.6 810.1,475.5 822.9,466.3 810.1,457.1 815.6,449.8 828.5,453.5 828.5,440.0 796.0,440.0 789.5,437.4 776.4,440.0 773.3,440.0 773.3,442.4 782.5,449.8ZM506.8,469.1 488.4,470.9 470.0,471.8 470.0,507.3 510.7,507.3 512.3,497.6 543.5,496.7 587.6,494.8 598.7,492.1 602.4,482.9 598.7,475.5 580.3,473.7 561.9,472.8 543.5,472.8 525.1,470.0ZM629.9,468.2 617.1,466.3 602.4,471.9 604.2,475.5 613.4,477.4 626.2,475.5ZM690.6,475.5 694.3,466.3 675.9,465.4 663.0,470.0 650.1,481.0 635.4,486.6 617.1,492.1 626.2,493.9 644.6,493.9 653.8,488.4 663.0,484.7 681.4,481.0ZM469.5,366.2 469.5,380.8 481.0,379.0 481.0,368.0ZM490.2,397.4 488.4,386.4 473.7,388.2 475.5,399.3Z" fill="#f7f6f6" fill-rule="evenodd" stroke="#f7f6f6" stroke-width="0.6" stroke-linejoin="round"/>
<path d="M558.6,439.2 566.9,439.2 573.9,429.4 587.8,426.7 601.7,422.5 615.6,419.7 625.3,421.1 632.2,423.9 629.4,429.4 622.5,436.4 620.3,440.0 620.4,440.0 618.0,443.4 618.9,450.7 629.9,449.8 635.4,445.2 646.5,440.6 649.5,440.0 652.2,440.0 654.4,439.9 657.2,437.1 648.9,435.0 640.6,432.2 632.2,426.7 637.8,423.9 643.3,421.1 650.3,418.3 655.8,412.8 646.1,408.6 643.3,401.7 635.0,393.3 625.3,389.2 615.6,389.2 608.6,390.6 601.7,393.3 604.4,386.4 612.8,380.8 621.1,376.7 628.1,372.5 625.3,364.2 618.3,362.8 615.6,373.2 605.8,373.9 594.7,375.3 585.0,378.1 573.9,387.8 566.9,393.3 566.9,395.1 565.8,395.8 559.5,405.4 558.8,415.3 558.6,415.6 558.6,417.3 557.9,427.8 558.6,429.3ZM590.6,401.7 586.4,400.3 587.8,394.7 593.3,394.7ZM546.7,408.6 540.3,411.8 543.5,418.2 549.9,421.4 556.3,415.0ZM678.1,414.2 682.2,419.7 687.8,418.3 682.2,410.0 676.7,401.7 673.9,403.1ZM662.8,411.4 658.6,412.8 662.1,414.9 665.6,413.5ZM593.2,464.5 598.7,463.6 595.0,460.8 589.5,462.7Z" fill="#f8bb9e" fill-rule="evenodd" stroke="#f8bb9e" stroke-width="0.6" stroke-linejoin="round"/>
<g fill="#666666" stroke="#ffffff" stroke-width="0.35" stroke-opacity="0.7"><circle cx="563.7" cy="401.4" r="2.6"/><circle cx="570.1" cy="401.0" r="2.6"/><circle cx="576.0" cy="395.0" r="2.6"/><circle cx="582.4" cy="392.1" r="2.6"/><circle cx="588.8" cy="389.1" r="2.6"/><circle cx="595.1" cy="388.7" r="2.6"/><circle cx="601.1" cy="382.6" r="2.6"/><circle cx="607.4" cy="382.6" r="2.6"/><circle cx="613.8" cy="382.3" r="2.6"/><circle cx="619.7" cy="376.4" r="2.6"/><circle cx="626.1" cy="375.9" r="2.6"/><circle cx="632.5" cy="375.9" r="2.6"/><circle cx="638.8" cy="375.9" r="2.6"/><circle cx="645.2" cy="375.9" r="2.6"/><circle cx="563.7" cy="407.8" r="2.6"/><circle cx="563.7" cy="413.7" r="2.6"/><circle cx="651.3" cy="375.9" r="2.6"/><circle cx="657.6" cy="375.9" r="2.6"/><circle cx="663.1" cy="370.2" r="2.6"/><circle cx="669.7" cy="370.2" r="2.6"/><circle cx="676.1" cy="369.8" r="2.6"/><circle cx="682.7" cy="370.2" r="2.6"/><circle cx="688.6" cy="376.1" r="2.6"/><circle cx="695.0" cy="376.4" r="2.6"/><circle cx="700.9" cy="382.3" r="2.6"/><circle cx="707.5" cy="382.6" r="2.6"/><circle cx="713.5" cy="388.5" r="2.6"/><circle cx="720.0" cy="388.7" r="2.6"/><circle cx="720.3" cy="395.3" r="2.6"/><circle cx="726.4" cy="401.4" r="2.6"/><circle cx="726.4" cy="407.8" r="2.6"/><circle cx="726.4" cy="413.7" r="2.6"/><circle cx="563.7" cy="414.0" r="2.6"/><circle cx="566.7" cy="420.0" r="2.6"/><circle cx="568.8" cy="426.4" r="2.6"/><circle cx="570.5" cy="432.7" r="2.6"/><circle cx="573.0" cy="438.7" r="2.6"/><circle cx="576.0" cy="442.1" r="2.6"/><circle cx="579.0" cy="444.6" r="2.6"/><circle cx="582.4" cy="448.0" r="2.6"/><circle cx="585.8" cy="451.0" r="2.6"/><circle cx="589.2" cy="453.5" r="2.6"/><circle cx="595.1" cy="454.8" r="2.6"/><circle cx="601.5" cy="455.6" r="2.6"/><circle cx="607.4" cy="455.6" r="2.6"/><circle cx="613.8" cy="455.6" r="2.6"/><circle cx="620.2" cy="455.6" r="2.6"/><circle cx="626.1" cy="457.3" r="2.6"/><circle cx="632.5" cy="451.8" r="2.6"/><circle cx="638.8" cy="451.4" r="2.6"/><circle cx="645.2" cy="451.4" r="2.6"/><circle cx="651.3" cy="457.3" r="2.6"/><circle cx="657.2" cy="457.8" r="2.6"/><circle cx="663.6" cy="459.9" r="2.6"/><circle cx="667.0" cy="457.3" r="2.6"/><circle cx="669.9" cy="454.8" r="2.6"/><circle cx="676.3" cy="451.8" r="2.6"/><circle cx="682.7" cy="451.4" r="2.6"/><circle cx="688.6" cy="445.5" r="2.6"/><circle cx="695.0" cy="445.5" r="2.6"/><circle cx="701.3" cy="445.3" r="2.6"/><circle cx="707.7" cy="439.1" r="2.6"/><circle cx="713.7" cy="432.7" r="2.6"/><circle cx="720.0" cy="426.8" r="2.6"/><circle cx="720.4" cy="420.0" r="2.6"/></g>
<path d="M489.3,404.9 L491.7,403.5 L497.1,401.4 L502.5,399.2 L507.9,398.1 L511.1,395.4 L515.5,393.3 L520.3,390.6 L520.9,386.3 L520.9,387.0 L517.6,387.6 L514.4,388.6 L511.1,388.1 L507.9,387.6 L504.7,388.1 L502.0,387.6 L501.4,384.3 L498.2,383.0 L493.9,382.7 L489.5,381.6 L486.3,380.0 L486.8,377.8 L484.7,375.7 L487.4,373.0 L491.7,370.3 L497.1,368.7 L502.5,367.6 L505.7,367.0 L507.4,364.9 L506.8,362.7 L502.5,362.7 L498.2,363.3 L491.7,363.8 L486.3,363.3 L480.9,361.1 L476.6,358.9 L485.2,357.9 L491.7,356.2 L497.1,357.3 L503.0,357.1 L499.3,355.2 L496.0,353.5 L491.7,351.4 L486.3,349.2 L482.0,348.1 L482.0,346.5 L486.3,344.9 L491.7,344.9 L495.5,343.8 L497.1,342.2 L499.3,340.0 L502.5,338.7 L506.8,337.9 L511.1,337.3 L515.5,336.8 L519.8,336.3 L524.1,335.2 L528.4,335.7 L532.7,336.6 L534.9,337.3 L540.3,337.3 L545.7,338.1 L552.2,338.7 L556.5,339.0 L561.9,339.5 L567.3,340.0 L572.7,340.6 L578.1,340.6 L583.5,341.3 L593.9,342.7 L599.3,343.8 L604.7,345.2 L607.9,344.9 L611.2,343.3 L615.5,342.2 L620.9,342.7 L626.3,341.7 L631.7,340.6 L636.0,339.8 L638.2,341.7 L640.3,341.1 L642.5,339.2 L647.5,340.7 L651.9,342.9 L656.3,340.7 L658.9,342.9 L665.1,342.1 L669.5,342.5 L673.9,343.4 L678.3,344.3 L682.7,344.7 L687.1,345.1 L691.5,346.0 L695.9,347.3 L697.6,348.7 L695.9,350.0 L700.3,349.5 L704.7,349.1 L708.1,350.4 L712.7,349.9 L717.4,349.2 L719.7,350.4 L722.0,351.3 L724.3,350.8 L726.6,349.9 L724.3,348.5 L722.5,348.1 L723.4,347.1 L726.6,346.2 L731.2,345.8 L734.5,346.0 L736.8,346.7 L739.6,348.5 L741.4,349.7 L745.1,349.2 L749.8,349.9 L753.5,351.1 L759.0,350.4 L765.0,350.4 L765.5,348.1 L765.8,348.1 L770.1,347.2 L775.1,347.5 L775.7,350.6 L775.4,352.7 L777.5,349.3 L781.2,348.1 L782.5,345.6 L779.4,343.8 L776.3,342.5 L773.8,340.7 L774.5,337.6 L776.3,335.1 L780.0,333.3 L783.7,333.6 L787.4,335.7 L791.1,338.2 L794.2,340.7 L791.1,341.9 L792.4,342.5 L797.3,343.2 L798.5,346.9 L802.2,344.7 L804.7,344.4 L807.2,346.2 L808.4,349.3 L810.9,351.2 L813.1,351.8 L814.7,350.5 L817.7,347.4 L819.0,343.7 L818.4,341.6 M836.3,350.5 L833.2,352.1 L827.0,353.6 L820.8,354.9 L817.7,355.5 L815.9,357.3 L812.8,361.0 L808.5,364.1 L802.3,365.4 L798.6,366.6 L797.4,368.4 L793.7,370.3 L793.3,370.4 L788.7,372.7 L785.0,375.5 L782.2,379.2 L780.8,382.9 L780.8,386.6 L785.9,387.0 L787.7,388.0 L789.6,391.2 L791.0,394.5 L796.1,394.0 L799.8,394.0 L805.3,395.8 L810.0,398.2 L814.6,399.5 L821.1,401.4 L825.7,401.9 L832.6,402.3 L833.1,405.1 L834.0,408.8 L834.5,411.4 L833.1,412.0 L836.8,415.7 M836.9,343.7 L834.4,345.6 L833.8,348.7 L836.3,349.9 M489.3,404.9 L493.3,405.7 L498.2,404.1 L504.7,401.4 L510.1,400.8 L515.5,399.8 L517.6,397.6 L521.9,396.0 L525.2,394.4 L529.0,392.2 L532.7,391.1 L535.4,389.2 L537.1,387.7 L535.2,385.9 L538.1,384.4 L539.2,383.2 L543.5,380.0 L545.7,378.4 L550.0,377.8 L550.6,378.9 L545.7,380.5 L544.1,382.7 L544.6,385.9 L547.9,385.4 L552.2,384.3 L556.5,383.2 L559.7,382.2 L560.8,379.5 L563.0,378.9 L567.3,380.0 L572.7,381.6 L578.1,382.2 L583.5,382.7 L588.9,383.8 L583.1,382.2 L588.5,383.2 L593.1,384.0 L597.7,386.3 L602.4,388.6 L608.8,390.0 L617.2,390.0 L619.5,393.3 L622.7,395.1 L625.5,397.9 L626.4,400.7 L630.1,402.0 L632.9,404.4 L633.8,407.1 L637.1,409.0 L638.9,412.2 L642.2,413.6 L644.0,416.4 L645.4,418.7 L648.7,421.0 L650.5,421.9 L657.0,424.6 L661.3,426.8 L663.5,428.9 L661.3,431.1 L659.1,432.2 L658.6,435.4 L658.9,441.9 L659.1,446.2 L658.6,451.4 L657.3,453.3 L658.4,458.7 L657.8,464.1 L660.0,469.5 L664.3,473.8 L668.6,480.3 L674.0,487.8 L678.3,489.5 L683.7,491.1 L687.0,493.2 L690.2,500.8 L693.5,506.7 L694.0,510.5 M641.3,421.4 L646.2,421.9 L652.7,424.1 L659.1,426.8 L663.5,427.8 L665.6,431.1 L666.2,435.4 L664.0,434.3 L662.4,432.2 L659.1,430.0 L653.7,427.8 L648.3,425.7 L642.9,424.1 L640.8,422.4Z M620.9,406.7 L627.5,407.0 L626.2,410.8 L630.6,415.0 L627.8,415.0 L622.7,409.9Z M697.8,510.5 L697.8,506.7 L697.2,500.3 L698.9,499.7 L703.2,501.3 L705.3,506.7 L705.9,510.5 M478.7,381.6 L483.1,380.9 L487.4,381.6 L486.3,383.2 L482.0,383.0Z M532.7,392.2 L537.1,390.9 L542.5,391.7 L543.0,393.3 L539.2,394.9 L534.9,396.0 L533.3,394.4Z M470.1,368.4 L473.6,368.7 M664.4,315.8 L669.0,313.3 L674.0,311.4 L680.1,309.9 L686.3,309.3 L692.2,309.0 L691.9,311.7 L690.0,313.3 L683.2,314.2 L677.1,315.4 L670.9,316.7 L665.9,316.4Z M685.7,319.5 L688.8,316.7 L692.5,314.8 L695.6,314.2 L701.7,315.1 L707.9,316.4 L712.9,317.6 L715.9,317.9 L715.3,314.5 L719.0,313.0 L723.1,312.7 L725.6,315.4 L728.0,316.4 L732.4,316.1 L735.4,317.3 L734.8,319.8 L732.4,320.7 L728.0,321.0 L723.1,321.1 L717.2,320.7 L711.0,321.6 L704.8,322.5 L701.7,322.2 L701.7,320.7 L704.8,320.3 L698.7,319.9 L692.5,319.8Z M655.1,323.2 L661.6,322.5 L669.0,322.2 L677.1,322.9 L683.2,323.5 L690.0,325.3 L686.3,327.5 L681.4,329.6 L677.7,332.1 L674.0,334.9 L669.0,336.1 L663.5,337.2 L658.5,335.8 L651.7,333.4 L655.4,329.0 L659.1,325.3Z M678.3,334.6 L680.9,331.9 L687.1,329.3 L692.4,327.5 L691.2,326.6 L695.6,327.2 L698.7,328.1 L699.9,329.6 L703.6,329.0 L707.9,328.7 L711.0,329.6 L714.1,330.6 L717.2,329.0 L720.3,328.4 L723.1,329.6 L725.0,328.4 L728.0,327.2 L732.4,325.9 L738.5,326.6 L741.0,327.2 L738.5,328.4 L737.3,329.6 L738.2,332.3 L740.0,335.1 L741.4,337.0 L745.1,338.3 L749.8,339.7 L754.4,340.9 L755.3,341.8 L752.1,342.5 L749.8,343.0 L748.4,343.4 L749.8,344.8 L749.3,346.0 L747.5,345.8 L742.8,345.5 L738.2,345.1 L734.5,344.4 L731.2,344.4 L726.6,344.8 L722.0,345.3 L717.4,345.8 L712.7,346.2 L708.1,346.7 L704.7,346.9 L700.3,347.3 L694.1,345.6 L690.6,344.3 L687.1,341.6 L684.4,339.9 L681.8,336.3Z M736.1,303.1 L741.6,302.8 L747.8,303.7 L754.0,305.0 L758.9,306.5 L760.4,308.7 L756.4,308.0 L750.9,306.8 L744.7,306.2 L737.3,306.5 L736.4,304.6Z M764.5,304.3 L767.5,304.0 L772.5,304.6 L776.8,305.6 L777.4,307.4 L775.6,308.7 L771.2,308.7 L767.5,307.4 L765.1,306.2Z M748.4,314.8 L754.0,313.9 L760.1,313.3 L765.7,313.3 L768.2,314.8 L768.2,317.9 L766.3,320.4 L760.1,320.7 L756.4,320.4 L755.2,317.9 L749.0,317.6 L748.4,316.1Z M772.5,320.4 L775.6,318.5 L780.5,317.9 L784.2,318.8 L784.8,320.7 L781.7,321.6 L775.6,321.3Z M748.4,329.6 L752.1,328.4 L754.0,326.6 L757.7,325.0 L763.2,325.3 L771.2,325.9 L770.0,328.4 L771.9,330.3 L772.5,332.7 L770.0,334.6 L766.3,335.8 L761.4,335.5 L757.1,334.0 L752.7,332.1 L749.0,330.9Z M775.6,325.9 L778.7,324.1 L784.8,323.8 L791.0,324.1 L798.4,325.0 L794.1,327.2 L787.9,329.6 L782.4,332.1 L778.7,332.1 L776.2,329.6Z M759.6,343.5 L762.7,341.9 L766.4,340.7 L770.1,341.3 L773.2,342.5 L776.3,344.4 L776.3,345.3 L773.2,345.6 L768.9,345.3 L764.0,344.4 L760.3,343.8Z M774.5,300.1 L780.1,301.6 L787.5,302.2 L784.4,304.0 L786.9,305.9 L793.7,307.1 L801.1,306.9 L807.2,305.9 L811.6,303.7 L813.4,301.9 L820.2,302.2 L820.8,303.4 L815.9,304.0 L811.6,305.0 M811.0,306.2 L808.5,308.7 L809.7,310.8 L802.3,312.1 L802.6,314.2 L814.7,314.2 L827.0,314.2 L837.2,313.9 M771.4,312.4 L777.6,312.5 L785.0,312.7 L793.7,313.6 L796.8,314.8 L798.0,316.7 L802.3,317.6 L814.7,318.2 L827.0,317.8 L837.2,317.3 M771.4,312.4 L771.4,313.3 L777.6,313.9 L785.6,314.8 L788.1,316.7 L790.0,319.8 L796.1,321.3 L808.5,322.2 L820.8,322.5 L837.2,322.2 M837.2,327.8 L835.6,326.6 L833.2,325.3 L829.5,325.3 L824.5,326.6 L820.8,328.4 L818.4,330.3 L815.9,328.4 L817.7,326.6 L816.5,325.3 L809.7,325.6 L803.5,326.6 L801.1,328.4 L799.5,332.1 L801.1,335.2 L801.7,333.9 L802.3,336.6 L806.0,338.2 L811.6,339.4 L817.7,340.4 L823.9,341.0 L830.1,341.6 L837.2,342.0 M817.7,356.1 L820.8,359.2 L827.0,361.6 L836.3,364.7 L836.3,366.9 L828.9,366.0 L823.9,367.2 L819.6,369.1 L817.7,368.4 L813.4,367.8 L815.3,366.0 L816.8,362.3 L817.4,358.6Z M825.7,373.2 L829.4,370.8 L835.0,370.8 L833.1,372.7 L827.5,374.1Z M802.6,505.9 L806.7,504.8 L814.9,504.8 L819.0,505.9 M835.7,505.9 L835.7,502.2 L836.5,500.6" fill="none" stroke="#000" stroke-width="2.2" stroke-linejoin="round" stroke-linecap="round"/>
<path d="M706.7,305.6 L711.0,304.2 L717.2,304.5 L719.6,305.6 L718.7,307.3 L712.2,306.9 L707.3,307.7Z" fill="#000"/>
<path d="M702.4,309.0 L706.7,305.9 L711.0,304.3 L717.2,304.6 L719.6,305.6 L718.4,308.7 L714.1,309.6 L709.1,310.5 L704.2,309.9Z M682.7,335.5 L692.4,335.5 M685.3,339.4 L708.2,339.9 M736.4,303.7 L741.6,305.0 M773.7,309.6 L785.4,309.6 M809.7,306.5 L814.7,307.7 L821.4,309.9" fill="none" stroke="#000" stroke-width="2.6" stroke-linejoin="round" stroke-linecap="round"/>
</g>
<rect x="470.5" y="301.1" width="366.8" height="205.2" fill="none" stroke="#000" stroke-width="1.6"/>
<text x="470.5" y="290.2" font-size="23.3">g)</text>
<line x1="489.5" y1="506.3" x2="489.5" y2="511.6" stroke="#808080" stroke-width="1.1"/>
<text x="489.5" y="530.5" font-size="16.9" fill="#808080" text-anchor="middle">165°W</text>
<line x1="593.2" y1="506.3" x2="593.2" y2="511.6" stroke="#808080" stroke-width="1.1"/>
<text x="593.2" y="530.5" font-size="16.9" fill="#808080" text-anchor="middle">140°W</text>
<line x1="697.0" y1="506.3" x2="697.0" y2="511.6" stroke="#808080" stroke-width="1.1"/>
<text x="697.0" y="530.5" font-size="16.9" fill="#808080" text-anchor="middle">115°W</text>
<line x1="800.7" y1="506.3" x2="800.7" y2="511.6" stroke="#808080" stroke-width="1.1"/>
<text x="800.7" y="530.5" font-size="16.9" fill="#808080" text-anchor="middle">90°W</text>
<g clip-path="url(#cp12)">
<rect x="857.8" y="301.1" width="367.0" height="205.2" fill="#fce0d0"/>
<path d="M869.8,450.2 882.6,434.2 895.3,421.4 914.5,408.6 916.3,405.0 877.4,405.0 884.6,399.3 893.8,386.4 903.0,377.2 930.5,373.5 956.3,375.4 959.9,371.7 939.7,368.0 917.7,366.2 897.4,362.5 875.4,347.8 880.9,344.1 879.1,336.8 868.0,331.2 857.0,329.6 857.0,405.0 857.0,453.4ZM1160.8,405.0 1158.4,405.0 1160.5,405.4ZM1176.5,488.5 1144.5,485.3 1122.2,491.7 1122.2,507.3 1225.8,507.3 1225.8,485.9 1208.4,491.7ZM901.7,491.7 904.9,504.5 920.9,501.3 917.7,488.5ZM930.5,464.5 914.5,466.1 917.7,470.9 932.1,470.9ZM890.5,483.7 888.9,477.3 873.0,478.9 876.2,483.7ZM915.8,312.9 925.0,307.4 917.7,301.8 857.0,301.8 857.0,317.5 884.6,317.5 912.1,320.2ZM1044.5,311.0 1053.7,309.2 1050.0,303.7 1040.8,305.5ZM1077.6,307.4 1114.4,304.6 1151.1,304.6 1187.9,309.2 1206.3,312.9 1225.8,311.1 1225.8,300.9 1066.6,300.9ZM1022.4,342.3 1016.9,337.7 1004.1,333.1 985.7,330.3 959.9,331.2 956.3,336.8 952.6,344.1 967.3,347.8 976.5,353.3 994.9,353.3 1013.2,357.0 1031.6,355.1 1033.5,347.8ZM936.0,355.1 939.7,349.6 930.5,344.1 917.7,342.3 917.7,347.8 923.2,353.3ZM1151.1,402.9 1165.8,391.9 1151.1,380.9 1132.7,379.0 1136.4,395.6ZM1206.3,384.6 1225.8,386.3 1225.8,369.9 1206.3,371.7 1187.9,373.5ZM1114.4,355.1 1125.4,357.0 1129.1,351.5 1114.4,349.6Z" fill="#f7f6f6" fill-rule="evenodd" stroke="#f7f6f6" stroke-width="0.6" stroke-linejoin="round"/>
<path d="M962.4,478.9 972.0,485.3 991.2,491.7 997.4,507.3 1017.2,507.3 1029.5,498.1 1042.3,491.7 1051.9,498.1 1064.7,491.7 1074.3,478.9 1080.6,462.9 1096.6,459.7 1106.2,453.4 1109.4,443.8 1112.6,434.2 1125.4,424.6 1115.8,415.0 1106.2,408.6 1093.4,421.4 1080.6,424.6 1061.5,415.0 1048.7,415.0 1035.9,415.0 1023.1,415.0 1010.4,408.6 1000.8,405.4 991.2,408.6 978.4,411.8 965.6,411.8 959.2,415.0 962.4,427.8 968.8,434.2 978.4,440.6 984.8,450.2 991.2,456.5 978.4,462.9 968.8,472.5ZM1026.3,464.5 1031.1,469.3 1019.9,470.9 1016.7,466.1ZM1144.5,453.4 1150.9,450.2 1138.2,440.6 1125.4,453.4 1131.8,456.5ZM1115.8,469.3 1112.6,459.7 1106.2,466.1 1109.4,472.5ZM1136.6,474.1 1141.3,472.5 1139.7,466.1 1135.0,469.3ZM965.6,459.7 967.2,467.7 972.0,466.1 970.4,458.1ZM1083.1,369.9 1080.3,364.3 1075.8,365.3 1076.7,369.9ZM1105.2,400.2 1112.5,401.1 1114.4,395.6 1107.0,393.8Z" fill="#f8bb9e" fill-rule="evenodd" stroke="#f8bb9e" stroke-width="0.6" stroke-linejoin="round"/>
<path d="M1026.3,464.5 1016.7,466.1 1019.9,470.9 1031.1,469.3Z" fill="#e8896c" fill-rule="evenodd" stroke="#e8896c" stroke-width="0.6" stroke-linejoin="round"/>
<g fill="#666666" stroke="#ffffff" stroke-width="0.35" stroke-opacity="0.7"><circle cx="951.0" cy="401.4" r="2.6"/><circle cx="957.4" cy="401.0" r="2.6"/><circle cx="963.3" cy="395.0" r="2.6"/><circle cx="969.7" cy="392.1" r="2.6"/><circle cx="976.1" cy="389.1" r="2.6"/><circle cx="982.4" cy="388.7" r="2.6"/><circle cx="988.4" cy="382.6" r="2.6"/><circle cx="994.7" cy="382.6" r="2.6"/><circle cx="1001.1" cy="382.3" r="2.6"/><circle cx="1007.0" cy="376.4" r="2.6"/><circle cx="1013.4" cy="375.9" r="2.6"/><circle cx="1019.8" cy="375.9" r="2.6"/><circle cx="1026.1" cy="375.9" r="2.6"/><circle cx="1032.5" cy="375.9" r="2.6"/><circle cx="951.0" cy="407.8" r="2.6"/><circle cx="951.0" cy="413.7" r="2.6"/><circle cx="1038.6" cy="375.9" r="2.6"/><circle cx="1044.9" cy="375.9" r="2.6"/><circle cx="1050.4" cy="370.2" r="2.6"/><circle cx="1057.0" cy="370.2" r="2.6"/><circle cx="1063.4" cy="369.8" r="2.6"/><circle cx="1070.0" cy="370.2" r="2.6"/><circle cx="1075.9" cy="376.1" r="2.6"/><circle cx="1082.3" cy="376.4" r="2.6"/><circle cx="1088.2" cy="382.3" r="2.6"/><circle cx="1094.8" cy="382.6" r="2.6"/><circle cx="1100.8" cy="388.5" r="2.6"/><circle cx="1107.3" cy="388.7" r="2.6"/><circle cx="1107.6" cy="395.3" r="2.6"/><circle cx="1113.7" cy="401.4" r="2.6"/><circle cx="1113.7" cy="407.8" r="2.6"/><circle cx="1113.7" cy="413.7" r="2.6"/><circle cx="951.0" cy="414.0" r="2.6"/><circle cx="954.0" cy="420.0" r="2.6"/><circle cx="956.1" cy="426.4" r="2.6"/><circle cx="957.8" cy="432.7" r="2.6"/><circle cx="960.3" cy="438.7" r="2.6"/><circle cx="963.3" cy="442.1" r="2.6"/><circle cx="966.3" cy="444.6" r="2.6"/><circle cx="969.7" cy="448.0" r="2.6"/><circle cx="973.1" cy="451.0" r="2.6"/><circle cx="976.5" cy="453.5" r="2.6"/><circle cx="982.4" cy="454.8" r="2.6"/><circle cx="988.8" cy="455.6" r="2.6"/><circle cx="994.7" cy="455.6" r="2.6"/><circle cx="1001.1" cy="455.6" r="2.6"/><circle cx="1007.5" cy="455.6" r="2.6"/><circle cx="1013.4" cy="457.3" r="2.6"/><circle cx="1019.8" cy="451.8" r="2.6"/><circle cx="1026.1" cy="451.4" r="2.6"/><circle cx="1032.5" cy="451.4" r="2.6"/><circle cx="1038.6" cy="457.3" r="2.6"/><circle cx="1044.5" cy="457.8" r="2.6"/><circle cx="1050.9" cy="459.9" r="2.6"/><circle cx="1054.3" cy="457.3" r="2.6"/><circle cx="1057.2" cy="454.8" r="2.6"/><circle cx="1063.6" cy="451.8" r="2.6"/><circle cx="1070.0" cy="451.4" r="2.6"/><circle cx="1075.9" cy="445.5" r="2.6"/><circle cx="1082.3" cy="445.5" r="2.6"/><circle cx="1088.6" cy="445.3" r="2.6"/><circle cx="1095.0" cy="439.1" r="2.6"/><circle cx="1101.0" cy="432.7" r="2.6"/><circle cx="1107.3" cy="426.8" r="2.6"/><circle cx="1107.7" cy="420.0" r="2.6"/></g>
<path d="M876.6,404.9 L879.0,403.5 L884.4,401.4 L889.8,399.2 L895.2,398.1 L898.4,395.4 L902.8,393.3 L907.6,390.6 L908.2,386.3 L908.2,387.0 L904.9,387.6 L901.7,388.6 L898.4,388.1 L895.2,387.6 L892.0,388.1 L889.3,387.6 L888.7,384.3 L885.5,383.0 L881.2,382.7 L876.8,381.6 L873.6,380.0 L874.1,377.8 L872.0,375.7 L874.7,373.0 L879.0,370.3 L884.4,368.7 L889.8,367.6 L893.0,367.0 L894.7,364.9 L894.1,362.7 L889.8,362.7 L885.5,363.3 L879.0,363.8 L873.6,363.3 L868.2,361.1 L863.9,358.9 L872.5,357.9 L879.0,356.2 L884.4,357.3 L890.3,357.1 L886.6,355.2 L883.3,353.5 L879.0,351.4 L873.6,349.2 L869.3,348.1 L869.3,346.5 L873.6,344.9 L879.0,344.9 L882.8,343.8 L884.4,342.2 L886.6,340.0 L889.8,338.7 L894.1,337.9 L898.4,337.3 L902.8,336.8 L907.1,336.3 L911.4,335.2 L915.7,335.7 L920.0,336.6 L922.2,337.3 L927.6,337.3 L933.0,338.1 L939.5,338.7 L943.8,339.0 L949.2,339.5 L954.6,340.0 L960.0,340.6 L965.4,340.6 L970.8,341.3 L981.2,342.7 L986.6,343.8 L992.0,345.2 L995.2,344.9 L998.5,343.3 L1002.8,342.2 L1008.2,342.7 L1013.6,341.7 L1019.0,340.6 L1023.3,339.8 L1025.5,341.7 L1027.6,341.1 L1029.8,339.2 L1034.8,340.7 L1039.2,342.9 L1043.6,340.7 L1046.2,342.9 L1052.4,342.1 L1056.8,342.5 L1061.2,343.4 L1065.6,344.3 L1070.0,344.7 L1074.4,345.1 L1078.8,346.0 L1083.2,347.3 L1084.9,348.7 L1083.2,350.0 L1087.6,349.5 L1092.0,349.1 L1095.4,350.4 L1100.0,349.9 L1104.7,349.2 L1107.0,350.4 L1109.3,351.3 L1111.6,350.8 L1113.9,349.9 L1111.6,348.5 L1109.8,348.1 L1110.7,347.1 L1113.9,346.2 L1118.5,345.8 L1121.8,346.0 L1124.1,346.7 L1126.9,348.5 L1128.7,349.7 L1132.4,349.2 L1137.1,349.9 L1140.8,351.1 L1146.3,350.4 L1152.3,350.4 L1152.8,348.1 L1153.1,348.1 L1157.4,347.2 L1162.4,347.5 L1163.0,350.6 L1162.7,352.7 L1164.8,349.3 L1168.5,348.1 L1169.8,345.6 L1166.7,343.8 L1163.6,342.5 L1161.1,340.7 L1161.8,337.6 L1163.6,335.1 L1167.3,333.3 L1171.0,333.6 L1174.7,335.7 L1178.4,338.2 L1181.5,340.7 L1178.4,341.9 L1179.7,342.5 L1184.6,343.2 L1185.8,346.9 L1189.5,344.7 L1192.0,344.4 L1194.5,346.2 L1195.7,349.3 L1198.2,351.2 L1200.4,351.8 L1202.0,350.5 L1205.0,347.4 L1206.3,343.7 L1205.7,341.6 M1223.6,350.5 L1220.5,352.1 L1214.3,353.6 L1208.1,354.9 L1205.0,355.5 L1203.2,357.3 L1200.1,361.0 L1195.8,364.1 L1189.6,365.4 L1185.9,366.6 L1184.7,368.4 L1181.0,370.3 L1180.6,370.4 L1176.0,372.7 L1172.3,375.5 L1169.5,379.2 L1168.1,382.9 L1168.1,386.6 L1173.2,387.0 L1175.0,388.0 L1176.9,391.2 L1178.3,394.5 L1183.4,394.0 L1187.1,394.0 L1192.6,395.8 L1197.3,398.2 L1201.9,399.5 L1208.4,401.4 L1213.0,401.9 L1219.9,402.3 L1220.4,405.1 L1221.3,408.8 L1221.8,411.4 L1220.4,412.0 L1224.1,415.7 M1224.2,343.7 L1221.7,345.6 L1221.1,348.7 L1223.6,349.9 M876.6,404.9 L880.6,405.7 L885.5,404.1 L892.0,401.4 L897.4,400.8 L902.8,399.8 L904.9,397.6 L909.2,396.0 L912.5,394.4 L916.3,392.2 L920.0,391.1 L922.7,389.2 L924.4,387.7 L922.5,385.9 L925.4,384.4 L926.5,383.2 L930.8,380.0 L933.0,378.4 L937.3,377.8 L937.9,378.9 L933.0,380.5 L931.4,382.7 L931.9,385.9 L935.2,385.4 L939.5,384.3 L943.8,383.2 L947.0,382.2 L948.1,379.5 L950.3,378.9 L954.6,380.0 L960.0,381.6 L965.4,382.2 L970.8,382.7 L976.2,383.8 L970.4,382.2 L975.8,383.2 L980.4,384.0 L985.0,386.3 L989.7,388.6 L996.1,390.0 L1004.5,390.0 L1006.8,393.3 L1010.0,395.1 L1012.8,397.9 L1013.7,400.7 L1017.4,402.0 L1020.2,404.4 L1021.1,407.1 L1024.4,409.0 L1026.2,412.2 L1029.5,413.6 L1031.3,416.4 L1032.7,418.7 L1036.0,421.0 L1037.8,421.9 L1044.3,424.6 L1048.6,426.8 L1050.8,428.9 L1048.6,431.1 L1046.4,432.2 L1045.9,435.4 L1046.2,441.9 L1046.4,446.2 L1045.9,451.4 L1044.6,453.3 L1045.7,458.7 L1045.1,464.1 L1047.3,469.5 L1051.6,473.8 L1055.9,480.3 L1061.3,487.8 L1065.6,489.5 L1071.0,491.1 L1074.3,493.2 L1077.5,500.8 L1080.8,506.7 L1081.3,510.5 M1028.6,421.4 L1033.5,421.9 L1040.0,424.1 L1046.4,426.8 L1050.8,427.8 L1052.9,431.1 L1053.5,435.4 L1051.3,434.3 L1049.7,432.2 L1046.4,430.0 L1041.0,427.8 L1035.6,425.7 L1030.2,424.1 L1028.1,422.4Z M1008.2,406.7 L1014.8,407.0 L1013.5,410.8 L1017.9,415.0 L1015.1,415.0 L1010.0,409.9Z M1085.1,510.5 L1085.1,506.7 L1084.5,500.3 L1086.2,499.7 L1090.5,501.3 L1092.6,506.7 L1093.2,510.5 M866.0,381.6 L870.4,380.9 L874.7,381.6 L873.6,383.2 L869.3,383.0Z M920.0,392.2 L924.4,390.9 L929.8,391.7 L930.3,393.3 L926.5,394.9 L922.2,396.0 L920.6,394.4Z M857.4,368.4 L860.9,368.7 M1051.7,315.8 L1056.3,313.3 L1061.3,311.4 L1067.4,309.9 L1073.6,309.3 L1079.5,309.0 L1079.2,311.7 L1077.3,313.3 L1070.5,314.2 L1064.4,315.4 L1058.2,316.7 L1053.2,316.4Z M1073.0,319.5 L1076.1,316.7 L1079.8,314.8 L1082.9,314.2 L1089.0,315.1 L1095.2,316.4 L1100.2,317.6 L1103.2,317.9 L1102.6,314.5 L1106.3,313.0 L1110.4,312.7 L1112.9,315.4 L1115.3,316.4 L1119.7,316.1 L1122.7,317.3 L1122.1,319.8 L1119.7,320.7 L1115.3,321.0 L1110.4,321.1 L1104.5,320.7 L1098.3,321.6 L1092.1,322.5 L1089.0,322.2 L1089.0,320.7 L1092.1,320.3 L1086.0,319.9 L1079.8,319.8Z M1042.4,323.2 L1048.9,322.5 L1056.3,322.2 L1064.4,322.9 L1070.5,323.5 L1077.3,325.3 L1073.6,327.5 L1068.7,329.6 L1065.0,332.1 L1061.3,334.9 L1056.3,336.1 L1050.8,337.2 L1045.8,335.8 L1039.0,333.4 L1042.7,329.0 L1046.4,325.3Z M1065.6,334.6 L1068.2,331.9 L1074.4,329.3 L1079.7,327.5 L1078.5,326.6 L1082.9,327.2 L1086.0,328.1 L1087.2,329.6 L1090.9,329.0 L1095.2,328.7 L1098.3,329.6 L1101.4,330.6 L1104.5,329.0 L1107.6,328.4 L1110.4,329.6 L1112.3,328.4 L1115.3,327.2 L1119.7,325.9 L1125.8,326.6 L1128.3,327.2 L1125.8,328.4 L1124.6,329.6 L1125.5,332.3 L1127.3,335.1 L1128.7,337.0 L1132.4,338.3 L1137.1,339.7 L1141.7,340.9 L1142.6,341.8 L1139.4,342.5 L1137.1,343.0 L1135.7,343.4 L1137.1,344.8 L1136.6,346.0 L1134.8,345.8 L1130.1,345.5 L1125.5,345.1 L1121.8,344.4 L1118.5,344.4 L1113.9,344.8 L1109.3,345.3 L1104.7,345.8 L1100.0,346.2 L1095.4,346.7 L1092.0,346.9 L1087.6,347.3 L1081.4,345.6 L1077.9,344.3 L1074.4,341.6 L1071.7,339.9 L1069.1,336.3Z M1123.4,303.1 L1128.9,302.8 L1135.1,303.7 L1141.3,305.0 L1146.2,306.5 L1147.7,308.7 L1143.7,308.0 L1138.2,306.8 L1132.0,306.2 L1124.6,306.5 L1123.7,304.6Z M1151.8,304.3 L1154.8,304.0 L1159.8,304.6 L1164.1,305.6 L1164.7,307.4 L1162.9,308.7 L1158.5,308.7 L1154.8,307.4 L1152.4,306.2Z M1135.7,314.8 L1141.3,313.9 L1147.4,313.3 L1153.0,313.3 L1155.5,314.8 L1155.5,317.9 L1153.6,320.4 L1147.4,320.7 L1143.7,320.4 L1142.5,317.9 L1136.3,317.6 L1135.7,316.1Z M1159.8,320.4 L1162.9,318.5 L1167.8,317.9 L1171.5,318.8 L1172.1,320.7 L1169.0,321.6 L1162.9,321.3Z M1135.7,329.6 L1139.4,328.4 L1141.3,326.6 L1145.0,325.0 L1150.5,325.3 L1158.5,325.9 L1157.3,328.4 L1159.2,330.3 L1159.8,332.7 L1157.3,334.6 L1153.6,335.8 L1148.7,335.5 L1144.4,334.0 L1140.0,332.1 L1136.3,330.9Z M1162.9,325.9 L1166.0,324.1 L1172.1,323.8 L1178.3,324.1 L1185.7,325.0 L1181.4,327.2 L1175.2,329.6 L1169.7,332.1 L1166.0,332.1 L1163.5,329.6Z M1146.9,343.5 L1150.0,341.9 L1153.7,340.7 L1157.4,341.3 L1160.5,342.5 L1163.6,344.4 L1163.6,345.3 L1160.5,345.6 L1156.2,345.3 L1151.3,344.4 L1147.6,343.8Z M1161.8,300.1 L1167.4,301.6 L1174.8,302.2 L1171.7,304.0 L1174.2,305.9 L1181.0,307.1 L1188.4,306.9 L1194.5,305.9 L1198.9,303.7 L1200.7,301.9 L1207.5,302.2 L1208.1,303.4 L1203.2,304.0 L1198.9,305.0 M1198.3,306.2 L1195.8,308.7 L1197.0,310.8 L1189.6,312.1 L1189.9,314.2 L1202.0,314.2 L1214.3,314.2 L1224.5,313.9 M1158.7,312.4 L1164.9,312.5 L1172.3,312.7 L1181.0,313.6 L1184.1,314.8 L1185.3,316.7 L1189.6,317.6 L1202.0,318.2 L1214.3,317.8 L1224.5,317.3 M1158.7,312.4 L1158.7,313.3 L1164.9,313.9 L1172.9,314.8 L1175.4,316.7 L1177.3,319.8 L1183.4,321.3 L1195.8,322.2 L1208.1,322.5 L1224.5,322.2 M1224.5,327.8 L1222.9,326.6 L1220.5,325.3 L1216.8,325.3 L1211.8,326.6 L1208.1,328.4 L1205.7,330.3 L1203.2,328.4 L1205.0,326.6 L1203.8,325.3 L1197.0,325.6 L1190.8,326.6 L1188.4,328.4 L1186.8,332.1 L1188.4,335.2 L1189.0,333.9 L1189.6,336.6 L1193.3,338.2 L1198.9,339.4 L1205.0,340.4 L1211.2,341.0 L1217.4,341.6 L1224.5,342.0 M1205.0,356.1 L1208.1,359.2 L1214.3,361.6 L1223.6,364.7 L1223.6,366.9 L1216.2,366.0 L1211.2,367.2 L1206.9,369.1 L1205.0,368.4 L1200.7,367.8 L1202.6,366.0 L1204.1,362.3 L1204.7,358.6Z M1213.0,373.2 L1216.7,370.8 L1222.3,370.8 L1220.4,372.7 L1214.8,374.1Z M1189.9,505.9 L1194.0,504.8 L1202.2,504.8 L1206.3,505.9 M1223.0,505.9 L1223.0,502.2 L1223.8,500.6" fill="none" stroke="#000" stroke-width="2.2" stroke-linejoin="round" stroke-linecap="round"/>
<path d="M1094.0,305.6 L1098.3,304.2 L1104.5,304.5 L1106.9,305.6 L1106.0,307.3 L1099.5,306.9 L1094.6,307.7Z" fill="#000"/>
<path d="M1089.7,309.0 L1094.0,305.9 L1098.3,304.3 L1104.5,304.6 L1106.9,305.6 L1105.7,308.7 L1101.4,309.6 L1096.4,310.5 L1091.5,309.9Z M1070.0,335.5 L1079.7,335.5 M1072.6,339.4 L1095.5,339.9 M1123.7,303.7 L1128.9,305.0 M1161.0,309.6 L1172.7,309.6 M1197.0,306.5 L1202.0,307.7 L1208.7,309.9" fill="none" stroke="#000" stroke-width="2.6" stroke-linejoin="round" stroke-linecap="round"/>
</g>
<rect x="857.8" y="301.1" width="367.0" height="205.2" fill="none" stroke="#000" stroke-width="1.6"/>
<text x="857.8" y="290.2" font-size="23.3">h)</text>
<line x1="876.8" y1="506.3" x2="876.8" y2="511.6" stroke="#808080" stroke-width="1.1"/>
<text x="876.8" y="530.5" font-size="16.9" fill="#808080" text-anchor="middle">165°W</text>
<line x1="980.5" y1="506.3" x2="980.5" y2="511.6" stroke="#808080" stroke-width="1.1"/>
<text x="980.5" y="530.5" font-size="16.9" fill="#808080" text-anchor="middle">140°W</text>
<line x1="1084.3" y1="506.3" x2="1084.3" y2="511.6" stroke="#808080" stroke-width="1.1"/>
<text x="1084.3" y="530.5" font-size="16.9" fill="#808080" text-anchor="middle">115°W</text>
<line x1="1188.0" y1="506.3" x2="1188.0" y2="511.6" stroke="#808080" stroke-width="1.1"/>
<text x="1188.0" y="530.5" font-size="16.9" fill="#808080" text-anchor="middle">90°W</text>
<g clip-path="url(#cp13)">
<rect x="1245.4" y="301.1" width="367.1" height="205.2" fill="#f7f6f6"/>
<path d="M1484.7,506.5 1492.8,499.2 1505.8,492.7 1512.2,486.2 1517.1,474.9 1505.8,473.3 1492.8,478.1 1476.6,474.9 1475.0,468.4 1470.0,469.0 1470.0,476.5 1454.9,479.5 1437.9,476.1 1426.0,479.5 1419.2,474.4 1419.2,469.3 1434.5,460.8 1446.4,455.7 1458.3,452.3 1465.1,447.2 1470.0,444.8 1470.0,447.4 1470.1,447.4 1470.1,437.6 1475.0,429.5 1481.5,419.8 1489.6,411.7 1497.0,404.3 1498.6,404.3 1498.3,403.0 1499.3,402.0 1498.1,402.0 1495.4,389.9 1492.2,380.2 1495.4,372.2 1497.0,364.2 1489.0,359.4 1472.9,353.0 1470.0,350.5 1470.0,337.0 1476.1,332.1 1484.2,327.3 1500.2,322.5 1514.6,320.9 1516.3,316.0 1508.2,309.6 1505.0,302.4 1476.1,302.4 1453.7,304.8 1437.6,309.6 1428.0,314.4 1428.0,318.2 1421.5,319.3 1415.1,320.9 1405.5,316.0 1400.6,314.4 1394.2,308.8 1381.4,308.8 1365.3,309.9 1357.3,311.6 1333.3,310.9 1317.2,311.6 1301.2,314.8 1277.1,315.2 1246.6,316.0 1245.0,316.0 1245.0,367.4 1251.4,369.0 1256.2,380.2 1257.8,393.1 1260.4,402.0 1258.0,402.0 1256.3,411.7 1261.2,418.2 1270.9,426.3 1280.6,439.3 1275.8,447.4 1285.5,455.5 1287.1,466.8 1293.6,473.3 1300.1,483.0 1301.7,492.7 1306.6,499.2 1309.8,506.5 1345.4,506.5 1358.4,502.4 1370.0,500.1 1370.0,501.6 1387.0,496.5 1404.0,493.1 1407.4,490.5 1417.5,499.9 1420.0,507.3 1449.8,507.3 1449.8,498.2 1460.0,499.9 1463.7,507.3 1470.0,507.3 1470.0,506.2 1470.1,506.5ZM1370.0,469.1 1368.1,470.0 1358.4,468.4 1350.3,471.7 1342.2,468.4 1326.0,468.4 1316.3,466.8 1309.8,463.6 1306.6,455.5 1301.7,444.1 1296.8,437.6 1293.6,426.3 1285.5,415.0 1283.9,402.0 1297.3,402.0 1291.5,396.3 1281.9,389.9 1280.3,383.4 1280.3,372.2 1281.9,364.2 1285.1,356.2 1288.3,348.1 1293.1,341.7 1306.0,338.5 1322.0,335.3 1328.4,333.7 1338.1,328.1 1349.3,332.1 1362.1,332.9 1370.0,333.5 1370.0,333.6 1380.2,338.7 1387.0,345.5 1404.0,345.5 1419.2,343.8 1437.9,354.0 1458.3,364.1 1465.1,374.3 1470.0,381.7 1470.0,380.1 1471.3,383.4 1472.9,393.1 1474.5,404.3 1470.0,404.3 1470.0,410.1 1465.1,415.0 1451.5,423.5 1441.3,432.0 1431.1,442.1 1426.0,448.9 1420.9,454.0 1409.0,459.1 1395.5,464.2 1380.2,465.9 1370.0,469.3ZM1326.0,470.0 1326.8,477.3 1321.1,474.9ZM1613.0,317.7 1613.0,301.6 1553.2,301.6 1559.6,308.8 1572.4,313.6 1588.5,316.0ZM1598.1,387.5 1601.3,396.3 1613.0,396.3 1613.0,385.0ZM1590.0,474.9 1570.6,473.3 1557.6,466.8 1552.7,470.0 1541.4,478.1 1539.8,491.1 1541.4,506.5 1613.0,506.5 1613.0,408.5 1606.2,408.5 1603.0,419.8 1593.2,426.3 1581.9,424.7 1570.6,426.3 1560.8,442.5 1559.2,455.5 1565.7,461.9 1577.0,470.0 1594.9,473.3ZM1544.6,441.7 1536.5,444.1 1541.4,453.8 1534.9,458.7 1528.4,463.6 1533.3,465.2 1544.6,463.6 1551.1,457.1 1552.7,449.0Z" fill="#fce0d0" fill-rule="evenodd" stroke="#fce0d0" stroke-width="0.6" stroke-linejoin="round"/>
<path d="M1370.0,469.1 1370.0,469.3 1380.2,465.9 1395.5,464.2 1409.0,459.1 1420.9,454.0 1426.0,448.9 1431.1,442.1 1441.3,432.0 1451.5,423.5 1465.1,415.0 1470.0,410.1 1470.0,404.3 1474.5,404.3 1472.9,393.1 1471.3,383.4 1470.0,380.1 1470.0,381.7 1465.1,374.3 1458.3,364.1 1437.9,354.0 1419.2,343.8 1404.0,345.5 1387.0,345.5 1380.2,338.7 1370.0,333.6 1370.0,333.5 1362.1,332.9 1349.3,332.1 1338.1,328.1 1328.4,333.7 1322.0,335.3 1306.0,338.5 1293.1,341.7 1288.3,348.1 1285.1,356.2 1281.9,364.2 1280.3,372.2 1280.3,383.4 1281.9,389.9 1291.5,396.3 1297.3,402.0 1283.9,402.0 1285.5,415.0 1293.6,426.3 1296.8,437.6 1301.7,444.1 1306.6,455.5 1309.8,463.6 1316.3,466.8 1326.0,468.4 1342.2,468.4 1350.3,471.7 1358.4,468.4 1368.1,470.0ZM1370.0,453.1 1366.5,453.8 1350.3,457.1 1334.1,457.1 1317.9,455.5 1316.3,447.4 1309.8,440.9 1306.6,431.2 1301.7,421.4 1298.5,411.7 1298.5,402.0 1306.4,402.0 1299.6,396.3 1294.7,389.9 1294.7,381.8 1302.8,377.0 1306.0,369.0 1304.4,359.4 1312.4,355.4 1325.2,354.6 1338.1,353.8 1349.3,354.6 1357.3,356.2 1370.0,357.4 1370.0,356.5 1380.2,356.5 1400.6,362.4 1410.7,369.2 1426.0,376.0 1437.9,384.5 1453.2,394.7 1451.5,398.0 1444.7,398.0 1443.0,404.8 1441.3,413.3 1437.9,420.1 1431.1,428.6 1420.9,435.4 1407.4,442.1 1395.5,447.2 1383.6,450.6 1370.0,454.0ZM1345.4,506.5 1370.0,506.5 1370.0,507.3 1420.0,507.3 1417.5,499.9 1407.4,490.5 1404.0,493.1 1387.0,496.5 1370.0,501.6 1370.0,500.1 1358.4,502.4ZM1321.1,474.9 1326.8,477.3 1326.0,470.0ZM1463.7,507.3 1460.0,499.9 1449.8,498.2 1449.8,507.3Z" fill="#f8bb9e" fill-rule="evenodd" stroke="#f8bb9e" stroke-width="0.6" stroke-linejoin="round"/>
<path d="M1350.3,457.1 1366.5,453.8 1370.0,453.1 1370.0,454.0 1383.6,450.6 1395.5,447.2 1407.4,442.1 1420.9,435.4 1431.1,428.6 1437.9,420.1 1441.3,413.3 1443.0,404.8 1444.7,398.0 1451.5,398.0 1453.2,394.7 1437.9,384.5 1426.0,376.0 1410.7,369.2 1400.6,362.4 1380.2,356.5 1370.0,356.5 1370.0,357.4 1357.3,356.2 1349.3,354.6 1338.1,353.8 1325.2,354.6 1312.4,355.4 1304.4,359.4 1306.0,369.0 1302.8,377.0 1294.7,381.8 1294.7,389.9 1299.6,396.3 1306.4,402.0 1298.5,402.0 1298.5,411.7 1301.7,421.4 1306.6,431.2 1309.8,440.9 1316.3,447.4 1317.9,455.5 1334.1,457.1ZM1358.4,449.0 1348.7,449.0 1334.1,444.1 1322.8,437.6 1319.5,426.3 1316.3,418.2 1308.2,411.7 1309.8,406.9 1317.9,403.6 1318.2,403.5 1312.4,396.3 1309.2,386.6 1309.2,373.8 1322.0,370.6 1334.9,367.4 1344.5,365.0 1354.1,367.4 1367.0,369.0 1370.0,369.7 1370.0,369.2 1392.1,370.9 1407.4,377.7 1412.4,382.8 1400.6,387.9 1426.0,393.0 1428.5,398.0 1427.7,398.0 1429.4,406.5 1426.0,415.0 1420.9,421.8 1412.4,426.9 1400.6,432.0 1390.4,433.7 1380.2,438.7 1370.0,442.1 1370.0,445.5Z" fill="#e8896c" fill-rule="evenodd" stroke="#e8896c" stroke-width="0.6" stroke-linejoin="round"/>
<path d="M1334.9,367.4 1322.0,370.6 1309.2,373.8 1309.2,386.6 1312.4,396.3 1318.2,403.5 1317.9,403.6 1309.8,406.9 1308.2,411.7 1316.3,418.2 1319.5,426.3 1322.8,437.6 1334.1,444.1 1348.7,449.0 1358.4,449.0 1370.0,445.5 1370.0,442.1 1380.2,438.7 1390.4,433.7 1400.6,432.0 1412.4,426.9 1420.9,421.8 1426.0,415.0 1429.4,406.5 1427.7,398.0 1428.5,398.0 1426.0,393.0 1400.6,387.9 1412.4,382.8 1407.4,377.7 1392.1,370.9 1370.0,369.2 1370.0,369.7 1367.0,369.0 1354.1,367.4 1344.5,365.0ZM1364.9,437.6 1358.4,436.0 1348.7,431.2 1342.2,424.7 1335.7,419.8 1332.5,416.6 1330.9,408.5 1332.5,402.0 1339.1,402.0 1337.3,394.7 1338.1,383.4 1347.7,380.2 1357.3,378.6 1363.7,375.4 1367.0,380.2 1370.0,383.3 1370.0,387.9 1373.4,391.3 1378.7,398.0 1386.6,398.0 1393.8,396.4 1395.1,398.0 1398.9,398.0 1397.2,404.8 1388.7,411.6 1387.0,420.1 1380.2,426.9 1370.0,432.0 1370.0,435.1Z" fill="#cf5246" fill-rule="evenodd" stroke="#cf5246" stroke-width="0.6" stroke-linejoin="round"/>
<path d="M1347.7,380.2 1338.1,383.4 1337.3,394.7 1339.1,402.0 1332.5,402.0 1330.9,408.5 1332.5,416.6 1335.7,419.8 1342.2,424.7 1348.7,431.2 1358.4,436.0 1364.9,437.6 1370.0,435.1 1370.0,432.0 1380.2,426.9 1387.0,420.1 1388.7,411.6 1397.2,404.8 1398.9,398.0 1395.1,398.0 1393.8,396.4 1386.6,398.0 1378.7,398.0 1373.4,391.3 1370.0,387.9 1370.0,383.3 1367.0,380.2 1363.7,375.4 1357.3,378.6Z" fill="#b1182b" fill-rule="evenodd" stroke="#b1182b" stroke-width="0.6" stroke-linejoin="round"/>
<g fill="#666666" stroke="#ffffff" stroke-width="0.35" stroke-opacity="0.7"><circle cx="1338.6" cy="401.4" r="2.6"/><circle cx="1345.0" cy="401.0" r="2.6"/><circle cx="1350.9" cy="395.0" r="2.6"/><circle cx="1357.3" cy="392.1" r="2.6"/><circle cx="1363.7" cy="389.1" r="2.6"/><circle cx="1370.0" cy="388.7" r="2.6"/><circle cx="1376.0" cy="382.6" r="2.6"/><circle cx="1382.3" cy="382.6" r="2.6"/><circle cx="1388.7" cy="382.3" r="2.6"/><circle cx="1394.6" cy="376.4" r="2.6"/><circle cx="1401.0" cy="375.9" r="2.6"/><circle cx="1407.4" cy="375.9" r="2.6"/><circle cx="1413.7" cy="375.9" r="2.6"/><circle cx="1420.1" cy="375.9" r="2.6"/><circle cx="1338.6" cy="407.8" r="2.6"/><circle cx="1338.6" cy="413.7" r="2.6"/><circle cx="1426.2" cy="375.9" r="2.6"/><circle cx="1432.5" cy="375.9" r="2.6"/><circle cx="1438.0" cy="370.2" r="2.6"/><circle cx="1444.6" cy="370.2" r="2.6"/><circle cx="1451.0" cy="369.8" r="2.6"/><circle cx="1457.6" cy="370.2" r="2.6"/><circle cx="1463.5" cy="376.1" r="2.6"/><circle cx="1469.9" cy="376.4" r="2.6"/><circle cx="1475.8" cy="382.3" r="2.6"/><circle cx="1482.4" cy="382.6" r="2.6"/><circle cx="1488.4" cy="388.5" r="2.6"/><circle cx="1494.9" cy="388.7" r="2.6"/><circle cx="1495.2" cy="395.3" r="2.6"/><circle cx="1501.3" cy="401.4" r="2.6"/><circle cx="1501.3" cy="407.8" r="2.6"/><circle cx="1501.3" cy="413.7" r="2.6"/><circle cx="1338.6" cy="414.0" r="2.6"/><circle cx="1341.6" cy="420.0" r="2.6"/><circle cx="1343.7" cy="426.4" r="2.6"/><circle cx="1345.4" cy="432.7" r="2.6"/><circle cx="1347.9" cy="438.7" r="2.6"/><circle cx="1350.9" cy="442.1" r="2.6"/><circle cx="1353.9" cy="444.6" r="2.6"/><circle cx="1357.3" cy="448.0" r="2.6"/><circle cx="1360.7" cy="451.0" r="2.6"/><circle cx="1364.1" cy="453.5" r="2.6"/><circle cx="1370.0" cy="454.8" r="2.6"/><circle cx="1376.4" cy="455.6" r="2.6"/><circle cx="1382.3" cy="455.6" r="2.6"/><circle cx="1388.7" cy="455.6" r="2.6"/><circle cx="1395.1" cy="455.6" r="2.6"/><circle cx="1401.0" cy="457.3" r="2.6"/><circle cx="1407.4" cy="451.8" r="2.6"/><circle cx="1413.7" cy="451.4" r="2.6"/><circle cx="1420.1" cy="451.4" r="2.6"/><circle cx="1426.2" cy="457.3" r="2.6"/><circle cx="1432.1" cy="457.8" r="2.6"/><circle cx="1438.5" cy="459.9" r="2.6"/><circle cx="1441.9" cy="457.3" r="2.6"/><circle cx="1444.8" cy="454.8" r="2.6"/><circle cx="1451.2" cy="451.8" r="2.6"/><circle cx="1457.6" cy="451.4" r="2.6"/><circle cx="1463.5" cy="445.5" r="2.6"/><circle cx="1469.9" cy="445.5" r="2.6"/><circle cx="1476.2" cy="445.3" r="2.6"/><circle cx="1482.6" cy="439.1" r="2.6"/><circle cx="1488.6" cy="432.7" r="2.6"/><circle cx="1494.9" cy="426.8" r="2.6"/><circle cx="1495.3" cy="420.0" r="2.6"/></g>
<path d="M1264.2,404.9 L1266.6,403.5 L1272.0,401.4 L1277.4,399.2 L1282.8,398.1 L1286.0,395.4 L1290.4,393.3 L1295.2,390.6 L1295.8,386.3 L1295.8,387.0 L1292.5,387.6 L1289.3,388.6 L1286.0,388.1 L1282.8,387.6 L1279.6,388.1 L1276.9,387.6 L1276.3,384.3 L1273.1,383.0 L1268.8,382.7 L1264.4,381.6 L1261.2,380.0 L1261.7,377.8 L1259.6,375.7 L1262.3,373.0 L1266.6,370.3 L1272.0,368.7 L1277.4,367.6 L1280.6,367.0 L1282.3,364.9 L1281.7,362.7 L1277.4,362.7 L1273.1,363.3 L1266.6,363.8 L1261.2,363.3 L1255.8,361.1 L1251.5,358.9 L1260.1,357.9 L1266.6,356.2 L1272.0,357.3 L1277.9,357.1 L1274.2,355.2 L1270.9,353.5 L1266.6,351.4 L1261.2,349.2 L1256.9,348.1 L1256.9,346.5 L1261.2,344.9 L1266.6,344.9 L1270.4,343.8 L1272.0,342.2 L1274.2,340.0 L1277.4,338.7 L1281.7,337.9 L1286.0,337.3 L1290.4,336.8 L1294.7,336.3 L1299.0,335.2 L1303.3,335.7 L1307.6,336.6 L1309.8,337.3 L1315.2,337.3 L1320.6,338.1 L1327.1,338.7 L1331.4,339.0 L1336.8,339.5 L1342.2,340.0 L1347.6,340.6 L1353.0,340.6 L1358.4,341.3 L1368.8,342.7 L1374.2,343.8 L1379.6,345.2 L1382.8,344.9 L1386.1,343.3 L1390.4,342.2 L1395.8,342.7 L1401.2,341.7 L1406.6,340.6 L1410.9,339.8 L1413.1,341.7 L1415.2,341.1 L1417.4,339.2 L1422.4,340.7 L1426.8,342.9 L1431.2,340.7 L1433.8,342.9 L1440.0,342.1 L1444.4,342.5 L1448.8,343.4 L1453.2,344.3 L1457.6,344.7 L1462.0,345.1 L1466.4,346.0 L1470.8,347.3 L1472.5,348.7 L1470.8,350.0 L1475.2,349.5 L1479.6,349.1 L1483.0,350.4 L1487.6,349.9 L1492.3,349.2 L1494.6,350.4 L1496.9,351.3 L1499.2,350.8 L1501.5,349.9 L1499.2,348.5 L1497.4,348.1 L1498.3,347.1 L1501.5,346.2 L1506.1,345.8 L1509.4,346.0 L1511.7,346.7 L1514.5,348.5 L1516.3,349.7 L1520.0,349.2 L1524.7,349.9 L1528.4,351.1 L1533.9,350.4 L1539.9,350.4 L1540.4,348.1 L1540.7,348.1 L1545.0,347.2 L1550.0,347.5 L1550.6,350.6 L1550.3,352.7 L1552.4,349.3 L1556.1,348.1 L1557.4,345.6 L1554.3,343.8 L1551.2,342.5 L1548.7,340.7 L1549.4,337.6 L1551.2,335.1 L1554.9,333.3 L1558.6,333.6 L1562.3,335.7 L1566.0,338.2 L1569.1,340.7 L1566.0,341.9 L1567.3,342.5 L1572.2,343.2 L1573.4,346.9 L1577.1,344.7 L1579.6,344.4 L1582.1,346.2 L1583.3,349.3 L1585.8,351.2 L1588.0,351.8 L1589.6,350.5 L1592.6,347.4 L1593.9,343.7 L1593.3,341.6 M1611.2,350.5 L1608.1,352.1 L1601.9,353.6 L1595.7,354.9 L1592.6,355.5 L1590.8,357.3 L1587.7,361.0 L1583.4,364.1 L1577.2,365.4 L1573.5,366.6 L1572.3,368.4 L1568.6,370.3 L1568.2,370.4 L1563.6,372.7 L1559.9,375.5 L1557.1,379.2 L1555.7,382.9 L1555.7,386.6 L1560.8,387.0 L1562.6,388.0 L1564.5,391.2 L1565.9,394.5 L1571.0,394.0 L1574.7,394.0 L1580.2,395.8 L1584.9,398.2 L1589.5,399.5 L1596.0,401.4 L1600.6,401.9 L1607.5,402.3 L1608.0,405.1 L1608.9,408.8 L1609.4,411.4 L1608.0,412.0 L1611.7,415.7 M1611.8,343.7 L1609.3,345.6 L1608.7,348.7 L1611.2,349.9 M1264.2,404.9 L1268.2,405.7 L1273.1,404.1 L1279.6,401.4 L1285.0,400.8 L1290.4,399.8 L1292.5,397.6 L1296.8,396.0 L1300.1,394.4 L1303.9,392.2 L1307.6,391.1 L1310.3,389.2 L1312.0,387.7 L1310.1,385.9 L1313.0,384.4 L1314.1,383.2 L1318.4,380.0 L1320.6,378.4 L1324.9,377.8 L1325.5,378.9 L1320.6,380.5 L1319.0,382.7 L1319.5,385.9 L1322.8,385.4 L1327.1,384.3 L1331.4,383.2 L1334.6,382.2 L1335.7,379.5 L1337.9,378.9 L1342.2,380.0 L1347.6,381.6 L1353.0,382.2 L1358.4,382.7 L1363.8,383.8 L1358.0,382.2 L1363.4,383.2 L1368.0,384.0 L1372.6,386.3 L1377.3,388.6 L1383.7,390.0 L1392.1,390.0 L1394.4,393.3 L1397.6,395.1 L1400.4,397.9 L1401.3,400.7 L1405.0,402.0 L1407.8,404.4 L1408.7,407.1 L1412.0,409.0 L1413.8,412.2 L1417.1,413.6 L1418.9,416.4 L1420.3,418.7 L1423.6,421.0 L1425.4,421.9 L1431.9,424.6 L1436.2,426.8 L1438.4,428.9 L1436.2,431.1 L1434.0,432.2 L1433.5,435.4 L1433.8,441.9 L1434.0,446.2 L1433.5,451.4 L1432.2,453.3 L1433.3,458.7 L1432.7,464.1 L1434.9,469.5 L1439.2,473.8 L1443.5,480.3 L1448.9,487.8 L1453.2,489.5 L1458.6,491.1 L1461.9,493.2 L1465.1,500.8 L1468.4,506.7 L1468.9,510.5 M1416.2,421.4 L1421.1,421.9 L1427.6,424.1 L1434.0,426.8 L1438.4,427.8 L1440.5,431.1 L1441.1,435.4 L1438.9,434.3 L1437.3,432.2 L1434.0,430.0 L1428.6,427.8 L1423.2,425.7 L1417.8,424.1 L1415.7,422.4Z M1395.8,406.7 L1402.4,407.0 L1401.1,410.8 L1405.5,415.0 L1402.7,415.0 L1397.6,409.9Z M1472.7,510.5 L1472.7,506.7 L1472.1,500.3 L1473.8,499.7 L1478.1,501.3 L1480.2,506.7 L1480.8,510.5 M1253.6,381.6 L1258.0,380.9 L1262.3,381.6 L1261.2,383.2 L1256.9,383.0Z M1307.6,392.2 L1312.0,390.9 L1317.4,391.7 L1317.9,393.3 L1314.1,394.9 L1309.8,396.0 L1308.2,394.4Z M1245.0,368.4 L1248.5,368.7 M1439.3,315.8 L1443.9,313.3 L1448.9,311.4 L1455.0,309.9 L1461.2,309.3 L1467.1,309.0 L1466.8,311.7 L1464.9,313.3 L1458.1,314.2 L1452.0,315.4 L1445.8,316.7 L1440.8,316.4Z M1460.6,319.5 L1463.7,316.7 L1467.4,314.8 L1470.5,314.2 L1476.6,315.1 L1482.8,316.4 L1487.8,317.6 L1490.8,317.9 L1490.2,314.5 L1493.9,313.0 L1498.0,312.7 L1500.5,315.4 L1502.9,316.4 L1507.3,316.1 L1510.3,317.3 L1509.7,319.8 L1507.3,320.7 L1502.9,321.0 L1498.0,321.1 L1492.1,320.7 L1485.9,321.6 L1479.7,322.5 L1476.6,322.2 L1476.6,320.7 L1479.7,320.3 L1473.6,319.9 L1467.4,319.8Z M1430.0,323.2 L1436.5,322.5 L1443.9,322.2 L1452.0,322.9 L1458.1,323.5 L1464.9,325.3 L1461.2,327.5 L1456.3,329.6 L1452.6,332.1 L1448.9,334.9 L1443.9,336.1 L1438.4,337.2 L1433.4,335.8 L1426.6,333.4 L1430.3,329.0 L1434.0,325.3Z M1453.2,334.6 L1455.8,331.9 L1462.0,329.3 L1467.3,327.5 L1466.1,326.6 L1470.5,327.2 L1473.6,328.1 L1474.8,329.6 L1478.5,329.0 L1482.8,328.7 L1485.9,329.6 L1489.0,330.6 L1492.1,329.0 L1495.2,328.4 L1498.0,329.6 L1499.9,328.4 L1502.9,327.2 L1507.3,325.9 L1513.4,326.6 L1515.9,327.2 L1513.4,328.4 L1512.2,329.6 L1513.1,332.3 L1514.9,335.1 L1516.3,337.0 L1520.0,338.3 L1524.7,339.7 L1529.3,340.9 L1530.2,341.8 L1527.0,342.5 L1524.7,343.0 L1523.3,343.4 L1524.7,344.8 L1524.2,346.0 L1522.4,345.8 L1517.7,345.5 L1513.1,345.1 L1509.4,344.4 L1506.1,344.4 L1501.5,344.8 L1496.9,345.3 L1492.3,345.8 L1487.6,346.2 L1483.0,346.7 L1479.6,346.9 L1475.2,347.3 L1469.0,345.6 L1465.5,344.3 L1462.0,341.6 L1459.3,339.9 L1456.7,336.3Z M1511.0,303.1 L1516.5,302.8 L1522.7,303.7 L1528.9,305.0 L1533.8,306.5 L1535.3,308.7 L1531.3,308.0 L1525.8,306.8 L1519.6,306.2 L1512.2,306.5 L1511.3,304.6Z M1539.4,304.3 L1542.4,304.0 L1547.4,304.6 L1551.7,305.6 L1552.3,307.4 L1550.5,308.7 L1546.1,308.7 L1542.4,307.4 L1540.0,306.2Z M1523.3,314.8 L1528.9,313.9 L1535.0,313.3 L1540.6,313.3 L1543.1,314.8 L1543.1,317.9 L1541.2,320.4 L1535.0,320.7 L1531.3,320.4 L1530.1,317.9 L1523.9,317.6 L1523.3,316.1Z M1547.4,320.4 L1550.5,318.5 L1555.4,317.9 L1559.1,318.8 L1559.7,320.7 L1556.6,321.6 L1550.5,321.3Z M1523.3,329.6 L1527.0,328.4 L1528.9,326.6 L1532.6,325.0 L1538.1,325.3 L1546.1,325.9 L1544.9,328.4 L1546.8,330.3 L1547.4,332.7 L1544.9,334.6 L1541.2,335.8 L1536.3,335.5 L1532.0,334.0 L1527.6,332.1 L1523.9,330.9Z M1550.5,325.9 L1553.6,324.1 L1559.7,323.8 L1565.9,324.1 L1573.3,325.0 L1569.0,327.2 L1562.8,329.6 L1557.3,332.1 L1553.6,332.1 L1551.1,329.6Z M1534.5,343.5 L1537.6,341.9 L1541.3,340.7 L1545.0,341.3 L1548.1,342.5 L1551.2,344.4 L1551.2,345.3 L1548.1,345.6 L1543.8,345.3 L1538.9,344.4 L1535.2,343.8Z M1549.4,300.1 L1555.0,301.6 L1562.4,302.2 L1559.3,304.0 L1561.8,305.9 L1568.6,307.1 L1576.0,306.9 L1582.1,305.9 L1586.5,303.7 L1588.3,301.9 L1595.1,302.2 L1595.7,303.4 L1590.8,304.0 L1586.5,305.0 M1585.9,306.2 L1583.4,308.7 L1584.6,310.8 L1577.2,312.1 L1577.5,314.2 L1589.6,314.2 L1601.9,314.2 L1612.1,313.9 M1546.3,312.4 L1552.5,312.5 L1559.9,312.7 L1568.6,313.6 L1571.7,314.8 L1572.9,316.7 L1577.2,317.6 L1589.6,318.2 L1601.9,317.8 L1612.1,317.3 M1546.3,312.4 L1546.3,313.3 L1552.5,313.9 L1560.5,314.8 L1563.0,316.7 L1564.9,319.8 L1571.0,321.3 L1583.4,322.2 L1595.7,322.5 L1612.1,322.2 M1612.1,327.8 L1610.5,326.6 L1608.1,325.3 L1604.4,325.3 L1599.4,326.6 L1595.7,328.4 L1593.3,330.3 L1590.8,328.4 L1592.6,326.6 L1591.4,325.3 L1584.6,325.6 L1578.4,326.6 L1576.0,328.4 L1574.4,332.1 L1576.0,335.2 L1576.6,333.9 L1577.2,336.6 L1580.9,338.2 L1586.5,339.4 L1592.6,340.4 L1598.8,341.0 L1605.0,341.6 L1612.1,342.0 M1592.6,356.1 L1595.7,359.2 L1601.9,361.6 L1611.2,364.7 L1611.2,366.9 L1603.8,366.0 L1598.8,367.2 L1594.5,369.1 L1592.6,368.4 L1588.3,367.8 L1590.2,366.0 L1591.7,362.3 L1592.3,358.6Z M1600.6,373.2 L1604.3,370.8 L1609.9,370.8 L1608.0,372.7 L1602.4,374.1Z M1577.5,505.9 L1581.6,504.8 L1589.8,504.8 L1593.9,505.9 M1610.6,505.9 L1610.6,502.2 L1611.4,500.6" fill="none" stroke="#000" stroke-width="2.2" stroke-linejoin="round" stroke-linecap="round"/>
<path d="M1481.6,305.6 L1485.9,304.2 L1492.1,304.5 L1494.5,305.6 L1493.6,307.3 L1487.1,306.9 L1482.2,307.7Z" fill="#000"/>
<path d="M1477.3,309.0 L1481.6,305.9 L1485.9,304.3 L1492.1,304.6 L1494.5,305.6 L1493.3,308.7 L1489.0,309.6 L1484.0,310.5 L1479.1,309.9Z M1457.6,335.5 L1467.3,335.5 M1460.2,339.4 L1483.1,339.9 M1511.3,303.7 L1516.5,305.0 M1548.6,309.6 L1560.3,309.6 M1584.6,306.5 L1589.6,307.7 L1596.3,309.9" fill="none" stroke="#000" stroke-width="2.6" stroke-linejoin="round" stroke-linecap="round"/>
</g>
<rect x="1245.4" y="301.1" width="367.1" height="205.2" fill="none" stroke="#000" stroke-width="1.6"/>
<text x="1245.4" y="290.2" font-size="23.3">i)</text>
<line x1="1264.4" y1="506.3" x2="1264.4" y2="511.6" stroke="#808080" stroke-width="1.1"/>
<text x="1264.4" y="530.5" font-size="16.9" fill="#808080" text-anchor="middle">165°W</text>
<line x1="1368.1" y1="506.3" x2="1368.1" y2="511.6" stroke="#808080" stroke-width="1.1"/>
<text x="1368.1" y="530.5" font-size="16.9" fill="#808080" text-anchor="middle">140°W</text>
<line x1="1471.9" y1="506.3" x2="1471.9" y2="511.6" stroke="#808080" stroke-width="1.1"/>
<text x="1471.9" y="530.5" font-size="16.9" fill="#808080" text-anchor="middle">115°W</text>
<line x1="1575.6" y1="506.3" x2="1575.6" y2="511.6" stroke="#808080" stroke-width="1.1"/>
<text x="1575.6" y="530.5" font-size="16.9" fill="#808080" text-anchor="middle">90°W</text>
<g clip-path="url(#cp14)">
<rect x="1632.7" y="301.1" width="367.0" height="205.2" fill="#f7f6f6"/>
<path d="M1722.7,466.8 1720.3,471.7 1722.7,478.9 1713.0,477.3 1706.5,484.6 1696.8,487.9 1688.7,491.1 1677.4,494.3 1667.6,491.1 1656.3,495.1 1645.0,495.1 1632.0,494.3 1632.0,506.5 1815.0,506.5 1815.0,488.5 1810.2,489.5 1802.1,481.4 1810.2,479.8 1815.0,480.7 1815.0,478.1 1828.0,479.8 1836.1,483.0 1847.4,486.2 1857.1,489.5 1863.6,494.3 1862.0,500.8 1855.5,506.5 1887.9,506.5 1892.8,502.4 1902.5,496.0 1910.6,486.2 1907.3,478.1 1909.0,468.4 1896.0,463.6 1887.9,458.7 1876.6,463.6 1866.8,470.0 1860.4,466.8 1853.9,457.1 1857.1,450.6 1866.8,444.1 1876.6,437.6 1879.8,426.3 1883.0,415.0 1885.7,404.3 1898.4,404.3 1904.9,399.5 1909.7,393.1 1911.3,383.4 1904.9,375.4 1900.0,369.0 1904.9,361.0 1898.4,354.6 1901.6,348.1 1904.9,341.7 1914.5,338.5 1917.7,332.1 1911.3,324.1 1904.9,312.8 1898.4,303.2 1818.1,303.2 1815.0,303.2 1678.5,303.2 1678.5,306.4 1685.0,312.8 1675.3,316.0 1668.9,319.3 1673.7,325.7 1680.1,332.1 1685.0,340.1 1693.0,348.1 1709.0,353.0 1718.6,361.0 1721.9,367.4 1717.0,377.0 1713.8,389.9 1710.6,404.3 1711.4,404.3 1711.4,408.5 1714.6,418.2 1719.5,431.2 1722.7,442.5 1730.8,450.6 1742.2,455.5 1745.4,461.9 1735.7,465.2ZM1807.0,471.7 1802.1,463.6 1815.0,462.3 1815.0,460.3 1824.7,461.9 1831.2,466.8 1824.7,470.0 1815.0,468.4 1815.0,472.8ZM1771.6,319.3 1776.4,317.7 1778.0,322.5 1774.8,324.1ZM1871.2,370.6 1876.0,375.4 1877.6,385.0 1874.4,393.1 1863.1,399.5 1857.4,403.8 1858.7,411.7 1855.5,419.8 1847.4,421.4 1842.5,434.4 1831.2,440.9 1818.3,443.5 1818.3,445.7 1794.0,447.4 1777.8,445.7 1761.6,445.7 1753.5,447.4 1745.4,450.6 1735.7,447.4 1729.2,437.6 1730.8,426.3 1732.4,415.0 1729.2,402.0 1731.7,402.0 1736.3,396.3 1747.5,388.3 1757.2,381.8 1762.0,370.6 1773.2,368.2 1786.0,370.6 1800.5,372.2 1808.5,367.4 1802.1,361.0 1792.5,354.6 1786.0,348.1 1792.5,343.3 1786.0,338.5 1776.4,337.7 1771.6,330.5 1779.6,327.3 1792.5,325.7 1808.5,325.4 1818.1,324.9 1818.1,334.6 1823.0,338.5 1831.0,343.3 1847.1,348.1 1853.5,351.3 1856.7,359.4 1847.1,362.6 1843.9,367.4 1850.3,370.6 1863.1,367.4ZM1773.2,358.6 1765.2,356.2 1776.4,351.3 1782.8,352.2 1783.6,357.8ZM1755.1,484.6 1768.1,478.1 1772.9,470.0 1777.8,471.7 1785.9,481.4 1777.8,486.2 1771.3,492.7 1764.8,499.2 1753.5,497.6 1743.8,492.7ZM1769.7,461.9 1777.8,460.3 1785.9,463.6 1777.8,466.8 1771.3,466.8ZM1843.3,474.9 1838.5,478.9 1834.4,473.3 1839.3,468.4ZM1644.8,309.6 1636.8,314.4 1636.8,320.9 1640.0,325.7 1648.0,319.3 1660.9,316.0 1665.7,312.8 1656.1,311.2ZM1927.3,365.8 1934.5,357.8 1928.9,353.0 1922.5,354.6 1922.5,362.6Z" fill="#fce0d0" fill-rule="evenodd" stroke="#fce0d0" stroke-width="0.6" stroke-linejoin="round"/>
<path d="M1771.6,319.3 1774.8,324.1 1778.0,322.5 1776.4,317.7ZM1731.7,402.0 1729.2,402.0 1732.4,415.0 1730.8,426.3 1729.2,437.6 1735.7,447.4 1745.4,450.6 1753.5,447.4 1761.6,445.7 1777.8,445.7 1794.0,447.4 1818.3,445.7 1818.3,443.5 1831.2,440.9 1842.5,434.4 1847.4,421.4 1855.5,419.8 1858.7,411.7 1857.4,403.8 1863.1,399.5 1874.4,393.1 1877.6,385.0 1876.0,375.4 1871.2,370.6 1863.1,367.4 1850.3,370.6 1843.9,367.4 1847.1,362.6 1856.7,359.4 1853.5,351.3 1847.1,348.1 1831.0,343.3 1823.0,338.5 1818.1,334.6 1818.1,324.9 1808.5,325.4 1792.5,325.7 1779.6,327.3 1771.6,330.5 1776.4,337.7 1786.0,338.5 1792.5,343.3 1786.0,348.1 1792.5,354.6 1802.1,361.0 1808.5,367.4 1800.5,372.2 1786.0,370.6 1773.2,368.2 1762.0,370.6 1757.2,381.8 1747.5,388.3 1736.3,396.3ZM1815.0,380.2 1823.0,383.4 1831.0,386.6 1839.1,389.9 1850.3,393.1 1856.7,397.9 1851.9,404.3 1839.9,404.3 1840.9,408.5 1839.3,416.6 1831.2,419.8 1823.1,421.4 1818.3,422.4 1818.3,427.9 1818.3,434.4 1802.1,439.3 1785.9,442.5 1766.5,444.1 1761.6,437.6 1764.8,434.4 1755.1,427.9 1745.4,423.1 1743.8,411.7 1751.9,405.2 1757.5,403.4 1760.4,396.3 1763.6,389.9 1776.4,386.6 1786.0,383.4 1800.5,383.4 1815.0,382.1ZM1765.2,356.2 1773.2,358.6 1783.6,357.8 1782.8,352.2 1776.4,351.3ZM1764.8,499.2 1771.3,492.7 1777.8,486.2 1785.9,481.4 1777.8,471.7 1772.9,470.0 1768.1,478.1 1755.1,484.6 1743.8,492.7 1753.5,497.6ZM1777.8,466.8 1785.9,463.6 1777.8,460.3 1769.7,461.9 1771.3,466.8ZM1863.6,494.3 1857.1,489.5 1847.4,486.2 1836.1,483.0 1828.0,479.8 1815.0,478.1 1815.0,480.7 1810.2,479.8 1802.1,481.4 1810.2,489.5 1815.0,488.5 1815.0,506.5 1855.5,506.5 1862.0,500.8ZM1834.4,473.3 1838.5,478.9 1843.3,474.9 1839.3,468.4Z" fill="#f8bb9e" fill-rule="evenodd" stroke="#f8bb9e" stroke-width="0.6" stroke-linejoin="round"/>
<path d="M1839.1,389.9 1831.0,386.6 1823.0,383.4 1815.0,380.2 1815.0,382.1 1800.5,383.4 1786.0,383.4 1776.4,386.6 1763.6,389.9 1760.4,396.3 1757.5,403.4 1751.9,405.2 1743.8,411.7 1745.4,423.1 1755.1,427.9 1764.8,434.4 1761.6,437.6 1766.5,444.1 1785.9,442.5 1802.1,439.3 1818.3,434.4 1818.3,427.9 1803.7,423.1 1794.0,419.8 1785.9,415.0 1777.8,411.7 1774.6,406.9 1781.0,402.0 1794.0,402.0 1802.1,410.1 1810.2,415.0 1818.3,416.6 1818.3,422.4 1823.1,421.4 1831.2,419.8 1839.3,416.6 1840.9,408.5 1839.9,404.3 1851.9,404.3 1856.7,397.9 1850.3,393.1ZM1824.6,394.7 1829.4,397.9 1827.8,402.7 1818.2,402.7 1818.2,397.9Z" fill="#e8896c" fill-rule="evenodd" stroke="#e8896c" stroke-width="0.6" stroke-linejoin="round"/>
<path d="M1829.4,397.9 1824.6,394.7 1818.2,397.9 1818.2,402.7 1827.8,402.7ZM1785.9,415.0 1794.0,419.8 1803.7,423.1 1818.3,427.9 1818.3,416.6 1810.2,415.0 1802.1,410.1 1794.0,402.0 1781.0,402.0 1774.6,406.9 1777.8,411.7Z" fill="#cf5246" fill-rule="evenodd" stroke="#cf5246" stroke-width="0.6" stroke-linejoin="round"/>
<g fill="#666666" stroke="#ffffff" stroke-width="0.35" stroke-opacity="0.7"><circle cx="1725.9" cy="401.4" r="2.6"/><circle cx="1732.3" cy="401.0" r="2.6"/><circle cx="1738.2" cy="395.0" r="2.6"/><circle cx="1744.6" cy="392.1" r="2.6"/><circle cx="1751.0" cy="389.1" r="2.6"/><circle cx="1757.3" cy="388.7" r="2.6"/><circle cx="1763.3" cy="382.6" r="2.6"/><circle cx="1769.6" cy="382.6" r="2.6"/><circle cx="1776.0" cy="382.3" r="2.6"/><circle cx="1781.9" cy="376.4" r="2.6"/><circle cx="1788.3" cy="375.9" r="2.6"/><circle cx="1794.7" cy="375.9" r="2.6"/><circle cx="1801.0" cy="375.9" r="2.6"/><circle cx="1807.4" cy="375.9" r="2.6"/><circle cx="1725.9" cy="407.8" r="2.6"/><circle cx="1725.9" cy="413.7" r="2.6"/><circle cx="1813.5" cy="375.9" r="2.6"/><circle cx="1819.8" cy="375.9" r="2.6"/><circle cx="1825.3" cy="370.2" r="2.6"/><circle cx="1831.9" cy="370.2" r="2.6"/><circle cx="1838.3" cy="369.8" r="2.6"/><circle cx="1844.9" cy="370.2" r="2.6"/><circle cx="1850.8" cy="376.1" r="2.6"/><circle cx="1857.2" cy="376.4" r="2.6"/><circle cx="1863.1" cy="382.3" r="2.6"/><circle cx="1869.7" cy="382.6" r="2.6"/><circle cx="1875.7" cy="388.5" r="2.6"/><circle cx="1882.2" cy="388.7" r="2.6"/><circle cx="1882.5" cy="395.3" r="2.6"/><circle cx="1888.6" cy="401.4" r="2.6"/><circle cx="1888.6" cy="407.8" r="2.6"/><circle cx="1888.6" cy="413.7" r="2.6"/><circle cx="1725.9" cy="414.0" r="2.6"/><circle cx="1728.9" cy="420.0" r="2.6"/><circle cx="1731.0" cy="426.4" r="2.6"/><circle cx="1732.7" cy="432.7" r="2.6"/><circle cx="1735.2" cy="438.7" r="2.6"/><circle cx="1738.2" cy="442.1" r="2.6"/><circle cx="1741.2" cy="444.6" r="2.6"/><circle cx="1744.6" cy="448.0" r="2.6"/><circle cx="1748.0" cy="451.0" r="2.6"/><circle cx="1751.4" cy="453.5" r="2.6"/><circle cx="1757.3" cy="454.8" r="2.6"/><circle cx="1763.7" cy="455.6" r="2.6"/><circle cx="1769.6" cy="455.6" r="2.6"/><circle cx="1776.0" cy="455.6" r="2.6"/><circle cx="1782.4" cy="455.6" r="2.6"/><circle cx="1788.3" cy="457.3" r="2.6"/><circle cx="1794.7" cy="451.8" r="2.6"/><circle cx="1801.0" cy="451.4" r="2.6"/><circle cx="1807.4" cy="451.4" r="2.6"/><circle cx="1813.5" cy="457.3" r="2.6"/><circle cx="1819.4" cy="457.8" r="2.6"/><circle cx="1825.8" cy="459.9" r="2.6"/><circle cx="1829.2" cy="457.3" r="2.6"/><circle cx="1832.1" cy="454.8" r="2.6"/><circle cx="1838.5" cy="451.8" r="2.6"/><circle cx="1844.9" cy="451.4" r="2.6"/><circle cx="1850.8" cy="445.5" r="2.6"/><circle cx="1857.2" cy="445.5" r="2.6"/><circle cx="1863.5" cy="445.3" r="2.6"/><circle cx="1869.9" cy="439.1" r="2.6"/><circle cx="1875.9" cy="432.7" r="2.6"/><circle cx="1882.2" cy="426.8" r="2.6"/><circle cx="1882.6" cy="420.0" r="2.6"/></g>
<path d="M1651.5,404.9 L1653.9,403.5 L1659.3,401.4 L1664.7,399.2 L1670.1,398.1 L1673.3,395.4 L1677.7,393.3 L1682.5,390.6 L1683.1,386.3 L1683.1,387.0 L1679.8,387.6 L1676.6,388.6 L1673.3,388.1 L1670.1,387.6 L1666.9,388.1 L1664.2,387.6 L1663.6,384.3 L1660.4,383.0 L1656.1,382.7 L1651.7,381.6 L1648.5,380.0 L1649.0,377.8 L1646.9,375.7 L1649.6,373.0 L1653.9,370.3 L1659.3,368.7 L1664.7,367.6 L1667.9,367.0 L1669.6,364.9 L1669.0,362.7 L1664.7,362.7 L1660.4,363.3 L1653.9,363.8 L1648.5,363.3 L1643.1,361.1 L1638.8,358.9 L1647.4,357.9 L1653.9,356.2 L1659.3,357.3 L1665.2,357.1 L1661.5,355.2 L1658.2,353.5 L1653.9,351.4 L1648.5,349.2 L1644.2,348.1 L1644.2,346.5 L1648.5,344.9 L1653.9,344.9 L1657.7,343.8 L1659.3,342.2 L1661.5,340.0 L1664.7,338.7 L1669.0,337.9 L1673.3,337.3 L1677.7,336.8 L1682.0,336.3 L1686.3,335.2 L1690.6,335.7 L1694.9,336.6 L1697.1,337.3 L1702.5,337.3 L1707.9,338.1 L1714.4,338.7 L1718.7,339.0 L1724.1,339.5 L1729.5,340.0 L1734.9,340.6 L1740.3,340.6 L1745.7,341.3 L1756.1,342.7 L1761.5,343.8 L1766.9,345.2 L1770.1,344.9 L1773.4,343.3 L1777.7,342.2 L1783.1,342.7 L1788.5,341.7 L1793.9,340.6 L1798.2,339.8 L1800.4,341.7 L1802.5,341.1 L1804.7,339.2 L1809.7,340.7 L1814.1,342.9 L1818.5,340.7 L1821.1,342.9 L1827.3,342.1 L1831.7,342.5 L1836.1,343.4 L1840.5,344.3 L1844.9,344.7 L1849.3,345.1 L1853.7,346.0 L1858.1,347.3 L1859.8,348.7 L1858.1,350.0 L1862.5,349.5 L1866.9,349.1 L1870.3,350.4 L1874.9,349.9 L1879.6,349.2 L1881.9,350.4 L1884.2,351.3 L1886.5,350.8 L1888.8,349.9 L1886.5,348.5 L1884.7,348.1 L1885.6,347.1 L1888.8,346.2 L1893.4,345.8 L1896.7,346.0 L1899.0,346.7 L1901.8,348.5 L1903.6,349.7 L1907.3,349.2 L1912.0,349.9 L1915.7,351.1 L1921.2,350.4 L1927.2,350.4 L1927.7,348.1 L1928.0,348.1 L1932.3,347.2 L1937.3,347.5 L1937.9,350.6 L1937.6,352.7 L1939.7,349.3 L1943.4,348.1 L1944.7,345.6 L1941.6,343.8 L1938.5,342.5 L1936.0,340.7 L1936.7,337.6 L1938.5,335.1 L1942.2,333.3 L1945.9,333.6 L1949.6,335.7 L1953.3,338.2 L1956.4,340.7 L1953.3,341.9 L1954.6,342.5 L1959.5,343.2 L1960.7,346.9 L1964.4,344.7 L1966.9,344.4 L1969.4,346.2 L1970.6,349.3 L1973.1,351.2 L1975.3,351.8 L1976.9,350.5 L1979.9,347.4 L1981.2,343.7 L1980.6,341.6 M1998.5,350.5 L1995.4,352.1 L1989.2,353.6 L1983.0,354.9 L1979.9,355.5 L1978.1,357.3 L1975.0,361.0 L1970.7,364.1 L1964.5,365.4 L1960.8,366.6 L1959.6,368.4 L1955.9,370.3 L1955.5,370.4 L1950.9,372.7 L1947.2,375.5 L1944.4,379.2 L1943.0,382.9 L1943.0,386.6 L1948.1,387.0 L1949.9,388.0 L1951.8,391.2 L1953.2,394.5 L1958.3,394.0 L1962.0,394.0 L1967.5,395.8 L1972.2,398.2 L1976.8,399.5 L1983.3,401.4 L1987.9,401.9 L1994.8,402.3 L1995.3,405.1 L1996.2,408.8 L1996.7,411.4 L1995.3,412.0 L1999.0,415.7 M1999.1,343.7 L1996.6,345.6 L1996.0,348.7 L1998.5,349.9 M1651.5,404.9 L1655.5,405.7 L1660.4,404.1 L1666.9,401.4 L1672.3,400.8 L1677.7,399.8 L1679.8,397.6 L1684.1,396.0 L1687.4,394.4 L1691.2,392.2 L1694.9,391.1 L1697.6,389.2 L1699.3,387.7 L1697.4,385.9 L1700.3,384.4 L1701.4,383.2 L1705.7,380.0 L1707.9,378.4 L1712.2,377.8 L1712.8,378.9 L1707.9,380.5 L1706.3,382.7 L1706.8,385.9 L1710.1,385.4 L1714.4,384.3 L1718.7,383.2 L1721.9,382.2 L1723.0,379.5 L1725.2,378.9 L1729.5,380.0 L1734.9,381.6 L1740.3,382.2 L1745.7,382.7 L1751.1,383.8 L1745.3,382.2 L1750.7,383.2 L1755.3,384.0 L1759.9,386.3 L1764.6,388.6 L1771.0,390.0 L1779.4,390.0 L1781.7,393.3 L1784.9,395.1 L1787.7,397.9 L1788.6,400.7 L1792.3,402.0 L1795.1,404.4 L1796.0,407.1 L1799.3,409.0 L1801.1,412.2 L1804.4,413.6 L1806.2,416.4 L1807.6,418.7 L1810.9,421.0 L1812.7,421.9 L1819.2,424.6 L1823.5,426.8 L1825.7,428.9 L1823.5,431.1 L1821.3,432.2 L1820.8,435.4 L1821.1,441.9 L1821.3,446.2 L1820.8,451.4 L1819.5,453.3 L1820.6,458.7 L1820.0,464.1 L1822.2,469.5 L1826.5,473.8 L1830.8,480.3 L1836.2,487.8 L1840.5,489.5 L1845.9,491.1 L1849.2,493.2 L1852.4,500.8 L1855.7,506.7 L1856.2,510.5 M1803.5,421.4 L1808.4,421.9 L1814.9,424.1 L1821.3,426.8 L1825.7,427.8 L1827.8,431.1 L1828.4,435.4 L1826.2,434.3 L1824.6,432.2 L1821.3,430.0 L1815.9,427.8 L1810.5,425.7 L1805.1,424.1 L1803.0,422.4Z M1783.1,406.7 L1789.7,407.0 L1788.4,410.8 L1792.8,415.0 L1790.0,415.0 L1784.9,409.9Z M1860.0,510.5 L1860.0,506.7 L1859.4,500.3 L1861.1,499.7 L1865.4,501.3 L1867.5,506.7 L1868.1,510.5 M1640.9,381.6 L1645.3,380.9 L1649.6,381.6 L1648.5,383.2 L1644.2,383.0Z M1694.9,392.2 L1699.3,390.9 L1704.7,391.7 L1705.2,393.3 L1701.4,394.9 L1697.1,396.0 L1695.5,394.4Z M1632.3,368.4 L1635.8,368.7 M1826.6,315.8 L1831.2,313.3 L1836.2,311.4 L1842.3,309.9 L1848.5,309.3 L1854.4,309.0 L1854.1,311.7 L1852.2,313.3 L1845.4,314.2 L1839.3,315.4 L1833.1,316.7 L1828.1,316.4Z M1847.9,319.5 L1851.0,316.7 L1854.7,314.8 L1857.8,314.2 L1863.9,315.1 L1870.1,316.4 L1875.1,317.6 L1878.1,317.9 L1877.5,314.5 L1881.2,313.0 L1885.3,312.7 L1887.8,315.4 L1890.2,316.4 L1894.6,316.1 L1897.6,317.3 L1897.0,319.8 L1894.6,320.7 L1890.2,321.0 L1885.3,321.1 L1879.4,320.7 L1873.2,321.6 L1867.0,322.5 L1863.9,322.2 L1863.9,320.7 L1867.0,320.3 L1860.9,319.9 L1854.7,319.8Z M1817.3,323.2 L1823.8,322.5 L1831.2,322.2 L1839.3,322.9 L1845.4,323.5 L1852.2,325.3 L1848.5,327.5 L1843.6,329.6 L1839.9,332.1 L1836.2,334.9 L1831.2,336.1 L1825.7,337.2 L1820.7,335.8 L1813.9,333.4 L1817.6,329.0 L1821.3,325.3Z M1840.5,334.6 L1843.1,331.9 L1849.3,329.3 L1854.6,327.5 L1853.4,326.6 L1857.8,327.2 L1860.9,328.1 L1862.1,329.6 L1865.8,329.0 L1870.1,328.7 L1873.2,329.6 L1876.3,330.6 L1879.4,329.0 L1882.5,328.4 L1885.3,329.6 L1887.2,328.4 L1890.2,327.2 L1894.6,325.9 L1900.7,326.6 L1903.2,327.2 L1900.7,328.4 L1899.5,329.6 L1900.4,332.3 L1902.2,335.1 L1903.6,337.0 L1907.3,338.3 L1912.0,339.7 L1916.6,340.9 L1917.5,341.8 L1914.3,342.5 L1912.0,343.0 L1910.6,343.4 L1912.0,344.8 L1911.5,346.0 L1909.7,345.8 L1905.0,345.5 L1900.4,345.1 L1896.7,344.4 L1893.4,344.4 L1888.8,344.8 L1884.2,345.3 L1879.6,345.8 L1874.9,346.2 L1870.3,346.7 L1866.9,346.9 L1862.5,347.3 L1856.3,345.6 L1852.8,344.3 L1849.3,341.6 L1846.6,339.9 L1844.0,336.3Z M1898.3,303.1 L1903.8,302.8 L1910.0,303.7 L1916.2,305.0 L1921.1,306.5 L1922.6,308.7 L1918.6,308.0 L1913.1,306.8 L1906.9,306.2 L1899.5,306.5 L1898.6,304.6Z M1926.7,304.3 L1929.7,304.0 L1934.7,304.6 L1939.0,305.6 L1939.6,307.4 L1937.8,308.7 L1933.4,308.7 L1929.7,307.4 L1927.3,306.2Z M1910.6,314.8 L1916.2,313.9 L1922.3,313.3 L1927.9,313.3 L1930.4,314.8 L1930.4,317.9 L1928.5,320.4 L1922.3,320.7 L1918.6,320.4 L1917.4,317.9 L1911.2,317.6 L1910.6,316.1Z M1934.7,320.4 L1937.8,318.5 L1942.7,317.9 L1946.4,318.8 L1947.0,320.7 L1943.9,321.6 L1937.8,321.3Z M1910.6,329.6 L1914.3,328.4 L1916.2,326.6 L1919.9,325.0 L1925.4,325.3 L1933.4,325.9 L1932.2,328.4 L1934.1,330.3 L1934.7,332.7 L1932.2,334.6 L1928.5,335.8 L1923.6,335.5 L1919.3,334.0 L1914.9,332.1 L1911.2,330.9Z M1937.8,325.9 L1940.9,324.1 L1947.0,323.8 L1953.2,324.1 L1960.6,325.0 L1956.3,327.2 L1950.1,329.6 L1944.6,332.1 L1940.9,332.1 L1938.4,329.6Z M1921.8,343.5 L1924.9,341.9 L1928.6,340.7 L1932.3,341.3 L1935.4,342.5 L1938.5,344.4 L1938.5,345.3 L1935.4,345.6 L1931.1,345.3 L1926.2,344.4 L1922.5,343.8Z M1936.7,300.1 L1942.3,301.6 L1949.7,302.2 L1946.6,304.0 L1949.1,305.9 L1955.9,307.1 L1963.3,306.9 L1969.4,305.9 L1973.8,303.7 L1975.6,301.9 L1982.4,302.2 L1983.0,303.4 L1978.1,304.0 L1973.8,305.0 M1973.2,306.2 L1970.7,308.7 L1971.9,310.8 L1964.5,312.1 L1964.8,314.2 L1976.9,314.2 L1989.2,314.2 L1999.4,313.9 M1933.6,312.4 L1939.8,312.5 L1947.2,312.7 L1955.9,313.6 L1959.0,314.8 L1960.2,316.7 L1964.5,317.6 L1976.9,318.2 L1989.2,317.8 L1999.4,317.3 M1933.6,312.4 L1933.6,313.3 L1939.8,313.9 L1947.8,314.8 L1950.3,316.7 L1952.2,319.8 L1958.3,321.3 L1970.7,322.2 L1983.0,322.5 L1999.4,322.2 M1999.4,327.8 L1997.8,326.6 L1995.4,325.3 L1991.7,325.3 L1986.7,326.6 L1983.0,328.4 L1980.6,330.3 L1978.1,328.4 L1979.9,326.6 L1978.7,325.3 L1971.9,325.6 L1965.7,326.6 L1963.3,328.4 L1961.7,332.1 L1963.3,335.2 L1963.9,333.9 L1964.5,336.6 L1968.2,338.2 L1973.8,339.4 L1979.9,340.4 L1986.1,341.0 L1992.3,341.6 L1999.4,342.0 M1979.9,356.1 L1983.0,359.2 L1989.2,361.6 L1998.5,364.7 L1998.5,366.9 L1991.1,366.0 L1986.1,367.2 L1981.8,369.1 L1979.9,368.4 L1975.6,367.8 L1977.5,366.0 L1979.0,362.3 L1979.6,358.6Z M1987.9,373.2 L1991.6,370.8 L1997.2,370.8 L1995.3,372.7 L1989.7,374.1Z M1964.8,505.9 L1968.9,504.8 L1977.1,504.8 L1981.2,505.9 M1997.9,505.9 L1997.9,502.2 L1998.7,500.6" fill="none" stroke="#000" stroke-width="2.2" stroke-linejoin="round" stroke-linecap="round"/>
<path d="M1868.9,305.6 L1873.2,304.2 L1879.4,304.5 L1881.8,305.6 L1880.9,307.3 L1874.4,306.9 L1869.5,307.7Z" fill="#000"/>
<path d="M1864.6,309.0 L1868.9,305.9 L1873.2,304.3 L1879.4,304.6 L1881.8,305.6 L1880.6,308.7 L1876.3,309.6 L1871.3,310.5 L1866.4,309.9Z M1844.9,335.5 L1854.6,335.5 M1847.5,339.4 L1870.4,339.9 M1898.6,303.7 L1903.8,305.0 M1935.9,309.6 L1947.6,309.6 M1971.9,306.5 L1976.9,307.7 L1983.6,309.9" fill="none" stroke="#000" stroke-width="2.6" stroke-linejoin="round" stroke-linecap="round"/>
</g>
<rect x="1632.7" y="301.1" width="367.0" height="205.2" fill="none" stroke="#000" stroke-width="1.6"/>
<text x="1632.7" y="290.2" font-size="23.3">j)</text>
<line x1="1651.7" y1="506.3" x2="1651.7" y2="511.6" stroke="#808080" stroke-width="1.1"/>
<text x="1651.7" y="530.5" font-size="16.9" fill="#808080" text-anchor="middle">165°W</text>
<line x1="1755.4" y1="506.3" x2="1755.4" y2="511.6" stroke="#808080" stroke-width="1.1"/>
<text x="1755.4" y="530.5" font-size="16.9" fill="#808080" text-anchor="middle">140°W</text>
<line x1="1859.2" y1="506.3" x2="1859.2" y2="511.6" stroke="#808080" stroke-width="1.1"/>
<text x="1859.2" y="530.5" font-size="16.9" fill="#808080" text-anchor="middle">115°W</text>
<line x1="1962.9" y1="506.3" x2="1962.9" y2="511.6" stroke="#808080" stroke-width="1.1"/>
<text x="1962.9" y="530.5" font-size="16.9" fill="#808080" text-anchor="middle">90°W</text>
<text transform="translate(18.2,151.4) rotate(-90)" font-size="23.5" text-anchor="middle">2m Temperature</text>
<text transform="translate(18.2,403.2) rotate(-90)" font-size="23.5" text-anchor="middle">Blocked days</text>
<rect x="398.7" y="622.2" width="204.3" height="25.1" fill="#f7f6f6"/>
<rect x="602.7" y="622.2" width="204.3" height="25.1" fill="#fce0d0"/>
<rect x="806.7" y="622.2" width="204.3" height="25.1" fill="#f8bb9e"/>
<rect x="1010.7" y="622.2" width="204.3" height="25.1" fill="#e8896c"/>
<rect x="1214.7" y="622.2" width="204.3" height="25.1" fill="#cf5246"/>
<rect x="1418.7" y="622.2" width="204.3" height="25.1" fill="#b1182b"/>
<rect x="398.7" y="622.2" width="1224.0" height="25.1" fill="none" stroke="#222" stroke-width="1.3"/>
<text x="398.7" y="612.0" font-size="23.3" text-anchor="middle">0</text>
<text x="602.7" y="612.0" font-size="23.3" text-anchor="middle">0.05</text>
<text x="806.7" y="612.0" font-size="23.3" text-anchor="middle">0.2</text>
<text x="1010.7" y="612.0" font-size="23.3" text-anchor="middle">0.4</text>
<text x="1214.7" y="612.0" font-size="23.3" text-anchor="middle">0.6</text>
<text x="1418.7" y="612.0" font-size="23.3" text-anchor="middle">0.8</text>
<text x="1622.7" y="612.0" font-size="23.3" text-anchor="middle">1.0</text>
<text x="1010.7" y="583.8" font-size="23.4" text-anchor="middle">Fraction of ensemble members greater than 95th percentile</text>
</svg></body></html>
